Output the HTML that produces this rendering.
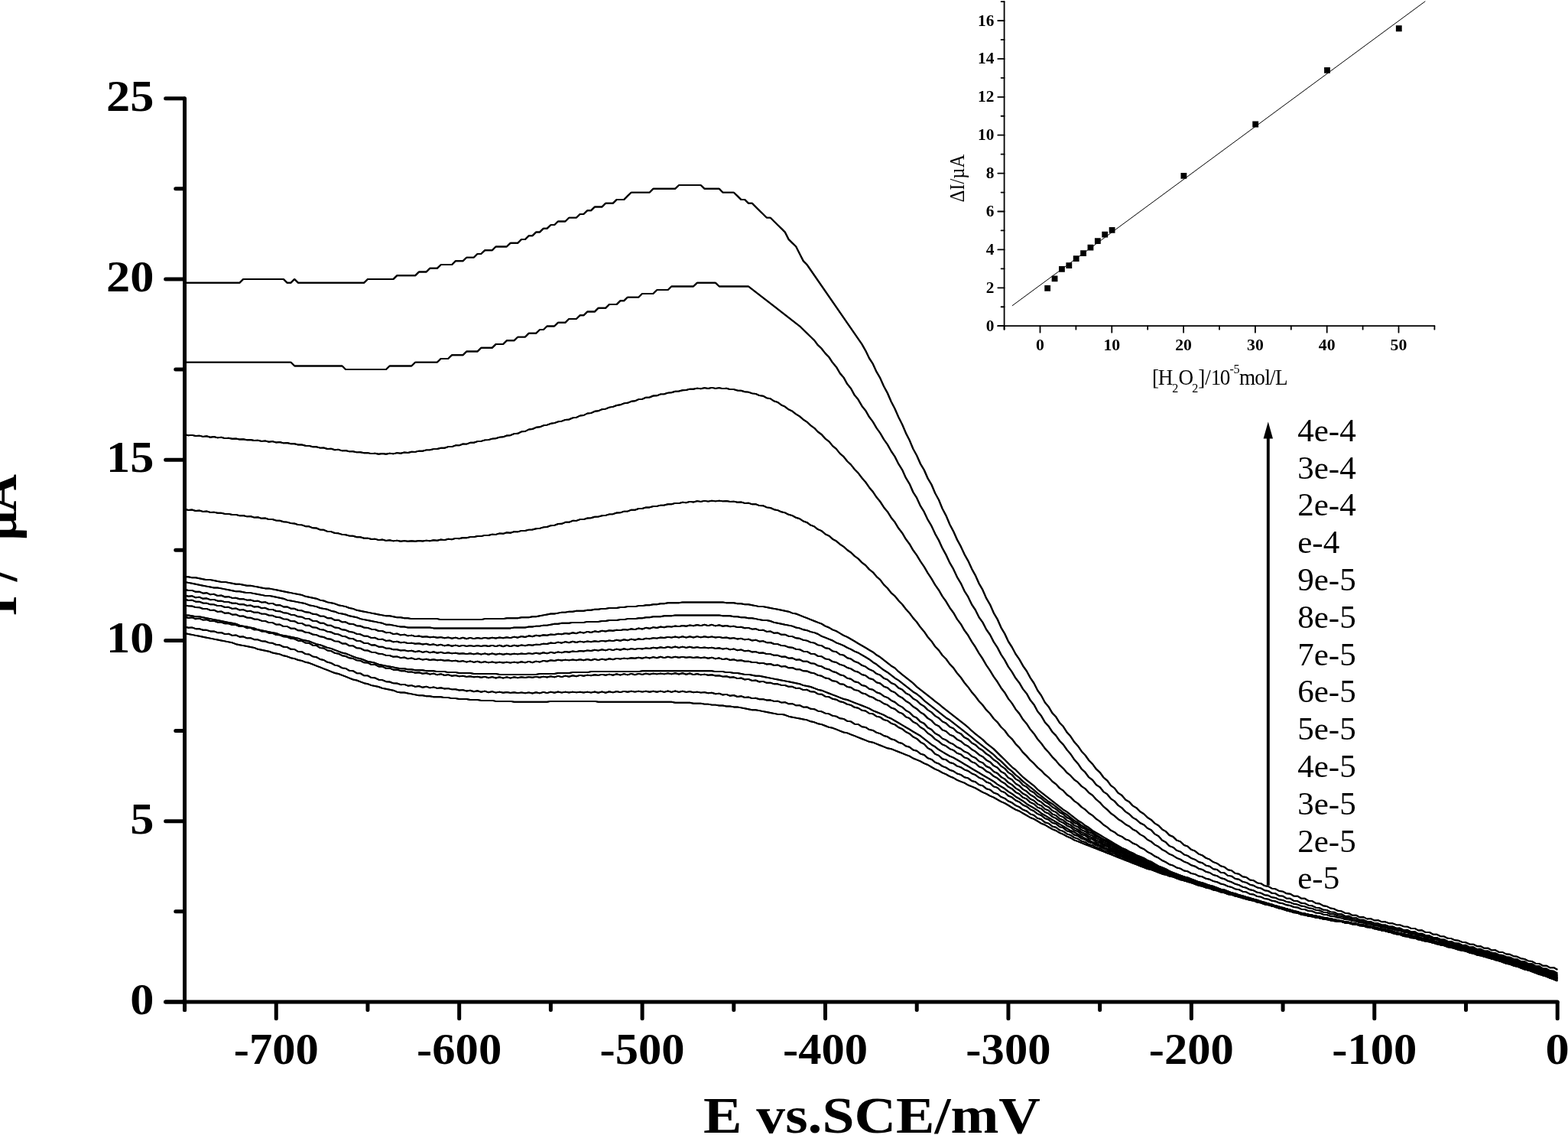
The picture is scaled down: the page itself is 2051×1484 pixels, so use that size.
<!DOCTYPE html>
<html lang="en"><head><meta charset="utf-8"><title>I / µA vs. E vs.SCE/mV</title>
<style>
html,body{margin:0;padding:0;background:#fff;}
body{width:2051px;height:1484px;overflow:hidden;}
svg{display:block;}
text{font-family:"Liberation Serif","DejaVu Serif",serif;fill:#000;}
.b{font-weight:bold;}
.ax{stroke:#000;stroke-width:5;stroke-linecap:round;stroke-linejoin:round;fill:none;}
.iax{stroke:#000;stroke-width:1.8;stroke-linecap:round;stroke-linejoin:round;fill:none;}
.cv{stroke:#000;stroke-width:1.95;stroke-linejoin:round;stroke-linecap:butt;fill:none;}
</style></head><body>
<svg width="2051" height="1484" viewBox="0 0 2051 1484">
<rect x="0" y="0" width="2051" height="1484" fill="#fff"/>
<g class="cv" transform="translate(-0.22 0)">
<path d="M241.6 828L246.3 829L251.1 829.9L255.9 830.9L260.7 831.8L265.5 832.8L270.3 833.7L275.1 834.6L279.9 835.6L284.6 836.5L289.4 837.5L294.2 838.4L299 839.4L303.8 840.3L308.6 842.2L313.4 843.2L318.2 844.1L323 845L327.7 846L332.5 846.9L337.3 848.8L342.1 849.8L346.9 850.7L351.7 851.7L356.5 853.5L361.3 854.5L366 855.4L370.8 857.3L375.6 858.3L380.4 860.2L385.2 861.1L390 863L394.8 863.9L399.6 865.8L404.4 866.8L409.1 868.7L413.9 870.6L418.7 872.4L423.5 874.3L428.3 876.2L433.1 878.1L437.9 880L442.7 881L447.5 882.8L452.2 884.7L457 886.6L461.8 888.5L466.6 889.5L471.4 891.3L476.2 893.2L481 894.2L485.8 896.1L490.5 897L495.3 898L500.1 899.9L504.9 900.8L509.7 901.7L514.5 902.7L519.3 904.6L524.1 905.5L528.9 905.5L533.6 906.5L538.4 907.4L543.2 908.4L548 909.3L552.8 909.3L557.6 910.2L562.4 910.2L567.2 911.2L571.9 911.2L576.7 911.2L581.5 912.1L586.3 912.1L591.1 913.1L595.9 913.1L600.7 914L605.5 914L610.3 914L615 915L619.8 915L624.6 915L629.4 915.9L634.2 915.9L639 915.9L643.8 915.9L648.6 916.9L653.4 916.9L658.1 916.9L662.9 916.9L667.7 916.9L672.5 917.8L677.3 917.8L682.1 917.8L686.9 917.8L691.7 917.8L696.4 917.8L701.2 917.8L706 917.8L710.8 917.8L715.6 917.8L720.4 916.9L725.2 916.9L730 916.9L734.8 916.9L739.5 916.9L744.3 916.9L749.1 916.9L753.9 916.9L758.7 916.9L763.5 916.9L768.3 916.9L773.1 916.9L777.9 916.9L782.6 917.8L787.4 917.8L792.2 917.8L797 917.8L801.8 917.8L806.6 917.8L811.4 917.8L816.2 917.8L820.9 917.8L825.7 917.8L830.5 917.8L835.3 917.8L840.1 917.8L844.9 917.8L849.7 917.8L854.5 917.8L859.3 917.8L864 917.8L868.8 917.8L873.6 917.8L878.4 917.8L883.2 918.8L888 918.8L892.8 918.8L897.6 918.8L902.3 918.8L907.1 919.7L911.9 919.7L916.7 919.7L921.5 920.6L926.3 920.6L931.1 921.6L935.9 921.6L940.7 922.5L945.4 922.5L950.2 923.5L955 923.5L959.8 924.4L964.6 924.4L969.4 925.4L974.2 926.3L979 927.3L983.8 928.2L988.5 928.2L993.3 929.1L998.1 930.1L1002.9 931L1007.7 932L1012.5 932.9L1017.3 933.9L1022.1 933.9L1026.8 934.8L1031.6 936.7L1036.4 937.7L1041.2 938.6L1046 939.5L1050.8 940.5L1055.6 941.4L1060.4 943.3L1065.2 944.3L1069.9 946.2L1074.7 947.1L1079.5 949L1084.3 950.9L1089.1 951.8L1093.9 953.7L1098.7 955.6L1103.5 957.5L1108.3 958.4L1113 960.3L1117.8 962.2L1122.6 964.1L1127.4 966L1132.2 967.9L1137 969.8L1141.8 970.7L1146.6 972.6L1151.3 974.5L1156.1 976.4L1160.9 978.3L1165.7 979.2L1170.5 981.1L1175.3 983L1180.1 984.9L1184.9 986.8L1189.7 988.7L1194.4 991.5L1199.2 993.4L1204 995.3L1208.8 998.1L1213.6 1000L1218.4 1002.9L1223.2 1005.7L1228 1007.6L1232.7 1010.4L1237.5 1012.3L1242.3 1015.1L1247.1 1017L1251.9 1019.9L1256.7 1021.8L1261.5 1023.7L1266.3 1026.5L1271.1 1028.4L1275.8 1030.3L1280.6 1033.1L1285.4 1035.9L1290.2 1037.8L1295 1040.7L1299.8 1042.6L1304.6 1045.4L1309.4 1048.2L1314.2 1050.1L1318.9 1052.9L1323.7 1055.8L1328.5 1058.6L1333.3 1060.5L1338.1 1063.3L1342.9 1066.2L1347.7 1069L1352.5 1070.9L1357.2 1073.7L1362 1076.6L1366.8 1078.5L1371.6 1081.3L1376.4 1084.1L1381.2 1086L1386 1088.9L1390.8 1090.8L1395.6 1093.6L1400.3 1095.5L1405.1 1098.3L1409.9 1100.2L1414.7 1102.1L1419.5 1104L1424.3 1105.9L1429.1 1107.8L1433.9 1109.7L1438.7 1111.5L1443.4 1113.4L1448.2 1115.3L1453 1117.2L1457.8 1119.1L1462.6 1121L1467.4 1122.9L1472.2 1124.8L1477 1126.7L1481.7 1128.6L1486.5 1130.4L1491.3 1132.3L1496.1 1134.2L1500.9 1136.1L1505.7 1137.1L1510.5 1138.9L1515.3 1140.8L1520.1 1142.7L1524.8 1143.7L1529.6 1145.6L1534.4 1146.5L1539.2 1148.4L1544 1150.3L1548.8 1151.2L1553.6 1153.1L1558.4 1154.1L1563.1 1156L1567.9 1157.8L1572.7 1158.8L1577.5 1160.7L1582.3 1161.6L1587.1 1163.5L1591.9 1164.5L1596.7 1166.4L1601.5 1167.3L1606.2 1169.2L1611 1170.1L1615.8 1171.1L1620.6 1173L1625.4 1173.9L1630.2 1175.8L1635 1176.7L1639.8 1177.7L1644.6 1179.6L1649.3 1180.5L1654.1 1182.4L1658.9 1183.4L1663.7 1184.3L1668.5 1186.2L1673.3 1187.1L1678.1 1189L1682.9 1190L1687.6 1191.9L1692.4 1192.8L1697.2 1193.8L1702 1195.7L1706.8 1196.6L1711.6 1197.5L1716.4 1198.5L1721.2 1199.4L1726 1200.4L1730.7 1201.3L1735.5 1202.3L1740.3 1203.2L1745.1 1204.2L1749.9 1205.1L1754.7 1205.1L1759.5 1206L1764.3 1207L1769 1207.9L1773.8 1208.9L1778.6 1209.8L1783.4 1210.8L1788.2 1211.7L1793 1212.7L1797.8 1213.6L1802.6 1215.5L1807.4 1216.4L1812.1 1217.4L1816.9 1218.3L1821.7 1220.2L1826.5 1221.2L1831.3 1222.1L1836.1 1224L1840.9 1224.9L1845.7 1225.9L1850.5 1226.8L1855.2 1227.8L1860 1229.7L1864.8 1230.6L1869.6 1231.6L1874.4 1232.5L1879.2 1234.4L1884 1235.3L1888.8 1236.3L1893.5 1238.2L1898.3 1239.1L1903.1 1240.1L1907.9 1242L1912.7 1242.9L1917.5 1243.8L1922.3 1245.7L1927.1 1246.7L1931.9 1248.6L1936.6 1249.5L1941.4 1250.5L1946.2 1252.4L1951 1253.3L1955.8 1255.2L1960.6 1256.1L1965.4 1258L1970.2 1259.9L1975 1260.9L1979.7 1262.7L1984.5 1263.7L1989.3 1265.6L1994.1 1267.5L1998.9 1268.4L2003.7 1270.3L2008.5 1272.2L2013.3 1274.1L2018 1275L2022.8 1276.9L2027.6 1278.8L2032.4 1280.7L2037.2 1282.6"/>
<path d="M241.6 819.2L246.3 820.7L251.1 820.4L255.9 822.2L260.7 822.1L265.5 823.7L270.3 823.8L275.1 825.4L279.9 825.4L284.6 827.2L289.4 827L294.2 829.1L299 828.7L303.8 830.9L308.6 830.4L313.4 832.7L318.2 832.3L323 834.4L327.7 834.2L332.5 836.2L337.3 836.3L342.1 838.2L346.9 838.5L351.7 840.4L356.5 840.8L361.3 843L366 843.3L370.8 845.8L375.6 846.1L380.4 848.8L385.2 849L390 852L394.8 852.2L399.6 855.1L404.4 855.5L409.1 858.4L413.9 859.2L418.7 862L423.5 863L428.3 865.8L433.1 866.9L437.9 869.6L442.7 870.6L447.5 873.4L452.2 874L457 876.9L461.8 877.2L466.6 880.2L471.4 880.4L476.2 883.3L481 883.4L485.8 886.1L490.5 886.3L495.3 888.7L500.1 889.1L504.9 891.2L509.7 891.5L514.5 893.4L519.3 893.5L524.1 895.2L528.9 894.9L533.6 896.7L538.4 896.1L543.2 897.9L548 897L552.8 898.8L557.6 897.7L562.4 899.4L567.2 898.4L571.9 899.9L576.7 899.2L581.5 900.5L586.3 900.1L591.1 901.4L595.9 901.2L600.7 902.5L605.5 902.1L610.3 903.5L615 902.7L619.8 904.2L624.6 903.2L629.4 904.8L634.2 903.6L639 905.3L643.8 904.1L648.6 905.6L653.4 904.6L658.1 905.8L662.9 905L667.7 905.9L672.5 905.2L677.3 906.1L682.1 905.4L686.9 906.3L691.7 905.4L696.4 906.5L701.2 905.2L706 906.4L710.8 904.9L715.6 906.1L720.4 904.6L725.2 905.8L730 904.5L734.8 905.6L739.5 904.6L744.3 905.5L749.1 904.6L753.9 905.4L758.7 904.7L763.5 905.5L768.3 904.6L773.1 905.6L777.9 904.5L782.6 905.7L787.4 904.4L792.2 905.7L797 904.2L801.8 905.4L806.6 904L811.4 905.1L816.2 903.9L820.9 904.8L825.7 903.8L830.5 904.6L835.3 903.8L840.1 904.6L844.9 903.8L849.7 904.7L854.5 903.7L859.3 904.8L864 903.6L868.8 904.9L873.6 903.5L878.4 904.9L883.2 903.5L888 904.9L892.8 903.7L897.6 904.9L902.3 904.1L907.1 905.2L911.9 904.6L916.7 905.6L921.5 905.1L926.3 906.2L931.1 905.7L935.9 907.2L940.7 906.7L945.4 908.5L950.2 907.9L955 909.8L959.8 909L964.6 911L969.4 910.2L974.2 912L979 911.5L983.8 913.1L988.5 912.8L993.3 914.3L998.1 914.1L1002.9 915.5L1007.7 915.3L1012.5 916.9L1017.3 916.7L1022.1 918.6L1026.8 918.2L1031.6 920.4L1036.4 920L1041.2 922.4L1046 922.1L1050.8 924.6L1055.6 924.5L1060.4 926.8L1065.2 927.2L1069.9 929.6L1074.7 930.3L1079.5 932.6L1084.3 933.4L1089.1 935.9L1093.9 936.6L1098.7 939.3L1103.5 939.9L1108.3 942.9L1113 943.4L1117.8 946.6L1122.6 947L1127.4 950.3L1132.2 950.9L1137 954L1141.8 954.9L1146.6 957.9L1151.3 959.1L1156.1 962L1160.9 963.3L1165.7 966.3L1170.5 967.6L1175.3 970.8L1180.1 972L1184.9 975.5L1189.7 976.7L1194.4 980.5L1199.2 981.7L1204 985.6L1208.8 987L1213.6 991.2L1218.4 992.8L1223.2 996.8L1228 998.5L1232.7 1001.9L1237.5 1003.6L1242.3 1006.8L1247.1 1008.3L1251.9 1011.5L1256.7 1012.9L1261.5 1016.2L1266.3 1017.4L1271.1 1021L1275.8 1022.2L1280.6 1026.1L1285.4 1027.3L1290.2 1031.3L1295 1032.6L1299.8 1036.5L1304.6 1038.1L1309.4 1041.9L1314.2 1043.8L1318.9 1047.4L1323.7 1049.5L1328.5 1053.1L1333.3 1055.1L1338.1 1058.7L1342.9 1060.5L1347.7 1064.3L1352.5 1065.9L1357.2 1069.9L1362 1071.2L1366.8 1075.3L1371.6 1076.6L1376.4 1080.5L1381.2 1081.8L1386 1085.4L1390.8 1086.9L1395.6 1090.3L1400.3 1091.9L1405.1 1095.1L1409.9 1096.7L1414.7 1099.8L1419.5 1101.1L1424.3 1104.2L1429.1 1105.2L1433.9 1108.3L1438.7 1109L1443.4 1112.2L1448.2 1112.7L1453 1115.9L1457.8 1116.4L1462.6 1119.6L1467.4 1120.4L1472.2 1123.4L1477 1124.4L1481.7 1127.3L1486.5 1128.4L1491.3 1131.2L1496.1 1132.3L1500.9 1135L1505.7 1135.8L1510.5 1138.6L1515.3 1139.1L1520.1 1142.1L1524.8 1142.3L1529.6 1145.3L1534.4 1145.6L1539.2 1148.5L1544 1148.8L1548.8 1151.5L1553.6 1152L1558.4 1154.4L1563.1 1155.1L1567.9 1157.4L1572.7 1158L1577.5 1160.3L1582.3 1160.9L1587.1 1163.3L1591.9 1163.6L1596.7 1166.3L1601.5 1166.4L1606.2 1169.1L1611 1169.1L1615.8 1171.8L1620.6 1171.8L1625.4 1174.4L1630.2 1174.6L1635 1177L1639.8 1177.4L1644.6 1179.5L1649.3 1180L1654.1 1182.2L1658.9 1182.7L1663.7 1184.9L1668.5 1185.3L1673.3 1187.8L1678.1 1188L1682.9 1190.6L1687.6 1190.6L1692.4 1193.3L1697.2 1193.2L1702 1195.7L1706.8 1195.7L1711.6 1197.9L1716.4 1197.9L1721.2 1199.8L1726 1199.9L1730.7 1201.6L1735.5 1201.7L1740.3 1203.3L1745.1 1203.2L1749.9 1205L1754.7 1204.7L1759.5 1206.8L1764.3 1206.3L1769 1208.5L1773.8 1208L1778.6 1210.4L1783.4 1210.1L1788.2 1212.3L1793 1212.3L1797.8 1214.4L1802.6 1214.6L1807.4 1216.6L1812.1 1217L1816.9 1218.9L1821.7 1219.3L1826.5 1221.4L1831.3 1221.5L1836.1 1223.8L1840.9 1223.8L1845.7 1226.3L1850.5 1226L1855.2 1228.6L1860 1228.4L1864.8 1230.9L1869.6 1230.8L1874.4 1233.1L1879.2 1233.3L1884 1235.4L1888.8 1235.8L1893.5 1237.8L1898.3 1238.2L1903.1 1240.3L1907.9 1240.7L1912.7 1243L1917.5 1243.1L1922.3 1245.7L1927.1 1245.7L1931.9 1248.4L1936.6 1248.4L1941.4 1251.1L1946.2 1251.2L1951 1253.8L1955.8 1254.1L1960.6 1256.5L1965.4 1257.1L1970.2 1259.4L1975 1260.1L1979.7 1262.4L1984.5 1263.1L1989.3 1265.5L1994.1 1266.1L1998.9 1268.8L2003.7 1269.2L2008.5 1272.1L2013.3 1272.4L2018 1275.5L2022.8 1275.8L2027.6 1278.8L2032.4 1279.3L2037.2 1282.1"/>
<path d="M241.6 806.4L246.3 808L251.1 807.2L255.9 809.3L260.7 808.6L265.5 810.6L270.3 810.2L275.1 812L279.9 811.9L284.6 813.5L289.4 813.6L294.2 815.2L299 815.3L303.8 817.1L308.6 817L313.4 819.1L318.2 818.9L323 821.2L327.7 820.9L332.5 823.4L337.3 823.1L342.1 825.5L346.9 825.5L351.7 827.7L356.5 827.9L361.3 830L366 830.3L370.8 832.4L375.6 832.8L380.4 834.9L385.2 835.3L390 837.7L394.8 838L399.6 840.6L404.4 840.8L409.1 843.7L413.9 844L418.7 847.1L423.5 847.5L428.3 850.5L433.1 851.1L437.9 853.9L442.7 854.7L447.5 857.2L452.2 858L457 860.3L461.8 861L466.6 863.4L471.4 863.8L476.2 866.4L481 866.5L485.8 869.1L490.5 868.9L495.3 871.5L500.1 871.3L504.9 873.8L509.7 873.6L514.5 875.7L519.3 875.5L524.1 877.2L528.9 877.1L533.6 878.6L538.4 878.4L543.2 879.7L548 879.3L552.8 880.7L557.6 880L562.4 881.6L567.2 880.6L571.9 882.3L576.7 881.2L581.5 883L586.3 882.1L591.1 883.7L595.9 883L600.7 884.4L605.5 883.8L610.3 884.9L615 884.3L619.8 885.3L624.6 884.7L629.4 885.8L634.2 884.9L639 886.2L643.8 885.1L648.6 886.5L653.4 885.2L658.1 886.6L662.9 885.3L667.7 886.6L672.5 885.3L677.3 886.3L682.1 885.2L686.9 886L691.7 885.1L696.4 885.8L701.2 884.9L706 885.7L710.8 884.6L715.6 885.5L720.4 884.3L725.2 885.4L730 883.9L734.8 885.1L739.5 883.6L744.3 884.7L749.1 883.2L753.9 884.2L758.7 882.9L763.5 883.7L768.3 882.6L773.1 883.2L777.9 882.3L782.6 882.9L787.4 881.9L792.2 882.8L797 881.6L801.8 882.7L806.6 881.3L811.4 882.6L816.2 881.1L820.9 882.4L825.7 880.9L830.5 882.2L835.3 880.9L840.1 881.9L844.9 880.8L849.7 881.6L854.5 880.7L859.3 881.4L864 880.6L868.8 881.4L873.6 880.4L878.4 881.4L883.2 880.2L888 881.5L892.8 880.2L897.6 881.7L902.3 880.5L907.1 882.1L911.9 881L916.7 882.4L921.5 881.6L926.3 882.8L931.1 882.3L935.9 883.5L940.7 883.2L945.4 884.6L950.2 884.3L955 885.8L959.8 885.3L964.6 887.1L969.4 886.5L974.2 888.5L979 887.9L983.8 890L988.5 889.5L993.3 891.5L998.1 890.9L1002.9 892.8L1007.7 892.6L1012.5 894.3L1017.3 894.3L1022.1 895.9L1026.8 896L1031.6 897.8L1036.4 897.8L1041.2 899.9L1046 899.8L1050.8 902.1L1055.6 901.8L1060.4 904.4L1065.2 904.5L1069.9 907.4L1074.7 907.7L1079.5 910.6L1084.3 911.2L1089.1 913.8L1093.9 914.7L1098.7 917.3L1103.5 918.3L1108.3 920.9L1113 921.9L1117.8 924.8L1122.6 925.7L1127.4 928.8L1132.2 929.5L1137 932.8L1141.8 933.4L1146.6 936.8L1151.3 937.6L1156.1 941.1L1160.9 942.2L1165.7 945.8L1170.5 947.4L1175.3 951L1180.1 953.1L1184.9 956.9L1189.7 959.3L1194.4 963.4L1199.2 965.8L1204 970.3L1208.8 972.9L1213.6 978.1L1218.4 980.7L1223.2 985.9L1228 987.9L1232.7 992.2L1237.5 993.4L1242.3 997L1247.1 998.2L1251.9 1001.6L1256.7 1003.1L1261.5 1006.3L1266.3 1008L1271.1 1011.3L1275.8 1013.2L1280.6 1016.8L1285.4 1018.6L1290.2 1022.5L1295 1024.1L1299.8 1028.4L1304.6 1029.9L1309.4 1034.4L1314.2 1036.1L1318.9 1040.5L1323.7 1042.4L1328.5 1046.5L1333.3 1048.6L1338.1 1052.5L1342.9 1054.6L1347.7 1058.3L1352.5 1060.4L1357.2 1064.2L1362 1066.1L1366.8 1070L1371.6 1071.7L1376.4 1075.7L1381.2 1077.1L1386 1081.1L1390.8 1082.4L1395.6 1086.4L1400.3 1087.8L1405.1 1091.5L1409.9 1093L1414.7 1096.4L1419.5 1097.9L1424.3 1101L1429.1 1102.4L1433.9 1105.3L1438.7 1106.6L1443.4 1109.5L1448.2 1110.5L1453 1113.6L1457.8 1114.4L1462.6 1117.7L1467.4 1118.4L1472.2 1121.8L1477 1122.5L1481.7 1125.8L1486.5 1126.6L1491.3 1129.7L1496.1 1130.7L1500.9 1133.5L1505.7 1134.5L1510.5 1137.2L1515.3 1138.2L1520.1 1140.8L1524.8 1141.6L1529.6 1144.3L1534.4 1144.8L1539.2 1147.7L1544 1148L1548.8 1150.9L1553.6 1151.1L1558.4 1154L1563.1 1154.2L1567.9 1156.9L1572.7 1157.4L1577.5 1159.8L1582.3 1160.4L1587.1 1162.7L1591.9 1163.3L1596.7 1165.6L1601.5 1166.1L1606.2 1168.5L1611 1168.8L1615.8 1171.4L1620.6 1171.5L1625.4 1174.2L1630.2 1174.1L1635 1176.8L1639.8 1176.8L1644.6 1179.4L1649.3 1179.6L1654.1 1182L1658.9 1182.4L1663.7 1184.6L1668.5 1185.2L1673.3 1187.4L1678.1 1187.9L1682.9 1190.2L1687.6 1190.6L1692.4 1192.9L1697.2 1193L1702 1195.5L1706.8 1195.3L1711.6 1197.8L1716.4 1197.5L1721.2 1199.8L1726 1199.5L1730.7 1201.6L1735.5 1201.3L1740.3 1203.2L1745.1 1203.1L1749.9 1204.7L1754.7 1204.8L1759.5 1206.4L1764.3 1206.4L1769 1208.2L1773.8 1208L1778.6 1210.2L1783.4 1209.9L1788.2 1212.3L1793 1211.9L1797.8 1214.4L1802.6 1214.2L1807.4 1216.6L1812.1 1216.6L1816.9 1218.8L1821.7 1219L1826.5 1221L1831.3 1221.4L1836.1 1223.3L1840.9 1223.7L1845.7 1225.7L1850.5 1225.9L1855.2 1228.1L1860 1228.1L1864.8 1230.5L1869.6 1230.3L1874.4 1232.9L1879.2 1232.7L1884 1235.2L1888.8 1235.1L1893.5 1237.5L1898.3 1237.7L1903.1 1239.9L1907.9 1240.3L1912.7 1242.4L1917.5 1242.9L1922.3 1245L1927.1 1245.4L1931.9 1247.7L1936.6 1248L1941.4 1250.5L1946.2 1250.6L1951 1253.3L1955.8 1253.3L1960.6 1256.1L1965.4 1256.2L1970.2 1258.9L1975 1259.2L1979.7 1261.8L1984.5 1262.3L1989.3 1264.8L1994.1 1265.5L1998.9 1267.9L2003.7 1268.7L2008.5 1271.1L2013.3 1271.8L2018 1274.5L2022.8 1275L2027.6 1278L2032.4 1278.4L2037.2 1281.5"/>
<path d="M241.6 804.4L246.3 804.4L251.1 805.3L255.9 806.3L260.7 806.3L265.5 807.2L270.3 808.2L275.1 809.1L279.9 810.1L284.6 811L289.4 812L294.2 812.9L299 813.9L303.8 814.8L308.6 815.7L313.4 817.6L318.2 818.6L323 819.5L327.7 820.5L332.5 821.4L337.3 823.3L342.1 824.2L346.9 825.2L351.7 826.1L356.5 827.1L361.3 828L366 829.9L370.8 830.9L375.6 831.8L380.4 832.8L385.2 833.7L390 834.6L394.8 836.5L399.6 837.5L404.4 838.4L409.1 840.3L413.9 842.2L418.7 843.2L423.5 845L428.3 846.9L433.1 847.9L437.9 849.8L442.7 851.7L447.5 853.5L452.2 854.5L457 856.4L461.8 858.3L466.6 860.2L471.4 861.1L476.2 863L481 864.9L485.8 865.8L490.5 866.8L495.3 868.7L500.1 869.6L504.9 870.6L509.7 871.5L514.5 872.4L519.3 873.4L524.1 874.3L528.9 874.3L533.6 875.3L538.4 875.3L543.2 876.2L548 876.2L552.8 876.2L557.6 877.2L562.4 877.2L567.2 877.2L571.9 878.1L576.7 878.1L581.5 878.1L586.3 879.1L591.1 879.1L595.9 879.1L600.7 880L605.5 880L610.3 880L615 880L619.8 881L624.6 881L629.4 881L634.2 881L639 881L643.8 881L648.6 881L653.4 881.9L658.1 881.9L662.9 881.9L667.7 881.9L672.5 881.9L677.3 881.9L682.1 881.9L686.9 881.9L691.7 881.9L696.4 881.9L701.2 881.9L706 881L710.8 881L715.6 881L720.4 881L725.2 881L730 880L734.8 880L739.5 880L744.3 880L749.1 879.1L753.9 879.1L758.7 879.1L763.5 879.1L768.3 879.1L773.1 878.1L777.9 878.1L782.6 878.1L787.4 878.1L792.2 878.1L797 878.1L801.8 878.1L806.6 878.1L811.4 878.1L816.2 878.1L820.9 878.1L825.7 878.1L830.5 878.1L835.3 878.1L840.1 877.2L916.7 877.2L921.5 877.2L926.3 877.2L931.1 877.2L935.9 878.1L940.7 878.1L945.4 878.1L950.2 879.1L955 879.1L959.8 880L964.6 880L969.4 881L974.2 881.9L979 881.9L983.8 882.8L988.5 883.8L993.3 883.8L998.1 884.7L1002.9 885.7L1007.7 886.6L1012.5 887.6L1017.3 888.5L1022.1 889.5L1026.8 890.4L1031.6 891.3L1036.4 892.3L1041.2 893.2L1046 894.2L1050.8 896.1L1055.6 897L1060.4 898L1065.2 899.9L1069.9 901.7L1074.7 902.7L1079.5 904.6L1084.3 906.5L1089.1 908.4L1093.9 910.2L1098.7 912.1L1103.5 914L1108.3 915L1113 916.9L1117.8 918.8L1122.6 920.6L1127.4 922.5L1132.2 924.4L1137 926.3L1141.8 929.1L1146.6 931L1151.3 932.9L1156.1 934.8L1160.9 937.7L1165.7 939.5L1170.5 942.4L1175.3 945.2L1180.1 948L1184.9 950.9L1189.7 953.7L1194.4 956.6L1199.2 959.4L1204 962.2L1208.8 966L1213.6 969.8L1218.4 973.6L1223.2 976.4L1228 980.2L1232.7 983L1237.5 985.9L1242.3 988.7L1247.1 990.6L1251.9 993.4L1256.7 996.2L1261.5 999.1L1266.3 1001.9L1271.1 1004.8L1275.8 1007.6L1280.6 1010.4L1285.4 1013.3L1290.2 1016.1L1295 1018.9L1299.8 1021.8L1304.6 1025.5L1309.4 1028.4L1314.2 1031.2L1318.9 1035L1323.7 1037.8L1328.5 1041.6L1333.3 1044.4L1338.1 1047.3L1342.9 1051.1L1347.7 1053.9L1352.5 1056.7L1357.2 1059.6L1362 1063.3L1366.8 1066.2L1371.6 1069L1376.4 1071.8L1381.2 1074.7L1386 1077.5L1390.8 1080.4L1395.6 1083.2L1400.3 1086L1405.1 1087.9L1409.9 1090.8L1414.7 1093.6L1419.5 1096.4L1424.3 1098.3L1429.1 1101.1L1433.9 1103L1438.7 1104.9L1443.4 1107.8L1448.2 1109.7L1453 1111.5L1457.8 1113.4L1462.6 1115.3L1467.4 1118.2L1472.2 1120L1477 1121.9L1481.7 1123.8L1486.5 1125.7L1491.3 1128.6L1496.1 1130.4L1500.9 1132.3L1505.7 1134.2L1510.5 1136.1L1515.3 1138L1520.1 1139.9L1524.8 1141.8L1529.6 1142.7L1534.4 1144.6L1539.2 1146.5L1544 1148.4L1548.8 1149.3L1553.6 1151.2L1558.4 1153.1L1563.1 1154.1L1567.9 1156L1572.7 1157.8L1577.5 1158.8L1582.3 1160.7L1587.1 1161.6L1591.9 1163.5L1596.7 1164.5L1601.5 1166.4L1606.2 1167.3L1611 1169.2L1615.8 1170.1L1620.6 1172L1625.4 1173L1630.2 1174.9L1635 1175.8L1639.8 1177.7L1644.6 1178.6L1649.3 1179.6L1654.1 1181.5L1658.9 1182.4L1663.7 1184.3L1668.5 1185.3L1673.3 1187.1L1678.1 1188.1L1682.9 1190L1687.6 1190.9L1692.4 1191.9L1697.2 1193.8L1702 1194.7L1706.8 1195.7L1711.6 1196.6L1716.4 1197.5L1721.2 1199.4L1726 1200.4L1730.7 1200.4L1735.5 1201.3L1740.3 1202.3L1745.1 1203.2L1749.9 1204.2L1754.7 1205.1L1759.5 1206L1764.3 1207L1769 1207.9L1773.8 1208.9L1778.6 1209.8L1783.4 1210.8L1788.2 1211.7L1793 1212.7L1797.8 1213.6L1802.6 1214.6L1807.4 1215.5L1812.1 1217.4L1816.9 1218.3L1821.7 1219.3L1826.5 1220.2L1831.3 1221.2L1836.1 1223.1L1840.9 1224L1845.7 1224.9L1850.5 1225.9L1855.2 1226.8L1860 1228.7L1864.8 1229.7L1869.6 1230.6L1874.4 1231.6L1879.2 1233.5L1884 1234.4L1888.8 1235.3L1893.5 1236.3L1898.3 1238.2L1903.1 1239.1L1907.9 1240.1L1912.7 1242L1917.5 1242.9L1922.3 1243.8L1927.1 1245.7L1931.9 1246.7L1936.6 1248.6L1941.4 1249.5L1946.2 1250.5L1951 1252.4L1955.8 1253.3L1960.6 1255.2L1965.4 1256.1L1970.2 1258L1975 1259L1979.7 1260.9L1984.5 1262.7L1989.3 1263.7L1994.1 1265.6L1998.9 1266.5L2003.7 1268.4L2008.5 1270.3L2013.3 1272.2L2018 1273.1L2022.8 1275L2027.6 1276.9L2032.4 1278.8L2037.2 1279.8"/>
<path d="M241.6 791.2L246.3 792.4L251.1 792.5L255.9 794.1L260.7 794.2L265.5 796L270.3 795.9L275.1 797.9L279.9 797.6L284.6 799.9L289.4 799.4L294.2 801.8L299 801.4L303.8 803.7L308.6 803.4L313.4 805.6L318.2 805.5L323 807.5L327.7 807.7L332.5 809.5L337.3 809.8L342.1 811.7L346.9 811.9L351.7 814.1L356.5 814.1L361.3 816.6L366 816.5L370.8 819.1L375.6 819L380.4 821.7L385.2 821.7L390 824.3L394.8 824.5L399.6 826.8L404.4 827.3L409.1 829.5L413.9 830.1L418.7 832.3L423.5 833L428.3 835.3L433.1 835.8L437.9 838.4L442.7 838.6L447.5 841.4L452.2 841.4L457 844.3L461.8 844.4L466.6 847.3L471.4 847.6L476.2 850.2L481 850.5L485.8 852.6L490.5 852.9L495.3 854.8L500.1 855.1L504.9 856.9L509.7 857L514.5 858.8L519.3 858.4L524.1 860.2L528.9 859.5L533.6 861.3L538.4 860.4L543.2 862.1L548 861.1L552.8 862.6L557.6 861.7L562.4 863L567.2 862.2L571.9 863.3L576.7 862.7L581.5 863.7L586.3 863.2L591.1 864.4L595.9 863.7L600.7 865L605.5 864.1L610.3 865.6L615 864.4L619.8 865.9L624.6 864.7L629.4 866.2L634.2 865.1L639 866.4L643.8 865.4L648.6 866.5L653.4 865.7L658.1 866.5L662.9 865.7L667.7 866.6L672.5 865.6L677.3 866.5L682.1 865.3L686.9 866.4L691.7 864.9L696.4 866.2L701.2 864.6L706 865.6L710.8 863.9L715.6 864.8L720.4 863.3L725.2 864L730 862.8L734.8 863.5L739.5 862.6L744.3 863.4L749.1 862.5L753.9 863.3L758.7 862.2L763.5 863.3L768.3 862L773.1 863.2L777.9 861.8L782.6 863.1L787.4 861.6L792.2 862.7L797 861.3L801.8 862.2L806.6 860.9L811.4 861.6L816.2 860.6L820.9 861.2L825.7 860.2L830.5 860.8L835.3 859.8L840.1 860.7L844.9 859.4L849.7 860.5L854.5 859.1L859.3 860.3L864 858.8L868.8 860.1L873.6 858.7L878.4 859.9L883.2 858.8L888 859.8L892.8 858.9L897.6 859.8L902.3 859.1L907.1 860L911.9 859.3L916.7 860.3L921.5 859.5L926.3 860.7L931.1 859.7L935.9 861.4L940.7 860.3L945.4 862.1L950.2 861.2L955 863L959.8 862.2L964.6 863.8L969.4 863.3L974.2 864.8L979 864.6L983.8 866L988.5 865.9L993.3 867.3L998.1 866.9L1002.9 868.5L1007.7 868L1012.5 870L1017.3 869.4L1022.1 871.6L1026.8 871L1031.6 873.3L1036.4 873L1041.2 875.2L1046 875.2L1050.8 877.3L1055.6 877.5L1060.4 879.5L1065.2 880.4L1069.9 882.9L1074.7 883.8L1079.5 886.5L1084.3 887.3L1089.1 890.3L1093.9 890.9L1098.7 894.2L1103.5 894.7L1108.3 898.1L1113 898.7L1117.8 902.1L1122.6 902.9L1127.4 906.2L1132.2 907.4L1137 910.5L1141.8 911.9L1146.6 915.1L1151.3 916.7L1156.1 920L1160.9 921.7L1165.7 925.4L1170.5 927L1175.3 931.1L1180.1 932.8L1184.9 937.3L1189.7 939.2L1194.4 943.9L1199.2 946.1L1204 950.9L1208.8 953.6L1213.6 958.6L1218.4 961.8L1223.2 966.5L1228 969.4L1232.7 973.4L1237.5 975.4L1242.3 979.1L1247.1 980.8L1251.9 984.7L1256.7 986.3L1261.5 990.4L1266.3 991.9L1271.1 996.2L1275.8 997.9L1280.6 1002.3L1285.4 1004.2L1290.2 1008.5L1295 1010.7L1299.8 1014.9L1304.6 1017.4L1309.4 1021.6L1314.2 1024.3L1318.9 1028.7L1323.7 1031.3L1328.5 1035.8L1333.3 1038.1L1338.1 1042.7L1342.9 1044.6L1347.7 1049.2L1352.5 1051.1L1357.2 1055.6L1362 1057.4L1366.8 1061.8L1371.6 1063.7L1376.4 1067.8L1381.2 1069.9L1386 1073.7L1390.8 1075.8L1395.6 1079.6L1400.3 1081.6L1405.1 1085.4L1409.9 1087.2L1414.7 1091L1419.5 1092.4L1424.3 1096.3L1429.1 1097.4L1433.9 1101.1L1438.7 1102.1L1443.4 1105.7L1448.2 1106.7L1453 1110L1457.8 1111.2L1462.6 1114.3L1467.4 1115.7L1472.2 1118.6L1477 1120L1481.7 1122.9L1486.5 1124.1L1491.3 1127.2L1496.1 1128.1L1500.9 1131.4L1505.7 1132.1L1510.5 1135.5L1515.3 1136L1520.1 1139.3L1524.8 1139.9L1529.6 1142.9L1534.4 1143.6L1539.2 1146.3L1544 1147L1548.8 1149.5L1553.6 1150.3L1558.4 1152.7L1563.1 1153.4L1567.9 1155.9L1572.7 1156.4L1577.5 1159L1582.3 1159.3L1587.1 1162.1L1591.9 1162.2L1596.7 1165.1L1601.5 1165.2L1606.2 1167.9L1611 1168.1L1615.8 1170.6L1620.6 1171L1625.4 1173.3L1630.2 1173.9L1635 1176L1639.8 1176.6L1644.6 1178.8L1649.3 1179.2L1654.1 1181.6L1658.9 1181.8L1663.7 1184.4L1668.5 1184.5L1673.3 1187.3L1678.1 1187.2L1682.9 1190L1687.6 1190L1692.4 1192.5L1697.2 1192.7L1702 1194.9L1706.8 1195.2L1711.6 1197.1L1716.4 1197.4L1721.2 1199.2L1726 1199.3L1730.7 1201.1L1735.5 1201L1740.3 1203L1745.1 1202.6L1749.9 1204.7L1754.7 1204.2L1759.5 1206.4L1764.3 1205.9L1769 1208.1L1773.8 1207.8L1778.6 1209.8L1783.4 1209.8L1788.2 1211.8L1793 1212L1797.8 1213.8L1802.6 1214.1L1807.4 1216.1L1812.1 1216.2L1816.9 1218.4L1821.7 1218.4L1826.5 1220.8L1831.3 1220.6L1836.1 1223.1L1840.9 1222.8L1845.7 1225.3L1850.5 1225.2L1855.2 1227.5L1860 1227.6L1864.8 1229.7L1869.6 1230L1874.4 1232L1879.2 1232.4L1884 1234.3L1888.8 1234.7L1893.5 1236.8L1898.3 1237L1903.1 1239.4L1907.9 1239.4L1912.7 1242L1917.5 1241.9L1922.3 1244.5L1927.1 1244.5L1931.9 1247L1936.6 1247.1L1941.4 1249.6L1946.2 1249.9L1951 1252.1L1955.8 1252.7L1960.6 1254.9L1965.4 1255.5L1970.2 1257.7L1975 1258.2L1979.7 1260.7L1984.5 1261.1L1989.3 1263.8L1994.1 1264L1998.9 1267L2003.7 1267.2L2008.5 1270.1L2013.3 1270.5L2018 1273.3L2022.8 1273.9L2027.6 1276.5L2032.4 1277.3L2037.2 1279.9"/>
<path d="M241.6 783.3L246.3 785L251.1 784.7L255.9 786.7L260.7 786.7L265.5 788.5L270.3 788.6L275.1 790.3L279.9 790.4L284.6 792.1L289.4 792.1L294.2 794L299 793.8L303.8 795.9L308.6 795.4L313.4 797.6L318.2 797.1L323 799.2L327.7 798.8L332.5 800.8L337.3 800.6L342.1 802.6L346.9 802.6L351.7 804.5L356.5 804.8L361.3 806.8L366 807.2L370.8 809.4L375.6 809.6L380.4 812.1L385.2 812.2L390 814.9L394.8 814.9L399.6 817.7L404.4 817.7L409.1 820.3L413.9 820.6L418.7 823.1L423.5 823.5L428.3 825.9L433.1 826.5L437.9 828.8L442.7 829.4L447.5 831.7L452.2 832.3L457 834.8L461.8 835.1L466.6 837.9L471.4 838.1L476.2 840.9L481 840.9L485.8 843.5L490.5 843.3L495.3 845.7L500.1 845.7L504.9 847.7L509.7 847.7L514.5 849.3L519.3 849.2L524.1 850.5L528.9 850.1L533.6 851.4L538.4 850.7L543.2 852.2L548 851.2L552.8 852.9L557.6 851.7L562.4 853.4L567.2 852.3L571.9 853.8L576.7 852.8L581.5 854.1L586.3 853.3L591.1 854.4L595.9 853.8L600.7 854.8L605.5 854.2L610.3 855.1L615 854.3L619.8 855.4L624.6 854.3L629.4 855.6L634.2 854.4L639 855.8L643.8 854.4L648.6 855.8L653.4 854.6L658.1 855.8L662.9 854.7L667.7 855.6L672.5 854.7L677.3 855.4L682.1 854.5L686.9 855.1L691.7 854.1L696.4 854.9L701.2 853.7L706 854.7L710.8 853.2L715.6 854.4L720.4 852.8L725.2 853.9L730 852.4L734.8 853.4L739.5 852L744.3 852.8L749.1 851.5L753.9 852.1L758.7 851L763.5 851.5L768.3 850.4L773.1 851L777.9 849.8L782.6 850.6L787.4 849.3L792.2 850.4L797 848.9L801.8 850.1L806.6 848.6L811.4 849.8L816.2 848.3L820.9 849.4L825.7 848.1L830.5 848.9L835.3 847.9L840.1 848.5L844.9 847.4L849.7 848L854.5 846.8L859.3 847.5L864 846.2L868.8 847.1L873.6 845.7L878.4 846.9L883.2 845.5L888 846.9L892.8 845.6L897.6 846.9L902.3 845.8L907.1 847L911.9 846.1L916.7 847.1L921.5 846.5L926.3 847.4L931.1 846.8L935.9 847.9L940.7 847.2L945.4 848.6L950.2 847.7L955 849.4L959.8 848.4L964.6 850.3L969.4 849.4L974.2 851.3L979 850.7L983.8 852.5L988.5 852.1L993.3 853.8L998.1 853.5L1002.9 855.1L1007.7 855.1L1012.5 856.8L1017.3 856.8L1022.1 858.7L1026.8 858.5L1031.6 860.6L1036.4 860.3L1041.2 862.7L1046 862.3L1050.8 864.8L1055.6 864.6L1060.4 867.2L1065.2 867.6L1069.9 870.4L1074.7 871.3L1079.5 874.1L1084.3 875.2L1089.1 878L1093.9 879.3L1098.7 882.2L1103.5 883.4L1108.3 886.7L1113 887.7L1117.8 891.3L1122.6 892.3L1127.4 896L1132.2 897L1137 900.7L1141.8 901.7L1146.6 905.3L1151.3 906.7L1156.1 910.3L1160.9 912.1L1165.7 915.8L1170.5 918L1175.3 922L1180.1 924.5L1184.9 928.9L1189.7 931.5L1194.4 936.3L1199.2 938.7L1204 943.7L1208.8 946L1213.6 951.3L1218.4 953.9L1223.2 958.9L1228 961.3L1232.7 965.6L1237.5 967.6L1242.3 971.2L1247.1 973.2L1251.9 976.9L1256.7 979L1261.5 982.7L1266.3 984.7L1271.1 988.8L1275.8 990.8L1280.6 995.4L1285.4 997.3L1290.2 1002L1295 1004L1299.8 1008.8L1304.6 1011L1309.4 1015.8L1314.2 1018.5L1318.9 1023.2L1323.7 1026L1328.5 1030.5L1333.3 1033.3L1338.1 1037.7L1342.9 1040.2L1347.7 1044.6L1352.5 1046.9L1357.2 1051.3L1362 1053.3L1366.8 1057.9L1371.6 1059.7L1376.4 1064.3L1381.2 1066.1L1386 1070.5L1390.8 1072.4L1395.6 1076.5L1400.3 1078.6L1405.1 1082.4L1409.9 1084.6L1414.7 1088.2L1419.5 1090.1L1424.3 1093.7L1429.1 1095.3L1433.9 1098.9L1438.7 1100.1L1443.4 1103.8L1448.2 1104.8L1453 1108.5L1457.8 1109.4L1462.6 1113L1467.4 1114L1472.2 1117.4L1477 1118.6L1481.7 1121.7L1486.5 1122.9L1491.3 1125.9L1496.1 1127.2L1500.9 1130L1505.7 1131.3L1510.5 1134.3L1515.3 1135.3L1520.1 1138.5L1524.8 1139.2L1529.6 1142.4L1534.4 1142.8L1539.2 1145.9L1544 1146.2L1548.8 1149.2L1553.6 1149.6L1558.4 1152.3L1563.1 1152.9L1567.9 1155.4L1572.7 1156.1L1577.5 1158.4L1582.3 1159.1L1587.1 1161.5L1591.9 1162L1596.7 1164.6L1601.5 1164.9L1606.2 1167.6L1611 1167.7L1615.8 1170.5L1620.6 1170.5L1625.4 1173.3L1630.2 1173.4L1635 1175.9L1639.8 1176.3L1644.6 1178.6L1649.3 1179.1L1654.1 1181.2L1658.9 1181.8L1663.7 1184L1668.5 1184.5L1673.3 1186.9L1678.1 1187.2L1682.9 1189.7L1687.6 1189.8L1692.4 1192.4L1697.2 1192.3L1702 1194.9L1706.8 1194.8L1711.6 1197.1L1716.4 1197L1721.2 1199.1L1726 1199.1L1730.7 1200.9L1735.5 1201L1740.3 1202.6L1745.1 1202.7L1749.9 1204.4L1754.7 1204.2L1759.5 1206.2L1764.3 1205.8L1769 1208L1773.8 1207.6L1778.6 1209.9L1783.4 1209.5L1788.2 1211.9L1793 1211.6L1797.8 1213.9L1802.6 1213.9L1807.4 1215.9L1812.1 1216.1L1816.9 1218L1821.7 1218.4L1826.5 1220.3L1831.3 1220.5L1836.1 1222.6L1840.9 1222.7L1845.7 1225L1850.5 1224.9L1855.2 1227.3L1860 1227.1L1864.8 1229.6L1869.6 1229.5L1874.4 1231.9L1879.2 1231.9L1884 1234.1L1888.8 1234.4L1893.5 1236.5L1898.3 1236.9L1903.1 1238.9L1907.9 1239.3L1912.7 1241.4L1917.5 1241.7L1922.3 1244.1L1927.1 1244.1L1931.9 1246.7L1936.6 1246.6L1941.4 1249.3L1946.2 1249.3L1951 1251.9L1955.8 1252L1960.6 1254.5L1965.4 1254.9L1970.2 1257.2L1975 1257.8L1979.7 1260.1L1984.5 1260.8L1989.3 1263.1L1994.1 1263.7L1998.9 1266.2L2003.7 1266.7L2008.5 1269.5L2013.3 1269.8L2018 1272.8L2022.8 1273.1L2027.6 1276.1L2032.4 1276.5L2037.2 1279.4"/>
<path d="M241.6 778.3L246.3 779.8L251.1 779.2L255.9 781.3L260.7 780.7L265.5 782.8L270.3 782.3L275.1 784.2L279.9 783.9L284.6 785.7L289.4 785.6L294.2 787.1L299 787.1L303.8 788.7L308.6 788.6L313.4 790.3L318.2 790L323 791.9L327.7 791.4L332.5 793.5L337.3 793L342.1 795.2L346.9 794.8L351.7 797L356.5 796.9L361.3 799L366 799.2L370.8 801.2L375.6 801.6L380.4 803.7L385.2 804.1L390 806.3L394.8 806.6L399.6 809L404.4 809.1L409.1 811.8L413.9 811.9L418.7 814.7L423.5 814.8L428.3 817.6L433.1 817.8L437.9 820.5L442.7 820.9L447.5 823.3L452.2 823.8L457 826L461.8 826.6L466.6 828.9L471.4 829.3L476.2 831.6L481 831.8L485.8 834.1L490.5 833.8L495.3 836.1L500.1 835.7L504.9 837.9L509.7 837.4L514.5 839.4L519.3 838.8L524.1 840.3L528.9 839.8L533.6 841.1L538.4 840.6L543.2 841.7L548 841.2L552.8 842.5L557.6 841.8L562.4 843.2L567.2 842.3L571.9 843.9L576.7 842.8L581.5 844.4L586.3 843.2L591.1 844.7L595.9 843.6L600.7 844.9L605.5 843.9L610.3 844.9L615 844.1L619.8 844.9L624.6 844.1L629.4 844.9L634.2 844L639 845L643.8 843.9L648.6 845.1L653.4 843.8L658.1 845.2L662.9 843.8L667.7 845.1L672.5 843.7L677.3 844.8L682.1 843.4L686.9 844.2L691.7 843.1L696.4 843.7L701.2 842.6L706 842.9L710.8 841.6L715.6 842L720.4 840.5L725.2 841.1L730 839.6L734.8 840.7L739.5 839.1L744.3 840.3L749.1 838.8L753.9 840L758.7 838.6L763.5 839.6L768.3 838.5L773.1 839.3L777.9 838.2L782.6 838.9L787.4 837.9L792.2 838.5L797 837.4L801.8 838.1L806.6 836.8L811.4 837.7L816.2 836.2L820.9 837.3L825.7 835.6L830.5 836.8L835.3 835.2L840.1 836.1L844.9 834.7L849.7 835.3L854.5 834.1L859.3 834.6L864 833.5L868.8 834L873.6 832.9L878.4 833.6L883.2 832.5L888 833.6L892.8 832.3L897.6 833.6L902.3 832.2L907.1 833.5L911.9 832.1L916.7 833.4L921.5 832.2L926.3 833.3L931.1 832.4L935.9 833.5L940.7 832.9L945.4 834L950.2 833.5L955 834.7L959.8 834.1L964.6 835.5L969.4 834.8L974.2 836.4L979 835.6L983.8 837.5L988.5 836.7L993.3 838.7L998.1 838.1L1002.9 840.2L1007.7 840L1012.5 842L1017.3 842.1L1022.1 844.1L1026.8 844.4L1031.6 846.3L1036.4 846.7L1041.2 848.9L1046 849.2L1050.8 851.7L1055.6 851.9L1060.4 854.7L1065.2 854.9L1069.9 857.9L1074.7 858.3L1079.5 861.4L1084.3 862.1L1089.1 865.1L1093.9 866L1098.7 868.9L1103.5 870.1L1108.3 873L1113 874.4L1117.8 877.4L1122.6 878.8L1127.4 882L1132.2 883.3L1137 887L1141.8 888.3L1146.6 892.2L1151.3 893.5L1156.1 897.6L1160.9 899.2L1165.7 903.4L1170.5 905.4L1175.3 909.8L1180.1 912.3L1184.9 916.6L1189.7 919.4L1194.4 923.9L1199.2 926.8L1204 931.4L1208.8 934.2L1213.6 939.2L1218.4 942L1223.2 947.1L1228 949.4L1232.7 954.3L1237.5 956.1L1242.3 960.6L1247.1 962.5L1251.9 966.8L1256.7 969.1L1261.5 973.3L1266.3 975.7L1271.1 979.8L1275.8 982.5L1280.6 986.8L1285.4 989.3L1290.2 993.8L1295 996.3L1299.8 1001.2L1304.6 1003.6L1309.4 1008.8L1314.2 1011.4L1318.9 1016.8L1323.7 1019.4L1328.5 1024.6L1333.3 1027.3L1338.1 1032L1342.9 1034.7L1347.7 1039.1L1352.5 1041.8L1357.2 1046.1L1362 1048.7L1366.8 1053L1371.6 1055.3L1376.4 1059.8L1381.2 1061.8L1386 1066.4L1390.8 1068.3L1395.6 1072.9L1400.3 1074.7L1405.1 1079.2L1409.9 1081.1L1414.7 1085.2L1419.5 1087.1L1424.3 1090.8L1429.1 1092.7L1433.9 1096.1L1438.7 1097.9L1443.4 1101.3L1448.2 1102.9L1453 1106.3L1457.8 1107.6L1462.6 1111.2L1467.4 1112.3L1472.2 1115.9L1477 1116.8L1481.7 1120.4L1486.5 1121.2L1491.3 1124.6L1496.1 1125.6L1500.9 1128.8L1505.7 1130L1510.5 1133L1515.3 1134.4L1520.1 1137.3L1524.8 1138.5L1529.6 1141.3L1534.4 1142.2L1539.2 1145.1L1544 1145.6L1548.8 1148.6L1553.6 1148.9L1558.4 1151.9L1563.1 1152.1L1567.9 1155L1572.7 1155.4L1577.5 1158L1582.3 1158.5L1587.1 1161L1591.9 1161.7L1596.7 1164L1601.5 1164.7L1606.2 1167L1611 1167.5L1615.8 1170L1620.6 1170.3L1625.4 1172.9L1630.2 1173L1635 1175.8L1639.8 1175.8L1644.6 1178.5L1649.3 1178.6L1654.1 1181.2L1658.9 1181.4L1663.7 1183.8L1668.5 1184.3L1673.3 1186.5L1678.1 1187.1L1682.9 1189.3L1687.6 1189.8L1692.4 1192L1697.2 1192.2L1702 1194.6L1706.8 1194.5L1711.6 1197L1716.4 1196.7L1721.2 1199.1L1726 1198.7L1730.7 1200.9L1735.5 1200.6L1740.3 1202.6L1745.1 1202.4L1749.9 1204.2L1754.7 1204.2L1759.5 1205.9L1764.3 1205.9L1769 1207.6L1773.8 1207.7L1778.6 1209.6L1783.4 1209.5L1788.2 1211.7L1793 1211.4L1797.8 1213.8L1802.6 1213.5L1807.4 1215.9L1812.1 1215.7L1816.9 1218L1821.7 1218L1826.5 1220.1L1831.3 1220.3L1836.1 1222.2L1840.9 1222.5L1845.7 1224.5L1850.5 1224.7L1855.2 1226.8L1860 1226.9L1864.8 1229.2L1869.6 1229.1L1874.4 1231.6L1879.2 1231.4L1884 1234L1888.8 1233.8L1893.5 1236.3L1898.3 1236.3L1903.1 1238.6L1907.9 1238.9L1912.7 1241L1917.5 1241.4L1922.3 1243.5L1927.1 1243.9L1931.9 1246L1936.6 1246.4L1941.4 1248.7L1946.2 1248.8L1951 1251.4L1955.8 1251.4L1960.6 1254.1L1965.4 1254.1L1970.2 1256.9L1975 1257L1979.7 1259.6L1984.5 1260L1989.3 1262.5L1994.1 1263.1L1998.9 1265.5L2003.7 1266.2L2008.5 1268.6L2013.3 1269.4L2018 1271.9L2022.8 1272.5L2027.6 1275.3L2032.4 1275.7L2037.2 1278.8"/>
<path d="M241.6 770.8L246.3 772L251.1 771.9L255.9 773.8L260.7 773.6L265.5 775.7L270.3 775.2L275.1 777.4L279.9 776.8L284.6 779L289.4 778.5L294.2 780.5L299 780.2L303.8 781.9L308.6 781.7L313.4 783.2L318.2 783.1L323 784.6L327.7 784.4L332.5 786L337.3 785.7L342.1 787.6L346.9 787.2L351.7 789.4L356.5 788.9L361.3 791.3L366 791L370.8 793.4L375.6 793.4L380.4 795.7L385.2 795.8L390 798L394.8 798.3L399.6 800.3L404.4 800.7L409.1 802.8L413.9 803.2L418.7 805.5L423.5 805.6L428.3 808.2L433.1 808.2L437.9 810.8L442.7 810.7L447.5 813.4L452.2 813.3L457 815.8L461.8 815.9L466.6 818.2L471.4 818.5L476.2 820.5L481 820.9L485.8 822.7L490.5 823L495.3 825L500.1 825L504.9 827.2L509.7 826.9L514.5 829.1L519.3 828.4L524.1 830.4L528.9 829.6L533.6 831.4L538.4 830.6L543.2 832.1L548 831.5L552.8 832.7L557.6 832.2L562.4 833.3L567.2 832.7L571.9 833.8L576.7 833.1L581.5 834.3L586.3 833.4L591.1 834.8L595.9 833.6L600.7 835.1L605.5 833.8L610.3 835.2L615 833.9L619.8 835.1L624.6 834L629.4 834.9L634.2 833.9L639 834.7L643.8 833.8L648.6 834.5L653.4 833.5L658.1 834.3L662.9 833.2L667.7 834.1L672.5 832.6L677.3 833.7L682.1 832L686.9 833L691.7 831.3L696.4 832.3L701.2 830.8L706 831.5L710.8 830.2L715.6 830.7L720.4 829.5L725.2 829.9L730 828.8L734.8 829.3L739.5 828L744.3 828.7L749.1 827.3L753.9 828.2L758.7 826.5L763.5 827.6L768.3 825.9L773.1 827L777.9 825.3L782.6 826.2L787.4 824.8L792.2 825.5L797 824.3L801.8 824.8L806.6 823.7L811.4 824.1L816.2 823L820.9 823.6L825.7 822.2L830.5 823.1L835.3 821.5L840.1 822.5L844.9 820.8L849.7 821.8L854.5 820.1L859.3 821L864 819.5L868.8 820.3L873.6 819L878.4 819.6L883.2 818.5L888 819.1L892.8 818L897.6 818.7L902.3 817.5L907.1 818.3L911.9 817L916.7 818.1L921.5 816.7L926.3 818.1L931.1 816.8L935.9 818.4L940.7 817.3L945.4 818.8L950.2 818L955 819.3L959.8 818.8L964.6 820.1L969.4 819.8L974.2 821.2L979 820.9L983.8 822.6L988.5 822.2L993.3 824.1L998.1 823.7L1002.9 825.9L1007.7 825.4L1012.5 827.8L1017.3 827.4L1022.1 829.8L1026.8 829.7L1031.6 831.9L1036.4 832.1L1041.2 834.3L1046 834.8L1050.8 836.9L1055.6 837.6L1060.4 839.9L1065.2 840.6L1069.9 843.4L1074.7 844.1L1079.5 847.3L1084.3 848L1089.1 851.4L1093.9 852.2L1098.7 855.7L1103.5 856.6L1108.3 860.2L1113 861.5L1117.8 864.9L1122.6 866.5L1127.4 869.9L1132.2 871.7L1137 875.2L1141.8 877.1L1146.6 880.9L1151.3 882.7L1156.1 886.8L1160.9 888.6L1165.7 893L1170.5 894.9L1175.3 899.5L1180.1 901.6L1184.9 906.3L1189.7 908.6L1194.4 913.3L1199.2 916L1204 920.6L1208.8 923.5L1213.6 928.2L1218.4 931.3L1223.2 936L1228 938.8L1232.7 943.4L1237.5 945.7L1242.3 950.3L1247.1 952.4L1251.9 957.2L1256.7 959.3L1261.5 964.2L1266.3 966.5L1271.1 971.3L1275.8 973.8L1280.6 978.4L1285.4 981.2L1290.2 985.7L1295 988.7L1299.8 993.4L1304.6 996.5L1309.4 1001.5L1314.2 1004.7L1318.9 1010L1323.7 1013L1328.5 1018.5L1333.3 1021.2L1338.1 1026.5L1342.9 1028.9L1347.7 1033.9L1352.5 1036.4L1357.2 1041.2L1362 1043.8L1366.8 1048.2L1371.6 1050.9L1376.4 1055.1L1381.2 1057.8L1386 1062.1L1390.8 1064.6L1395.6 1069L1400.3 1071.2L1405.1 1075.8L1409.9 1077.7L1414.7 1082.2L1419.5 1083.9L1424.3 1088.2L1429.1 1089.8L1433.9 1093.8L1438.7 1095.4L1443.4 1099.1L1448.2 1100.8L1453 1104.2L1457.8 1105.9L1462.6 1109.2L1467.4 1110.8L1472.2 1114.1L1477 1115.3L1481.7 1118.7L1486.5 1119.7L1491.3 1123.2L1496.1 1124.1L1500.9 1127.7L1505.7 1128.6L1510.5 1132.1L1515.3 1133.2L1520.1 1136.5L1524.8 1137.6L1529.6 1140.5L1534.4 1141.5L1539.2 1144.2L1544 1145.1L1548.8 1147.7L1553.6 1148.5L1558.4 1151.2L1563.1 1151.6L1567.9 1154.5L1572.7 1154.7L1577.5 1157.7L1582.3 1157.8L1587.1 1160.7L1591.9 1161L1596.7 1163.7L1601.5 1164.1L1606.2 1166.6L1611 1167.2L1615.8 1169.5L1620.6 1170.1L1625.4 1172.4L1630.2 1172.9L1635 1175.3L1639.8 1175.7L1644.6 1178.2L1649.3 1178.3L1654.1 1181L1658.9 1181L1663.7 1183.8L1668.5 1183.9L1673.3 1186.5L1678.1 1186.7L1682.9 1189.1L1687.6 1189.5L1692.4 1191.7L1697.2 1192.1L1702 1194.2L1706.8 1194.5L1711.6 1196.5L1716.4 1196.7L1721.2 1198.7L1726 1198.5L1730.7 1200.7L1735.5 1200.3L1740.3 1202.6L1745.1 1202L1749.9 1204.3L1754.7 1203.8L1759.5 1205.9L1764.3 1205.7L1769 1207.5L1773.8 1207.6L1778.6 1209.3L1783.4 1209.5L1788.2 1211.3L1793 1211.5L1797.8 1213.5L1802.6 1213.4L1807.4 1215.7L1812.1 1215.4L1816.9 1217.9L1821.7 1217.5L1826.5 1220L1831.3 1219.8L1836.1 1222.1L1840.9 1222.1L1845.7 1224.2L1850.5 1224.4L1855.2 1226.4L1860 1226.7L1864.8 1228.7L1869.6 1229L1874.4 1231L1879.2 1231.3L1884 1233.5L1888.8 1233.5L1893.5 1236L1898.3 1235.8L1903.1 1238.4L1907.9 1238.3L1912.7 1240.8L1917.5 1240.8L1922.3 1243.2L1927.1 1243.4L1931.9 1245.6L1936.6 1246L1941.4 1248L1946.2 1248.5L1951 1250.6L1955.8 1251.1L1960.6 1253.4L1965.4 1253.7L1970.2 1256.2L1975 1256.3L1979.7 1259.1L1984.5 1259.2L1989.3 1262L1994.1 1262.2L1998.9 1265L2003.7 1265.4L2008.5 1268L2013.3 1268.6L2018 1271.1L2022.8 1271.9L2027.6 1274.4L2032.4 1275.2L2037.2 1277.8"/>
<path d="M241.6 760.9L246.3 761.9L251.1 762.8L255.9 763.8L260.7 764.7L265.5 765.7L270.3 766.6L275.1 767.5L279.9 768.5L284.6 768.5L289.4 769.4L294.2 770.4L299 771.3L303.8 772.3L308.6 773.2L313.4 773.2L318.2 774.2L323 775.1L327.7 775.1L332.5 776.1L337.3 777L342.1 777.9L346.9 778.9L351.7 778.9L356.5 779.8L361.3 780.8L366 781.7L370.8 782.7L375.6 784.6L380.4 785.5L385.2 786.4L390 787.4L394.8 788.3L399.6 789.3L404.4 791.2L409.1 792.1L413.9 793.1L418.7 795L423.5 795.9L428.3 796.8L433.1 798.7L437.9 799.7L442.7 801.6L447.5 802.5L452.2 803.5L457 805.3L461.8 806.3L466.6 807.2L471.4 809.1L476.2 810.1L481 811L485.8 812L490.5 812.9L495.3 813.9L500.1 814.8L504.9 816.7L509.7 816.7L514.5 817.6L519.3 818.6L524.1 819.5L528.9 819.5L533.6 820.5L538.4 820.5L543.2 820.5L548 820.5L552.8 820.5L557.6 820.5L562.4 820.5L567.2 821.4L571.9 821.4L576.7 821.4L581.5 821.4L586.3 821.4L591.1 821.4L595.9 821.4L600.7 821.4L605.5 821.4L610.3 821.4L615 821.4L619.8 821.4L624.6 821.4L629.4 821.4L634.2 821.4L639 821.4L643.8 821.4L648.6 821.4L653.4 821.4L658.1 821.4L662.9 821.4L667.7 821.4L672.5 820.5L677.3 820.5L682.1 820.5L686.9 820.5L691.7 819.5L696.4 819.5L701.2 818.6L706 818.6L710.8 817.6L715.6 817.6L720.4 816.7L725.2 815.7L730 815.7L734.8 814.8L739.5 814.8L744.3 814.8L749.1 813.9L753.9 813.9L758.7 813.9L763.5 813.9L768.3 812.9L773.1 812.9L777.9 812.9L782.6 812.9L787.4 812L792.2 812L797 811L801.8 811L806.6 811L811.4 810.1L816.2 810.1L820.9 809.1L825.7 809.1L830.5 809.1L835.3 808.2L840.1 808.2L844.9 807.2L849.7 807.2L854.5 806.3L859.3 806.3L864 806.3L868.8 805.3L873.6 805.3L878.4 805.3L883.2 804.4L888 804.4L892.8 804.4L897.6 804.4L902.3 804.4L907.1 804.4L911.9 804.4L916.7 804.4L921.5 804.4L926.3 804.4L931.1 804.4L935.9 804.4L940.7 804.4L945.4 805.3L950.2 805.3L955 805.3L959.8 806.3L964.6 806.3L969.4 807.2L974.2 807.2L979 808.2L983.8 808.2L988.5 809.1L993.3 810.1L998.1 811L1002.9 811L1007.7 812L1012.5 813.9L1017.3 814.8L1022.1 815.7L1026.8 816.7L1031.6 817.6L1036.4 818.6L1041.2 820.5L1046 821.4L1050.8 823.3L1055.6 824.2L1060.4 826.1L1065.2 827.1L1069.9 829L1074.7 831.8L1079.5 833.7L1084.3 835.6L1089.1 837.5L1093.9 840.3L1098.7 842.2L1103.5 844.1L1108.3 846.9L1113 848.8L1117.8 851.7L1122.6 853.5L1127.4 856.4L1132.2 859.2L1137 862.1L1141.8 865.8L1146.6 868.7L1151.3 872.4L1156.1 876.2L1160.9 879.1L1165.7 882.8L1170.5 886.6L1175.3 889.5L1180.1 893.2L1184.9 897L1189.7 900.8L1194.4 904.6L1199.2 907.4L1204 911.2L1208.8 915.9L1213.6 919.7L1218.4 923.5L1223.2 927.3L1228 931L1232.7 934.8L1237.5 938.6L1242.3 941.4L1247.1 945.2L1251.9 949L1256.7 952.8L1261.5 956.6L1266.3 960.3L1271.1 964.1L1275.8 967.9L1280.6 971.7L1285.4 975.5L1290.2 979.2L1295 983L1299.8 986.8L1304.6 991.5L1309.4 995.3L1314.2 1000L1318.9 1004.8L1323.7 1008.5L1328.5 1013.3L1333.3 1017L1338.1 1021.8L1342.9 1025.5L1347.7 1029.3L1352.5 1033.1L1357.2 1036.9L1362 1040.7L1366.8 1044.4L1371.6 1048.2L1376.4 1051.1L1381.2 1054.8L1386 1058.6L1390.8 1062.4L1395.6 1065.2L1400.3 1069L1405.1 1072.8L1409.9 1075.6L1414.7 1079.4L1419.5 1082.2L1424.3 1085.1L1429.1 1087.9L1433.9 1091.7L1438.7 1094.5L1443.4 1097.4L1448.2 1099.3L1453 1102.1L1457.8 1104.9L1462.6 1107.8L1467.4 1109.7L1472.2 1112.5L1477 1114.4L1481.7 1117.2L1486.5 1119.1L1491.3 1121.9L1496.1 1123.8L1500.9 1125.7L1505.7 1128.6L1510.5 1130.4L1515.3 1133.3L1520.1 1135.2L1524.8 1137.1L1529.6 1139.9L1534.4 1141.8L1539.2 1143.7L1544 1144.6L1548.8 1146.5L1553.6 1148.4L1558.4 1150.3L1563.1 1152.2L1567.9 1153.1L1572.7 1155L1577.5 1156.9L1582.3 1157.8L1587.1 1159.7L1591.9 1161.6L1596.7 1162.6L1601.5 1164.5L1606.2 1165.4L1611 1167.3L1615.8 1169.2L1620.6 1170.1L1625.4 1172L1630.2 1173L1635 1174.9L1639.8 1175.8L1644.6 1177.7L1649.3 1178.6L1654.1 1180.5L1658.9 1181.5L1663.7 1183.4L1668.5 1184.3L1673.3 1186.2L1678.1 1187.1L1682.9 1188.1L1687.6 1190L1692.4 1190.9L1697.2 1192.8L1702 1193.8L1706.8 1194.7L1711.6 1195.7L1716.4 1196.6L1721.2 1197.5L1726 1199.4L1730.7 1200.4L1735.5 1200.4L1740.3 1201.3L1745.1 1202.3L1749.9 1203.2L1754.7 1204.2L1759.5 1205.1L1764.3 1206L1769 1207L1773.8 1207.9L1778.6 1208.9L1783.4 1209.8L1788.2 1210.8L1793 1211.7L1797.8 1212.7L1802.6 1213.6L1807.4 1214.6L1812.1 1215.5L1816.9 1217.4L1821.7 1218.3L1826.5 1219.3L1831.3 1220.2L1836.1 1221.2L1840.9 1222.1L1845.7 1223.1L1850.5 1224.9L1855.2 1225.9L1860 1226.8L1864.8 1227.8L1869.6 1228.7L1874.4 1230.6L1879.2 1231.6L1884 1232.5L1888.8 1233.5L1893.5 1235.3L1898.3 1236.3L1903.1 1237.2L1907.9 1239.1L1912.7 1240.1L1917.5 1241L1922.3 1242L1927.1 1243.8L1931.9 1244.8L1936.6 1245.7L1941.4 1247.6L1946.2 1248.6L1951 1249.5L1955.8 1251.4L1960.6 1252.4L1965.4 1254.2L1970.2 1255.2L1975 1256.1L1979.7 1258L1984.5 1259L1989.3 1260.9L1994.1 1262.7L1998.9 1263.7L2003.7 1265.6L2008.5 1266.5L2013.3 1268.4L2018 1270.3L2022.8 1272.2L2027.6 1273.1L2032.4 1275L2037.2 1276.9"/>
<path d="M241.6 754.3L246.3 754.3L251.1 755.3L255.9 755.3L260.7 756.2L265.5 757.2L270.3 758.1L275.1 758.1L279.9 759L284.6 760L289.4 760.9L294.2 760.9L299 761.9L303.8 762.8L308.6 763.8L313.4 763.8L318.2 764.7L323 765.7L327.7 765.7L332.5 766.6L337.3 767.5L342.1 768.5L346.9 769.4L351.7 769.4L356.5 770.4L361.3 771.3L366 772.3L370.8 773.2L375.6 774.2L380.4 775.1L385.2 776.1L390 777L394.8 777.9L399.6 779.8L404.4 780.8L409.1 781.7L413.9 782.7L418.7 784.6L423.5 785.5L428.3 787.4L433.1 788.3L437.9 789.3L442.7 791.2L447.5 792.1L452.2 793.1L457 795L461.8 795.9L466.6 797.8L471.4 798.7L476.2 799.7L481 800.6L485.8 801.6L490.5 802.5L495.3 803.5L500.1 804.4L504.9 805.3L509.7 805.3L514.5 806.3L519.3 807.2L524.1 807.2L528.9 808.2L533.6 808.2L538.4 809.1L543.2 809.1L548 809.1L552.8 809.1L557.6 809.1L562.4 809.1L567.2 809.1L571.9 809.1L576.7 810.1L581.5 810.1L586.3 810.1L591.1 810.1L595.9 810.1L600.7 810.1L605.5 810.1L610.3 810.1L615 810.1L619.8 810.1L624.6 810.1L629.4 810.1L634.2 809.1L639 809.1L643.8 809.1L648.6 809.1L653.4 809.1L658.1 809.1L662.9 808.2L667.7 808.2L672.5 808.2L677.3 808.2L682.1 807.2L686.9 807.2L691.7 807.2L696.4 806.3L701.2 806.3L706 805.3L710.8 804.4L715.6 803.5L720.4 802.5L725.2 802.5L730 801.6L734.8 800.6L739.5 800.6L744.3 799.7L749.1 799.7L753.9 798.7L758.7 798.7L763.5 798.7L768.3 797.8L773.1 797.8L777.9 796.8L782.6 796.8L787.4 795.9L792.2 795.9L797 795L801.8 795L806.6 795L811.4 794L816.2 794L820.9 793.1L825.7 793.1L830.5 793.1L835.3 792.1L840.1 792.1L844.9 791.2L849.7 791.2L854.5 790.2L859.3 790.2L864 789.3L868.8 789.3L873.6 788.3L878.4 788.3L883.2 788.3L888 788.3L892.8 787.4L897.6 787.4L902.3 787.4L907.1 787.4L911.9 787.4L916.7 787.4L921.5 787.4L926.3 787.4L931.1 787.4L935.9 787.4L940.7 787.4L945.4 787.4L950.2 788.3L955 788.3L959.8 788.3L964.6 789.3L969.4 789.3L974.2 790.2L979 790.2L983.8 791.2L988.5 792.1L993.3 793.1L998.1 793.1L1002.9 794L1007.7 795L1012.5 795.9L1017.3 796.8L1022.1 797.8L1026.8 798.7L1031.6 799.7L1036.4 801.6L1041.2 802.5L1046 804.4L1050.8 806.3L1055.6 808.2L1060.4 810.1L1065.2 812L1069.9 813.9L1074.7 815.7L1079.5 818.6L1084.3 820.5L1089.1 823.3L1093.9 825.2L1098.7 828L1103.5 830.9L1108.3 832.8L1113 835.6L1117.8 838.4L1122.6 841.3L1127.4 844.1L1132.2 846.9L1137 849.8L1141.8 852.6L1146.6 856.4L1151.3 859.2L1156.1 863L1160.9 866.8L1165.7 870.6L1170.5 873.4L1175.3 878.1L1180.1 881.9L1184.9 885.7L1189.7 889.5L1194.4 893.2L1199.2 898L1204 901.7L1208.8 905.5L1213.6 909.3L1218.4 913.1L1223.2 916.9L1228 920.6L1232.7 924.4L1237.5 928.2L1242.3 932L1247.1 935.8L1251.9 939.5L1256.7 943.3L1261.5 947.1L1266.3 950.9L1271.1 955.6L1275.8 959.4L1280.6 963.2L1285.4 967L1290.2 971.7L1295 975.5L1299.8 979.2L1304.6 984L1309.4 988.7L1314.2 993.4L1318.9 998.1L1323.7 1002.9L1328.5 1006.6L1333.3 1011.4L1338.1 1016.1L1342.9 1019.9L1347.7 1023.7L1352.5 1027.4L1357.2 1032.2L1362 1035.9L1366.8 1039.7L1371.6 1043.5L1376.4 1047.3L1381.2 1051.1L1386 1054.8L1390.8 1058.6L1395.6 1061.5L1400.3 1065.2L1405.1 1069L1409.9 1072.8L1414.7 1075.6L1419.5 1079.4L1424.3 1082.2L1429.1 1086L1433.9 1088.9L1438.7 1091.7L1443.4 1094.5L1448.2 1097.4L1453 1100.2L1457.8 1103L1462.6 1105.9L1467.4 1108.7L1472.2 1110.6L1477 1113.4L1481.7 1115.3L1486.5 1118.2L1491.3 1120L1496.1 1121.9L1500.9 1124.8L1505.7 1126.7L1510.5 1129.5L1515.3 1132.3L1520.1 1134.2L1524.8 1136.1L1529.6 1138.9L1534.4 1140.8L1539.2 1142.7L1544 1144.6L1548.8 1146.5L1553.6 1147.5L1558.4 1149.3L1563.1 1151.2L1567.9 1153.1L1572.7 1154.1L1577.5 1156L1582.3 1157.8L1587.1 1158.8L1591.9 1160.7L1596.7 1162.6L1601.5 1163.5L1606.2 1165.4L1611 1167.3L1615.8 1168.2L1620.6 1170.1L1625.4 1171.1L1630.2 1173L1635 1173.9L1639.8 1175.8L1644.6 1176.7L1649.3 1178.6L1654.1 1179.6L1658.9 1181.5L1663.7 1182.4L1668.5 1184.3L1673.3 1185.3L1678.1 1187.1L1682.9 1188.1L1687.6 1190L1692.4 1190.9L1697.2 1191.9L1702 1193.8L1706.8 1194.7L1711.6 1195.7L1716.4 1196.6L1721.2 1197.5L1726 1198.5L1730.7 1199.4L1735.5 1200.4L1740.3 1201.3L1745.1 1202.3L1749.9 1203.2L1754.7 1204.2L1759.5 1205.1L1764.3 1206L1769 1207L1773.8 1207.9L1778.6 1208.9L1783.4 1209.8L1788.2 1210.8L1793 1211.7L1797.8 1212.7L1802.6 1213.6L1807.4 1214.6L1812.1 1215.5L1816.9 1216.4L1821.7 1217.4L1826.5 1219.3L1831.3 1220.2L1836.1 1221.2L1840.9 1222.1L1845.7 1223.1L1850.5 1224L1855.2 1224.9L1860 1226.8L1864.8 1227.8L1869.6 1228.7L1874.4 1229.7L1879.2 1231.6L1884 1232.5L1888.8 1233.5L1893.5 1234.4L1898.3 1236.3L1903.1 1237.2L1907.9 1238.2L1912.7 1239.1L1917.5 1241L1922.3 1242L1927.1 1242.9L1931.9 1244.8L1936.6 1245.7L1941.4 1246.7L1946.2 1247.6L1951 1249.5L1955.8 1250.5L1960.6 1252.4L1965.4 1253.3L1970.2 1254.2L1975 1256.1L1979.7 1257.1L1984.5 1259L1989.3 1259.9L1994.1 1261.8L1998.9 1262.7L2003.7 1264.6L2008.5 1266.5L2013.3 1267.5L2018 1269.4L2022.8 1271.3L2027.6 1273.1L2032.4 1274.1L2037.2 1276"/>
<path d="M241.6 665.6L246.3 667L251.1 666.5L255.9 668L260.7 667.5L265.5 668.9L270.3 668.5L275.1 669.9L279.9 669.6L284.6 670.8L289.4 670.8L294.2 671.9L299 671.9L303.8 673L308.6 672.9L313.4 674.2L318.2 674L323 675.4L327.7 675L332.5 676.6L337.3 676.2L342.1 677.8L346.9 677.5L351.7 679.1L356.5 679L361.3 680.6L366 680.8L370.8 682.3L375.6 682.6L380.4 684.1L385.2 684.5L390 686.1L394.8 686.4L399.6 688.2L404.4 688.3L409.1 690.3L413.9 690.5L418.7 692.6L423.5 692.8L428.3 694.9L433.1 695.1L437.9 697L442.7 697.3L447.5 698.9L452.2 699.2L457 700.6L461.8 700.8L466.6 702.2L471.4 702.3L476.2 703.7L481 703.6L485.8 705L490.5 704.6L495.3 706.1L500.1 705.5L504.9 706.9L509.7 706.3L514.5 707.4L519.3 706.7L524.1 707.7L528.9 707.1L533.6 707.8L538.4 707.2L543.2 707.7L548 707L552.8 707.5L557.6 706.7L562.4 707.3L567.2 706.2L571.9 706.8L576.7 705.5L581.5 706.1L586.3 704.7L591.1 705.2L595.9 703.9L600.7 704.3L605.5 703L610.3 703.2L615 702.1L619.8 702.1L624.6 701L629.4 701.1L634.2 699.9L639 700L643.8 698.6L648.6 698.9L653.4 697.4L658.1 697.8L662.9 696.2L667.7 696.7L672.5 695.1L677.3 695.4L682.1 693.9L686.9 694L691.7 692.6L696.4 692.5L701.2 691.2L706 690.9L710.8 689.4L715.6 689L720.4 687.2L725.2 686.9L730 685L734.8 684.8L739.5 682.8L744.3 682.8L749.1 680.8L753.9 680.9L758.7 679.1L763.5 679.1L768.3 677.5L773.1 677.3L777.9 675.8L782.6 675.6L787.4 674.2L792.2 673.9L797 672.4L801.8 672.2L806.6 670.5L811.4 670.4L816.2 668.6L820.9 668.6L825.7 666.7L830.5 666.8L835.3 665L840.1 665L844.9 663.4L849.7 663.4L854.5 662L859.3 661.9L864 660.6L868.8 660.5L873.6 659.2L878.4 659.2L883.2 657.9L888 658.1L892.8 656.8L897.6 657.3L902.3 655.9L907.1 656.5L911.9 655.1L916.7 655.9L921.5 654.9L926.3 655.6L931.1 654.8L935.9 655.4L940.7 654.8L945.4 655.4L950.2 655L955 655.9L959.8 655.6L964.6 656.8L969.4 656.5L974.2 657.9L979 657.6L983.8 659.3L988.5 659.2L993.3 661.1L998.1 661.2L1002.9 663.4L1007.7 664L1012.5 666.2L1017.3 667.1L1022.1 669.3L1026.8 670.4L1031.6 672.8L1036.4 674.1L1041.2 676.8L1046 678.3L1050.8 681.5L1055.6 683.1L1060.4 686.7L1065.2 688.4L1069.9 692.2L1074.7 694.2L1079.5 698.3L1084.3 700.6L1089.1 704.8L1093.9 707.4L1098.7 711.6L1103.5 714.7L1108.3 719.1L1113 722.4L1117.8 727L1122.6 730.5L1127.4 735.5L1132.2 739.1L1137 744.5L1141.8 748.2L1146.6 753.9L1151.3 758L1156.1 764.5L1160.9 769.1L1165.7 775.2L1170.5 779.3L1175.3 785.2L1180.1 790.1L1184.9 796.3L1189.7 801.6L1194.4 808L1199.2 813.4L1204 820.2L1208.8 825.8L1213.6 832.9L1218.4 838.3L1223.2 845.4L1228 850.2L1232.7 856.9L1237.5 861.6L1242.3 868.2L1247.1 873.2L1251.9 880.1L1256.7 885.6L1261.5 892.6L1266.3 898.3L1271.1 905L1275.8 910.4L1280.6 916.8L1285.4 921.9L1290.2 928.3L1295 933.1L1299.8 939.6L1304.6 944.2L1309.4 950.6L1314.2 955.1L1318.9 961.6L1323.7 966.2L1328.5 972.7L1333.3 977.5L1338.1 983.8L1342.9 988.5L1347.7 994.1L1352.5 998.3L1357.2 1003.5L1362 1007.4L1366.8 1012.6L1371.6 1016.4L1376.4 1021.6L1381.2 1025.2L1386 1030.5L1390.8 1033.8L1395.6 1039.1L1400.3 1042.3L1405.1 1047.3L1409.9 1050.5L1414.7 1055.3L1419.5 1058.5L1424.3 1063.1L1429.1 1066.3L1433.9 1070.7L1438.7 1074L1443.4 1078.4L1448.2 1081.5L1453 1085.7L1457.8 1088.1L1462.6 1091.9L1467.4 1093.8L1472.2 1097.4L1477 1098.9L1481.7 1102.5L1486.5 1104.3L1491.3 1108L1496.1 1110.1L1500.9 1113.8L1505.7 1116.1L1510.5 1119.5L1515.3 1121.7L1520.1 1125L1524.8 1127.1L1529.6 1130.2L1534.4 1131.6L1539.2 1134.5L1544 1135.6L1548.8 1138.5L1553.6 1139.3L1558.4 1142.1L1563.1 1142.9L1567.9 1145.5L1572.7 1146.3L1577.5 1148.8L1582.3 1149.8L1587.1 1152.1L1591.9 1153.2L1596.7 1155.5L1601.5 1156.6L1606.2 1158.9L1611 1160L1615.8 1162.4L1620.6 1163.2L1625.4 1165.7L1630.2 1166.4L1635 1169L1639.8 1169.5L1644.6 1172.1L1649.3 1172.6L1654.1 1175L1658.9 1175.6L1663.7 1177.8L1668.5 1178.5L1673.3 1180.5L1678.1 1181.3L1682.9 1183.3L1687.6 1184L1692.4 1186L1697.2 1186.5L1702 1188.6L1706.8 1189L1711.6 1191.1L1716.4 1191.3L1721.2 1193.5L1726 1193.7L1730.7 1195.7L1735.5 1196L1740.3 1197.8L1745.1 1198.2L1749.9 1199.9L1754.7 1200.4L1759.5 1202L1764.3 1202.4L1769 1204.1L1773.8 1204.5L1778.6 1206.3L1783.4 1206.5L1788.2 1208.5L1793 1208.6L1797.8 1210.6L1802.6 1210.6L1807.4 1212.6L1812.1 1212.7L1816.9 1214.6L1821.7 1214.8L1826.5 1216.6L1831.3 1217.1L1836.1 1218.7L1840.9 1219.3L1845.7 1221L1850.5 1221.6L1855.2 1223.4L1860 1223.9L1864.8 1225.9L1869.6 1226.2L1874.4 1228.4L1879.2 1228.6L1884 1230.8L1888.8 1231.1L1893.5 1233.3L1898.3 1233.7L1903.1 1235.7L1907.9 1236.3L1912.7 1238.1L1917.5 1238.8L1922.3 1240.6L1927.1 1241.3L1931.9 1243.2L1936.6 1243.8L1941.4 1245.8L1946.2 1246.2L1951 1248.4L1955.8 1248.8L1960.6 1251.1L1965.4 1251.5L1970.2 1253.8L1975 1254.3L1979.7 1256.6L1984.5 1257.2L1989.3 1259.4L1994.1 1260.2L1998.9 1262.3L2003.7 1263.3L2008.5 1265.4L2013.3 1266.4L2018 1268.6L2022.8 1269.5L2027.6 1271.9L2032.4 1272.7L2037.2 1275.3"/>
<path d="M241.6 568.2L246.3 569.2L251.1 568.9L255.9 570L260.7 569.6L265.5 570.9L270.3 570.3L275.1 571.7L279.9 571L284.6 572.4L289.4 571.8L294.2 573.1L299 572.7L303.8 573.8L308.6 573.5L313.4 574.5L318.2 574.3L323 575.2L327.7 575L332.5 576L337.3 575.7L342.1 576.9L346.9 576.4L351.7 577.7L356.5 577.1L361.3 578.5L366 578L370.8 579.4L375.6 579L380.4 580.3L385.2 580.2L390 581.5L394.8 581.5L399.6 582.8L404.4 582.9L409.1 584.2L413.9 584.3L418.7 585.6L423.5 585.5L428.3 587L433.1 586.6L437.9 588.2L442.7 587.8L447.5 589.4L452.2 589L457 590.4L461.8 590.2L466.6 591.4L471.4 591.2L476.2 592.2L481 592.1L485.8 593.1L490.5 592.8L495.3 593.7L500.1 593L504.9 593.7L509.7 592.7L514.5 593.4L519.3 592.1L524.1 592.8L528.9 591.5L533.6 592L538.4 590.7L543.2 590.9L548 589.6L552.8 589.7L557.6 588.4L562.4 588.3L567.2 587.1L571.9 587L576.7 585.7L581.5 585.7L586.3 584.1L591.1 584.1L595.9 582.3L600.7 582.4L605.5 580.5L610.3 580.6L615 578.8L619.8 578.7L624.6 577.1L629.4 576.9L634.2 575.4L639 575.1L643.8 573.6L648.6 573.2L653.4 571.6L658.1 571.3L662.9 569.5L667.7 569.2L672.5 567.1L677.3 566.8L682.1 564.4L686.9 564L691.7 561.5L696.4 561L701.2 558.8L706 558.3L710.8 556.3L715.6 555.6L720.4 553.8L725.2 553.1L730 551.3L734.8 550.7L739.5 548.9L744.3 548.5L749.1 546.4L753.9 545.9L758.7 543.5L763.5 543L768.3 540.5L773.1 540.1L777.9 537.8L782.6 537.3L787.4 535.2L792.2 534.6L797 532.6L801.8 531.9L806.6 530L811.4 529.3L816.2 527.4L820.9 526.8L825.7 524.8L830.5 524.3L835.3 522.1L840.1 521.9L844.9 519.7L849.7 519.5L854.5 517.5L859.3 517.3L864 515.4L868.8 515.2L873.6 513.6L878.4 513.3L883.2 511.8L888 511.5L892.8 510.2L897.6 510L902.3 508.6L907.1 508.8L911.9 507.6L916.7 508.2L921.5 507.1L926.3 508L931.1 506.9L935.9 507.9L940.7 507.1L945.4 508.1L950.2 507.8L955 509.1L959.8 509.1L964.6 510.5L969.4 510.8L974.2 512.2L979 512.6L983.8 514.4L988.5 514.9L993.3 517.1L998.1 517.7L1002.9 520.4L1007.7 521.3L1012.5 524.5L1017.3 525.9L1022.1 529.6L1026.8 531.7L1031.6 535.4L1036.4 537.7L1041.2 541.5L1046 544.4L1050.8 548.6L1055.6 551.8L1060.4 556.3L1065.2 559.7L1069.9 564.6L1074.7 568.1L1079.5 573.5L1084.3 577.2L1089.1 583L1093.9 587L1098.7 593L1103.5 597.1L1108.3 603.1L1113 607.5L1117.8 613.6L1122.6 618.5L1127.4 624.9L1132.2 630.4L1137 637.3L1141.8 643L1146.6 650.2L1151.3 655.9L1156.1 663.3L1160.9 669.1L1165.7 676.8L1170.5 682.7L1175.3 690.7L1180.1 696.8L1184.9 704.9L1189.7 711.3L1194.4 719.4L1199.2 726L1204 734L1208.8 741L1213.6 749.2L1218.4 756.5L1223.2 764.8L1228 771.6L1232.7 779.8L1237.5 786.4L1242.3 794.6L1247.1 801.1L1251.9 809.5L1256.7 815.8L1261.5 824.2L1266.3 830.7L1271.1 839L1275.8 845.9L1280.6 854.3L1285.4 861.4L1290.2 869.7L1295 876.7L1299.8 884.7L1304.6 891.4L1309.4 899.3L1314.2 905.6L1318.9 913.5L1323.7 919.5L1328.5 927.3L1333.3 933L1338.1 940.7L1342.9 946.3L1347.7 953.7L1352.5 959.3L1357.2 966.4L1362 971.9L1366.8 978.5L1371.6 983.7L1376.4 989.7L1381.2 994.5L1386 1000.3L1390.8 1004.7L1395.6 1010.3L1400.3 1014.1L1405.1 1019.4L1409.9 1022.8L1414.7 1028L1419.5 1031.2L1424.3 1036.5L1429.1 1039.9L1433.9 1045.3L1438.7 1049.2L1443.4 1054.6L1448.2 1058.5L1453 1063.4L1457.8 1066.8L1462.6 1071.1L1467.4 1073.9L1472.2 1077.8L1477 1080.3L1481.7 1084.3L1486.5 1086.7L1491.3 1091L1496.1 1093.5L1500.9 1097.9L1505.7 1100.3L1510.5 1104.5L1515.3 1106.9L1520.1 1110.8L1524.8 1113.2L1529.6 1116.7L1534.4 1118.7L1539.2 1121.8L1544 1123.7L1548.8 1126.7L1553.6 1128.3L1558.4 1131.3L1563.1 1132.7L1567.9 1135.7L1572.7 1136.9L1577.5 1139.9L1582.3 1141L1587.1 1144L1591.9 1145.1L1596.7 1148L1601.5 1149.2L1606.2 1151.9L1611 1153.3L1615.8 1155.8L1620.6 1157.1L1625.4 1159.6L1630.2 1160.8L1635 1163.3L1639.8 1164.3L1644.6 1166.8L1649.3 1167.6L1654.1 1170.2L1658.9 1170.8L1663.7 1173.3L1668.5 1173.9L1673.3 1176.3L1678.1 1176.9L1682.9 1179.1L1687.6 1179.8L1692.4 1181.8L1697.2 1182.6L1702 1184.5L1706.8 1185.3L1711.6 1187.2L1716.4 1187.9L1721.2 1189.9L1726 1190.4L1730.7 1192.6L1735.5 1192.9L1740.3 1195.1L1745.1 1195.3L1749.9 1197.5L1754.7 1197.8L1759.5 1199.8L1764.3 1200.2L1769 1202.1L1773.8 1202.6L1778.6 1204.4L1783.4 1204.9L1788.2 1206.6L1793 1207.1L1797.8 1208.8L1802.6 1209.1L1807.4 1211L1812.1 1211.1L1816.9 1213.1L1821.7 1213.2L1826.5 1215.2L1831.3 1215.4L1836.1 1217.4L1840.9 1217.7L1845.7 1219.6L1850.5 1220.1L1855.2 1221.9L1860 1222.5L1864.8 1224.3L1869.6 1225L1874.4 1226.8L1879.2 1227.4L1884 1229.4L1888.8 1229.8L1893.5 1232L1898.3 1232.3L1903.1 1234.5L1907.9 1234.8L1912.7 1237L1917.5 1237.4L1922.3 1239.5L1927.1 1239.9L1931.9 1241.9L1936.6 1242.5L1941.4 1244.4L1946.2 1245.1L1951 1247L1955.8 1247.7L1960.6 1249.7L1965.4 1250.3L1970.2 1252.5L1975 1253L1979.7 1255.3L1984.5 1255.8L1989.3 1258.3L1994.1 1258.8L1998.9 1261.2L2003.7 1261.9L2008.5 1264.2L2013.3 1265.1L2018 1267.3L2022.8 1268.3L2027.6 1270.5L2032.4 1271.5L2037.2 1273.8"/>
<path d="M241.6 473.6L246.3 473.6L251.1 473.6L255.9 473.6L260.7 473.6L265.5 473.6L270.3 473.6L275.1 473.6L279.9 473.6L284.6 473.6L289.4 473.6L294.2 473.6L299 473.6L303.8 473.6L308.6 473.6L313.4 473.6L318.2 473.6L323 473.6L327.7 473.6L332.5 473.6L337.3 473.6L342.1 473.6L346.9 473.6L351.7 473.6L356.5 473.6L361.3 473.6L366 473.6L370.8 473.6L375.6 473.6L380.4 473.6L385.2 478.4L390 478.4L394.8 478.4L399.6 478.4L404.4 478.4L409.1 478.4L413.9 478.4L418.7 478.4L423.5 478.4L428.3 478.4L433.1 478.4L437.9 478.4L442.7 478.4L447.5 478.4L452.2 483.1L457 483.1L461.8 483.1L466.6 483.1L471.4 483.1L476.2 483.1L481 483.1L485.8 483.1L490.5 483.1L495.3 483.1L500.1 483.1L504.9 483.1L509.7 478.4L514.5 478.4L519.3 478.4L524.1 478.4L528.9 478.4L533.6 478.4L538.4 478.4L543.2 473.6L548 473.6L552.8 473.6L557.6 473.6L562.4 473.6L567.2 473.6L571.9 473.6L576.7 468.9L581.5 468.9L586.3 468.9L591.1 464.2L595.9 464.2L600.7 464.2L605.5 464.2L610.3 459.5L615 459.5L619.8 459.5L624.6 459.5L629.4 454.7L634.2 454.7L639 454.7L643.8 454.7L648.6 450L653.4 450L658.1 450L662.9 445.3L667.7 445.3L672.5 445.3L677.3 440.6L682.1 440.6L686.9 440.6L691.7 435.8L696.4 435.8L701.2 435.8L706 431.1L710.8 431.1L715.6 426.4L720.4 426.4L725.2 426.4L730 421.7L734.8 421.7L739.5 421.7L744.3 416.9L749.1 416.9L753.9 416.9L758.7 412.2L763.5 412.2L768.3 407.5L773.1 407.5L777.9 407.5L782.6 402.8L787.4 402.8L792.2 402.8L797 398L801.8 398L806.6 398L811.4 393.3L816.2 393.3L820.9 388.6L825.7 388.6L830.5 388.6L835.3 388.6L840.1 383.9L844.9 383.9L849.7 383.9L854.5 383.9L859.3 379.1L864 379.1L868.8 379.1L873.6 379.1L878.4 374.4L883.2 374.4L888 374.4L892.8 374.4L897.6 374.4L902.3 374.4L907.1 374.4L911.9 369.7L916.7 369.7L921.5 369.7L926.3 369.7L931.1 369.7L935.9 369.7L940.7 374.4L945.4 374.4L950.2 374.4L955 374.4L959.8 374.4L964.6 374.4L969.4 374.4L974.2 374.4L979 374.4L1046 426.4L1050.8 431.1L1055.6 435.8L1060.4 440.4L1065.2 445L1069.9 451.3L1074.7 455.8L1079.5 462L1084.3 466.9L1089.1 474.2L1093.9 479.8L1098.7 488L1103.5 493.6L1108.3 502.2L1113 507.9L1117.8 516.7L1122.6 522.4L1127.4 530.8L1132.2 536.8L1137 545.2L1141.8 551.5L1146.6 559.7L1151.3 566.2L1156.1 574.5L1160.9 581.2L1165.7 589.9L1170.5 597L1175.3 606.6L1180.1 614.2L1184.9 624.8L1189.7 632.7L1194.4 643.5L1199.2 651.1L1204 661.6L1208.8 669.3L1213.6 679.6L1218.4 687.6L1223.2 697.9L1228 706.5L1232.7 716.8L1237.5 725.5L1242.3 735.8L1247.1 744.1L1251.9 754.4L1256.7 762.4L1261.5 772.7L1266.3 780.3L1271.1 790.4L1275.8 797.4L1280.6 807.1L1285.4 813.7L1290.2 823.1L1295 829.9L1299.8 839.2L1304.6 846.5L1309.4 855.7L1314.2 863L1318.9 871.8L1323.7 878.5L1328.5 886.7L1333.3 892.8L1338.1 901L1342.9 906.8L1347.7 915.4L1352.5 921.3L1357.2 930.1L1362 935.9L1366.8 944.3L1371.6 949.5L1376.4 956.9L1381.2 961.7L1386 968.6L1390.8 973.5L1395.6 980.4L1400.3 985.8L1405.1 993L1409.9 998.3L1414.7 1005.4L1419.5 1009.8L1424.3 1016.3L1429.1 1019.9L1433.9 1026.1L1438.7 1029.2L1443.4 1035.2L1448.2 1038.3L1453 1044.2L1457.8 1047.5L1462.6 1053L1467.4 1056.3L1472.2 1061.3L1477 1064.4L1481.7 1069L1486.5 1071.7L1491.3 1076L1496.1 1078.3L1500.9 1082.9L1505.7 1085.2L1510.5 1090.5L1515.3 1093.1L1520.1 1098.7L1524.8 1101.1L1529.6 1106.1L1534.4 1107.8L1539.2 1111.9L1544 1113.6L1548.8 1117.3L1553.6 1118.9L1558.4 1122.2L1563.1 1123.8L1567.9 1127L1572.7 1128.3L1577.5 1131.6L1582.3 1132.7L1587.1 1136.2L1591.9 1137L1596.7 1140.7L1601.5 1141.3L1606.2 1144.9L1611 1145.6L1615.8 1149L1620.6 1149.8L1625.4 1152.9L1630.2 1153.9L1635 1156.7L1639.8 1157.8L1644.6 1160.5L1649.3 1161.4L1654.1 1164.2L1658.9 1164.9L1663.7 1167.8L1668.5 1168.3L1673.3 1171.3L1678.1 1171.6L1682.9 1174.7L1687.6 1174.8L1692.4 1177.8L1697.2 1178.1L1702 1180.8L1706.8 1181.2L1711.6 1183.7L1716.4 1184.3L1721.2 1186.6L1726 1187.2L1730.7 1189.5L1735.5 1189.9L1740.3 1192.4L1745.1 1192.6L1749.9 1195.2L1754.7 1195.1L1759.5 1197.9L1764.3 1197.7L1769 1200.4L1773.8 1200.2L1778.6 1202.8L1783.4 1202.7L1788.2 1204.9L1793 1205.1L1797.8 1207.1L1802.6 1207.3L1807.4 1209.2L1812.1 1209.4L1816.9 1211.4L1821.7 1211.4L1826.5 1213.7L1831.3 1213.5L1836.1 1216.1L1840.9 1215.8L1845.7 1218.4L1850.5 1218.2L1855.2 1220.8L1860 1220.7L1864.8 1223.2L1869.6 1223.3L1874.4 1225.6L1879.2 1225.9L1884 1228.1L1888.8 1228.5L1893.5 1230.6L1898.3 1231L1903.1 1233.3L1907.9 1233.4L1912.7 1235.9L1917.5 1235.8L1922.3 1238.5L1927.1 1238.3L1931.9 1241L1936.6 1240.8L1941.4 1243.4L1946.2 1243.5L1951 1245.8L1955.8 1246.2L1960.6 1248.4L1965.4 1248.9L1970.2 1251.1L1975 1251.6L1979.7 1253.9L1984.5 1254.3L1989.3 1257L1994.1 1257.1L1998.9 1260L2003.7 1260.1L2008.5 1263.1L2013.3 1263.2L2018 1266.2L2022.8 1266.5L2027.6 1269.3L2032.4 1269.8L2037.2 1272.5"/>
<path d="M241.6 369.7L246.3 369.7L251.1 369.7L255.9 369.7L260.7 369.7L265.5 369.7L270.3 369.7L275.1 369.7L279.9 369.7L284.6 369.7L289.4 369.7L294.2 369.7L299 369.7L303.8 369.7L308.6 369.7L313.4 369.7L318.2 365L323 365L327.7 365L332.5 365L337.3 365L342.1 365L346.9 365L351.7 365L356.5 365L361.3 365L366 365L370.8 365L375.6 369.7L380.4 369.7L385.2 365L390 369.7L394.8 369.7L399.6 369.7L404.4 369.7L409.1 369.7L413.9 369.7L418.7 369.7L423.5 369.7L428.3 369.7L433.1 369.7L437.9 369.7L442.7 369.7L447.5 369.7L452.2 369.7L457 369.7L461.8 369.7L466.6 369.7L471.4 369.7L476.2 369.7L481 365L485.8 365L490.5 365L495.3 365L500.1 365L504.9 365L509.7 365L514.5 365L519.3 360.2L524.1 360.2L528.9 360.2L533.6 360.2L538.4 360.2L543.2 360.2L548 355.5L552.8 355.5L557.6 355.5L562.4 350.8L567.2 350.8L571.9 350.8L576.7 346.1L581.5 346.1L586.3 346.1L591.1 346.1L595.9 341.3L600.7 341.3L605.5 341.3L610.3 336.6L615 336.6L619.8 336.6L624.6 331.9L629.4 331.9L634.2 327.2L639 327.2L643.8 327.2L648.6 322.4L653.4 322.4L658.1 322.4L662.9 322.4L667.7 317.7L672.5 317.7L677.3 317.7L682.1 313L686.9 313L691.7 308.3L696.4 308.3L701.2 303.5L706 303.5L710.8 298.8L715.6 298.8L720.4 294.1L725.2 294.1L730 289.4L734.8 289.4L739.5 289.4L744.3 284.6L749.1 284.6L753.9 284.6L758.7 279.9L763.5 279.9L768.3 275.2L773.1 275.2L777.9 270.5L782.6 270.5L787.4 270.5L792.2 265.7L797 265.7L801.8 265.7L806.6 261L811.4 261L816.2 261L820.9 256.3L825.7 251.6L830.5 251.6L835.3 251.6L840.1 251.6L844.9 251.6L849.7 251.6L854.5 246.8L859.3 246.8L864 246.8L868.8 246.8L873.6 246.8L878.4 246.8L883.2 246.8L888 242.1L892.8 242.1L897.6 242.1L902.3 242.1L907.1 242.1L911.9 242.1L916.7 242.1L921.5 246.8L926.3 246.8L931.1 246.8L935.9 246.8L940.7 246.8L945.4 251.6L950.2 251.6L955 251.6L959.8 251.6L964.6 256.3L969.4 261L974.2 261L979 265.7L983.8 265.7L988.5 270.5L993.3 275.2L998.1 279.9L1002.9 284.6L1007.7 284.6L1012.5 289.4L1017.3 294.1L1022.1 298.8L1026.8 303.5L1031.6 313L1036.4 317.7L1041.2 322.4L1046 331.9L1050.8 341.3L1055.6 346.1L1127.4 450L1132.2 458.4L1137 468.4L1141.8 475.8L1146.6 486.3L1151.3 494.3L1156.1 505.1L1160.9 514L1165.7 525.1L1170.5 534.4L1175.3 545.4L1180.1 554.9L1184.9 566.2L1189.7 575.6L1194.4 586.9L1199.2 595.6L1204 606.5L1208.8 614.5L1213.6 625.5L1218.4 633.5L1223.2 644.9L1228 653.6L1232.7 665.1L1237.5 674.2L1242.3 685.6L1247.1 694.7L1251.9 705.5L1256.7 714.3L1261.5 724.7L1266.3 733.2L1271.1 743.7L1275.8 752.2L1280.6 763L1285.4 771.3L1290.2 782.3L1295 790.4L1299.8 801.4L1304.6 809.5L1309.4 820.4L1314.2 828.5L1318.9 838.6L1323.7 846.1L1328.5 855.1L1333.3 862L1338.1 870.6L1342.9 877.4L1347.7 886.3L1352.5 893.4L1357.2 902.6L1362 909.4L1366.8 918.4L1371.6 924.1L1376.4 932.3L1381.2 937.3L1386 945L1390.8 949.9L1395.6 957.5L1400.3 962.7L1405.1 970L1409.9 975.3L1414.7 982.3L1419.5 987.4L1424.3 994.1L1429.1 999L1433.9 1005.6L1438.7 1009.9L1443.4 1016.4L1448.2 1020.4L1453 1027L1457.8 1030.5L1462.6 1036.8L1467.4 1039.9L1472.2 1045.6L1477 1048.4L1481.7 1053.5L1486.5 1056.3L1491.3 1061.1L1496.1 1064.1L1500.9 1068.8L1505.7 1071.8L1510.5 1076.5L1515.3 1079.3L1520.1 1084.3L1524.8 1087L1529.6 1092L1534.4 1094L1539.2 1098.7L1544 1100.4L1548.8 1105L1553.6 1106.7L1558.4 1110.9L1563.1 1112.7L1567.9 1116.6L1572.7 1118.4L1577.5 1121.9L1582.3 1123.7L1587.1 1127.2L1591.9 1128.8L1596.7 1132.3L1601.5 1133.6L1606.2 1137.2L1611 1138.2L1615.8 1141.9L1620.6 1142.7L1625.4 1146.3L1630.2 1147L1635 1150.5L1639.8 1151.2L1644.6 1154.4L1649.3 1155.2L1654.1 1158.1L1658.9 1159L1663.7 1161.6L1668.5 1162.4L1673.3 1165L1678.1 1165.6L1682.9 1168.3L1687.6 1168.7L1692.4 1171.6L1697.2 1171.7L1702 1174.7L1706.8 1174.8L1711.6 1177.8L1716.4 1178.1L1721.2 1181L1726 1181.5L1730.7 1184.2L1735.5 1185L1740.3 1187.5L1745.1 1188.3L1749.9 1190.8L1754.7 1191.4L1759.5 1193.9L1764.3 1194.2L1769 1196.8L1773.8 1196.7L1778.6 1199.3L1783.4 1199L1788.2 1201.5L1793 1201.1L1797.8 1203.5L1802.6 1203.2L1807.4 1205.4L1812.1 1205.3L1816.9 1207.2L1821.7 1207.3L1826.5 1209.2L1831.3 1209.4L1836.1 1211.4L1840.9 1211.6L1845.7 1213.9L1850.5 1213.9L1855.2 1216.5L1860 1216.3L1864.8 1219.1L1869.6 1218.9L1874.4 1221.7L1879.2 1221.6L1884 1224.2L1888.8 1224.4L1893.5 1226.8L1898.3 1227.1L1903.1 1229.3L1907.9 1229.8L1912.7 1231.9L1917.5 1232.3L1922.3 1234.5L1927.1 1234.7L1931.9 1237.2L1936.6 1237.1L1941.4 1239.8L1946.2 1239.6L1951 1242.4L1955.8 1242.2L1960.6 1244.9L1965.4 1245L1970.2 1247.5L1975 1247.8L1979.7 1250.2L1984.5 1250.8L1989.3 1253.2L1994.1 1253.9L1998.9 1256.4L2003.7 1256.9L2008.5 1259.6L2013.3 1259.9L2018 1262.7L2022.8 1262.6L2027.6 1265.4L2032.4 1265.2L2037.2 1267.8"/>
</g>
<g class="cv" transform="translate(0.22 0)">
<path d="M241.6 828L246.3 829L251.1 829.9L255.9 830.9L260.7 831.8L265.5 832.8L270.3 833.7L275.1 834.6L279.9 835.6L284.6 836.5L289.4 837.5L294.2 838.4L299 839.4L303.8 840.3L308.6 842.2L313.4 843.2L318.2 844.1L323 845L327.7 846L332.5 846.9L337.3 848.8L342.1 849.8L346.9 850.7L351.7 851.7L356.5 853.5L361.3 854.5L366 855.4L370.8 857.3L375.6 858.3L380.4 860.2L385.2 861.1L390 863L394.8 863.9L399.6 865.8L404.4 866.8L409.1 868.7L413.9 870.6L418.7 872.4L423.5 874.3L428.3 876.2L433.1 878.1L437.9 880L442.7 881L447.5 882.8L452.2 884.7L457 886.6L461.8 888.5L466.6 889.5L471.4 891.3L476.2 893.2L481 894.2L485.8 896.1L490.5 897L495.3 898L500.1 899.9L504.9 900.8L509.7 901.7L514.5 902.7L519.3 904.6L524.1 905.5L528.9 905.5L533.6 906.5L538.4 907.4L543.2 908.4L548 909.3L552.8 909.3L557.6 910.2L562.4 910.2L567.2 911.2L571.9 911.2L576.7 911.2L581.5 912.1L586.3 912.1L591.1 913.1L595.9 913.1L600.7 914L605.5 914L610.3 914L615 915L619.8 915L624.6 915L629.4 915.9L634.2 915.9L639 915.9L643.8 915.9L648.6 916.9L653.4 916.9L658.1 916.9L662.9 916.9L667.7 916.9L672.5 917.8L677.3 917.8L682.1 917.8L686.9 917.8L691.7 917.8L696.4 917.8L701.2 917.8L706 917.8L710.8 917.8L715.6 917.8L720.4 916.9L725.2 916.9L730 916.9L734.8 916.9L739.5 916.9L744.3 916.9L749.1 916.9L753.9 916.9L758.7 916.9L763.5 916.9L768.3 916.9L773.1 916.9L777.9 916.9L782.6 917.8L787.4 917.8L792.2 917.8L797 917.8L801.8 917.8L806.6 917.8L811.4 917.8L816.2 917.8L820.9 917.8L825.7 917.8L830.5 917.8L835.3 917.8L840.1 917.8L844.9 917.8L849.7 917.8L854.5 917.8L859.3 917.8L864 917.8L868.8 917.8L873.6 917.8L878.4 917.8L883.2 918.8L888 918.8L892.8 918.8L897.6 918.8L902.3 918.8L907.1 919.7L911.9 919.7L916.7 919.7L921.5 920.6L926.3 920.6L931.1 921.6L935.9 921.6L940.7 922.5L945.4 922.5L950.2 923.5L955 923.5L959.8 924.4L964.6 924.4L969.4 925.4L974.2 926.3L979 927.3L983.8 928.2L988.5 928.2L993.3 929.1L998.1 930.1L1002.9 931L1007.7 932L1012.5 932.9L1017.3 933.9L1022.1 933.9L1026.8 934.8L1031.6 936.7L1036.4 937.7L1041.2 938.6L1046 939.5L1050.8 940.5L1055.6 941.4L1060.4 943.3L1065.2 944.3L1069.9 946.2L1074.7 947.1L1079.5 949L1084.3 950.9L1089.1 951.8L1093.9 953.7L1098.7 955.6L1103.5 957.5L1108.3 958.4L1113 960.3L1117.8 962.2L1122.6 964.1L1127.4 966L1132.2 967.9L1137 969.8L1141.8 970.7L1146.6 972.6L1151.3 974.5L1156.1 976.4L1160.9 978.3L1165.7 979.2L1170.5 981.1L1175.3 983L1180.1 984.9L1184.9 986.8L1189.7 988.7L1194.4 991.5L1199.2 993.4L1204 995.3L1208.8 998.1L1213.6 1000L1218.4 1002.9L1223.2 1005.7L1228 1007.6L1232.7 1010.4L1237.5 1012.3L1242.3 1015.1L1247.1 1017L1251.9 1019.9L1256.7 1021.8L1261.5 1023.7L1266.3 1026.5L1271.1 1028.4L1275.8 1030.3L1280.6 1033.1L1285.4 1035.9L1290.2 1037.8L1295 1040.7L1299.8 1042.6L1304.6 1045.4L1309.4 1048.2L1314.2 1050.1L1318.9 1052.9L1323.7 1055.8L1328.5 1058.6L1333.3 1060.5L1338.1 1063.3L1342.9 1066.2L1347.7 1069L1352.5 1070.9L1357.2 1073.7L1362 1076.6L1366.8 1078.5L1371.6 1081.3L1376.4 1084.1L1381.2 1086L1386 1088.9L1390.8 1090.8L1395.6 1093.6L1400.3 1095.5L1405.1 1098.3L1409.9 1100.2L1414.7 1102.1L1419.5 1104L1424.3 1105.9L1429.1 1107.8L1433.9 1109.7L1438.7 1111.5L1443.4 1113.4L1448.2 1115.3L1453 1117.2L1457.8 1119.1L1462.6 1121L1467.4 1122.9L1472.2 1124.8L1477 1126.7L1481.7 1128.6L1486.5 1130.4L1491.3 1132.3L1496.1 1134.2L1500.9 1136.1L1505.7 1137.1L1510.5 1138.9L1515.3 1140.8L1520.1 1142.7L1524.8 1143.7L1529.6 1145.6L1534.4 1146.5L1539.2 1148.4L1544 1150.3L1548.8 1151.2L1553.6 1153.1L1558.4 1154.1L1563.1 1156L1567.9 1157.8L1572.7 1158.8L1577.5 1160.7L1582.3 1161.6L1587.1 1163.5L1591.9 1164.5L1596.7 1166.4L1601.5 1167.3L1606.2 1169.2L1611 1170.1L1615.8 1171.1L1620.6 1173L1625.4 1173.9L1630.2 1175.8L1635 1176.7L1639.8 1177.7L1644.6 1179.6L1649.3 1180.5L1654.1 1182.4L1658.9 1183.4L1663.7 1184.3L1668.5 1186.2L1673.3 1187.1L1678.1 1189L1682.9 1190L1687.6 1191.9L1692.4 1192.8L1697.2 1193.8L1702 1195.7L1706.8 1196.6L1711.6 1197.5L1716.4 1198.5L1721.2 1199.4L1726 1200.4L1730.7 1201.3L1735.5 1202.3L1740.3 1203.2L1745.1 1204.2L1749.9 1205.1L1754.7 1205.1L1759.5 1206L1764.3 1207L1769 1207.9L1773.8 1208.9L1778.6 1209.8L1783.4 1210.8L1788.2 1211.7L1793 1212.7L1797.8 1213.6L1802.6 1215.5L1807.4 1216.4L1812.1 1217.4L1816.9 1218.3L1821.7 1220.2L1826.5 1221.2L1831.3 1222.1L1836.1 1224L1840.9 1224.9L1845.7 1225.9L1850.5 1226.8L1855.2 1227.8L1860 1229.7L1864.8 1230.6L1869.6 1231.6L1874.4 1232.5L1879.2 1234.4L1884 1235.3L1888.8 1236.3L1893.5 1238.2L1898.3 1239.1L1903.1 1240.1L1907.9 1242L1912.7 1242.9L1917.5 1243.8L1922.3 1245.7L1927.1 1246.7L1931.9 1248.6L1936.6 1249.5L1941.4 1250.5L1946.2 1252.4L1951 1253.3L1955.8 1255.2L1960.6 1256.1L1965.4 1258L1970.2 1259.9L1975 1260.9L1979.7 1262.7L1984.5 1263.7L1989.3 1265.6L1994.1 1267.5L1998.9 1268.4L2003.7 1270.3L2008.5 1272.2L2013.3 1274.1L2018 1275L2022.8 1276.9L2027.6 1278.8L2032.4 1280.7L2037.2 1282.6"/>
<path d="M241.6 819.2L246.3 820.7L251.1 820.4L255.9 822.2L260.7 822.1L265.5 823.7L270.3 823.8L275.1 825.4L279.9 825.4L284.6 827.2L289.4 827L294.2 829.1L299 828.7L303.8 830.9L308.6 830.4L313.4 832.7L318.2 832.3L323 834.4L327.7 834.2L332.5 836.2L337.3 836.3L342.1 838.2L346.9 838.5L351.7 840.4L356.5 840.8L361.3 843L366 843.3L370.8 845.8L375.6 846.1L380.4 848.8L385.2 849L390 852L394.8 852.2L399.6 855.1L404.4 855.5L409.1 858.4L413.9 859.2L418.7 862L423.5 863L428.3 865.8L433.1 866.9L437.9 869.6L442.7 870.6L447.5 873.4L452.2 874L457 876.9L461.8 877.2L466.6 880.2L471.4 880.4L476.2 883.3L481 883.4L485.8 886.1L490.5 886.3L495.3 888.7L500.1 889.1L504.9 891.2L509.7 891.5L514.5 893.4L519.3 893.5L524.1 895.2L528.9 894.9L533.6 896.7L538.4 896.1L543.2 897.9L548 897L552.8 898.8L557.6 897.7L562.4 899.4L567.2 898.4L571.9 899.9L576.7 899.2L581.5 900.5L586.3 900.1L591.1 901.4L595.9 901.2L600.7 902.5L605.5 902.1L610.3 903.5L615 902.7L619.8 904.2L624.6 903.2L629.4 904.8L634.2 903.6L639 905.3L643.8 904.1L648.6 905.6L653.4 904.6L658.1 905.8L662.9 905L667.7 905.9L672.5 905.2L677.3 906.1L682.1 905.4L686.9 906.3L691.7 905.4L696.4 906.5L701.2 905.2L706 906.4L710.8 904.9L715.6 906.1L720.4 904.6L725.2 905.8L730 904.5L734.8 905.6L739.5 904.6L744.3 905.5L749.1 904.6L753.9 905.4L758.7 904.7L763.5 905.5L768.3 904.6L773.1 905.6L777.9 904.5L782.6 905.7L787.4 904.4L792.2 905.7L797 904.2L801.8 905.4L806.6 904L811.4 905.1L816.2 903.9L820.9 904.8L825.7 903.8L830.5 904.6L835.3 903.8L840.1 904.6L844.9 903.8L849.7 904.7L854.5 903.7L859.3 904.8L864 903.6L868.8 904.9L873.6 903.5L878.4 904.9L883.2 903.5L888 904.9L892.8 903.7L897.6 904.9L902.3 904.1L907.1 905.2L911.9 904.6L916.7 905.6L921.5 905.1L926.3 906.2L931.1 905.7L935.9 907.2L940.7 906.7L945.4 908.5L950.2 907.9L955 909.8L959.8 909L964.6 911L969.4 910.2L974.2 912L979 911.5L983.8 913.1L988.5 912.8L993.3 914.3L998.1 914.1L1002.9 915.5L1007.7 915.3L1012.5 916.9L1017.3 916.7L1022.1 918.6L1026.8 918.2L1031.6 920.4L1036.4 920L1041.2 922.4L1046 922.1L1050.8 924.6L1055.6 924.5L1060.4 926.8L1065.2 927.2L1069.9 929.6L1074.7 930.3L1079.5 932.6L1084.3 933.4L1089.1 935.9L1093.9 936.6L1098.7 939.3L1103.5 939.9L1108.3 942.9L1113 943.4L1117.8 946.6L1122.6 947L1127.4 950.3L1132.2 950.9L1137 954L1141.8 954.9L1146.6 957.9L1151.3 959.1L1156.1 962L1160.9 963.3L1165.7 966.3L1170.5 967.6L1175.3 970.8L1180.1 972L1184.9 975.5L1189.7 976.7L1194.4 980.5L1199.2 981.7L1204 985.6L1208.8 987L1213.6 991.2L1218.4 992.8L1223.2 996.8L1228 998.5L1232.7 1001.9L1237.5 1003.6L1242.3 1006.8L1247.1 1008.3L1251.9 1011.5L1256.7 1012.9L1261.5 1016.2L1266.3 1017.4L1271.1 1021L1275.8 1022.2L1280.6 1026.1L1285.4 1027.3L1290.2 1031.3L1295 1032.6L1299.8 1036.5L1304.6 1038.1L1309.4 1041.9L1314.2 1043.8L1318.9 1047.4L1323.7 1049.5L1328.5 1053.1L1333.3 1055.1L1338.1 1058.7L1342.9 1060.5L1347.7 1064.3L1352.5 1065.9L1357.2 1069.9L1362 1071.2L1366.8 1075.3L1371.6 1076.6L1376.4 1080.5L1381.2 1081.8L1386 1085.4L1390.8 1086.9L1395.6 1090.3L1400.3 1091.9L1405.1 1095.1L1409.9 1096.7L1414.7 1099.8L1419.5 1101.1L1424.3 1104.2L1429.1 1105.2L1433.9 1108.3L1438.7 1109L1443.4 1112.2L1448.2 1112.7L1453 1115.9L1457.8 1116.4L1462.6 1119.6L1467.4 1120.4L1472.2 1123.4L1477 1124.4L1481.7 1127.3L1486.5 1128.4L1491.3 1131.2L1496.1 1132.3L1500.9 1135L1505.7 1135.8L1510.5 1138.6L1515.3 1139.1L1520.1 1142.1L1524.8 1142.3L1529.6 1145.3L1534.4 1145.6L1539.2 1148.5L1544 1148.8L1548.8 1151.5L1553.6 1152L1558.4 1154.4L1563.1 1155.1L1567.9 1157.4L1572.7 1158L1577.5 1160.3L1582.3 1160.9L1587.1 1163.3L1591.9 1163.6L1596.7 1166.3L1601.5 1166.4L1606.2 1169.1L1611 1169.1L1615.8 1171.8L1620.6 1171.8L1625.4 1174.4L1630.2 1174.6L1635 1177L1639.8 1177.4L1644.6 1179.5L1649.3 1180L1654.1 1182.2L1658.9 1182.7L1663.7 1184.9L1668.5 1185.3L1673.3 1187.8L1678.1 1188L1682.9 1190.6L1687.6 1190.6L1692.4 1193.3L1697.2 1193.2L1702 1195.7L1706.8 1195.7L1711.6 1197.9L1716.4 1197.9L1721.2 1199.8L1726 1199.9L1730.7 1201.6L1735.5 1201.7L1740.3 1203.3L1745.1 1203.2L1749.9 1205L1754.7 1204.7L1759.5 1206.8L1764.3 1206.3L1769 1208.5L1773.8 1208L1778.6 1210.4L1783.4 1210.1L1788.2 1212.3L1793 1212.3L1797.8 1214.4L1802.6 1214.6L1807.4 1216.6L1812.1 1217L1816.9 1218.9L1821.7 1219.3L1826.5 1221.4L1831.3 1221.5L1836.1 1223.8L1840.9 1223.8L1845.7 1226.3L1850.5 1226L1855.2 1228.6L1860 1228.4L1864.8 1230.9L1869.6 1230.8L1874.4 1233.1L1879.2 1233.3L1884 1235.4L1888.8 1235.8L1893.5 1237.8L1898.3 1238.2L1903.1 1240.3L1907.9 1240.7L1912.7 1243L1917.5 1243.1L1922.3 1245.7L1927.1 1245.7L1931.9 1248.4L1936.6 1248.4L1941.4 1251.1L1946.2 1251.2L1951 1253.8L1955.8 1254.1L1960.6 1256.5L1965.4 1257.1L1970.2 1259.4L1975 1260.1L1979.7 1262.4L1984.5 1263.1L1989.3 1265.5L1994.1 1266.1L1998.9 1268.8L2003.7 1269.2L2008.5 1272.1L2013.3 1272.4L2018 1275.5L2022.8 1275.8L2027.6 1278.8L2032.4 1279.3L2037.2 1282.1"/>
<path d="M241.6 806.4L246.3 808L251.1 807.2L255.9 809.3L260.7 808.6L265.5 810.6L270.3 810.2L275.1 812L279.9 811.9L284.6 813.5L289.4 813.6L294.2 815.2L299 815.3L303.8 817.1L308.6 817L313.4 819.1L318.2 818.9L323 821.2L327.7 820.9L332.5 823.4L337.3 823.1L342.1 825.5L346.9 825.5L351.7 827.7L356.5 827.9L361.3 830L366 830.3L370.8 832.4L375.6 832.8L380.4 834.9L385.2 835.3L390 837.7L394.8 838L399.6 840.6L404.4 840.8L409.1 843.7L413.9 844L418.7 847.1L423.5 847.5L428.3 850.5L433.1 851.1L437.9 853.9L442.7 854.7L447.5 857.2L452.2 858L457 860.3L461.8 861L466.6 863.4L471.4 863.8L476.2 866.4L481 866.5L485.8 869.1L490.5 868.9L495.3 871.5L500.1 871.3L504.9 873.8L509.7 873.6L514.5 875.7L519.3 875.5L524.1 877.2L528.9 877.1L533.6 878.6L538.4 878.4L543.2 879.7L548 879.3L552.8 880.7L557.6 880L562.4 881.6L567.2 880.6L571.9 882.3L576.7 881.2L581.5 883L586.3 882.1L591.1 883.7L595.9 883L600.7 884.4L605.5 883.8L610.3 884.9L615 884.3L619.8 885.3L624.6 884.7L629.4 885.8L634.2 884.9L639 886.2L643.8 885.1L648.6 886.5L653.4 885.2L658.1 886.6L662.9 885.3L667.7 886.6L672.5 885.3L677.3 886.3L682.1 885.2L686.9 886L691.7 885.1L696.4 885.8L701.2 884.9L706 885.7L710.8 884.6L715.6 885.5L720.4 884.3L725.2 885.4L730 883.9L734.8 885.1L739.5 883.6L744.3 884.7L749.1 883.2L753.9 884.2L758.7 882.9L763.5 883.7L768.3 882.6L773.1 883.2L777.9 882.3L782.6 882.9L787.4 881.9L792.2 882.8L797 881.6L801.8 882.7L806.6 881.3L811.4 882.6L816.2 881.1L820.9 882.4L825.7 880.9L830.5 882.2L835.3 880.9L840.1 881.9L844.9 880.8L849.7 881.6L854.5 880.7L859.3 881.4L864 880.6L868.8 881.4L873.6 880.4L878.4 881.4L883.2 880.2L888 881.5L892.8 880.2L897.6 881.7L902.3 880.5L907.1 882.1L911.9 881L916.7 882.4L921.5 881.6L926.3 882.8L931.1 882.3L935.9 883.5L940.7 883.2L945.4 884.6L950.2 884.3L955 885.8L959.8 885.3L964.6 887.1L969.4 886.5L974.2 888.5L979 887.9L983.8 890L988.5 889.5L993.3 891.5L998.1 890.9L1002.9 892.8L1007.7 892.6L1012.5 894.3L1017.3 894.3L1022.1 895.9L1026.8 896L1031.6 897.8L1036.4 897.8L1041.2 899.9L1046 899.8L1050.8 902.1L1055.6 901.8L1060.4 904.4L1065.2 904.5L1069.9 907.4L1074.7 907.7L1079.5 910.6L1084.3 911.2L1089.1 913.8L1093.9 914.7L1098.7 917.3L1103.5 918.3L1108.3 920.9L1113 921.9L1117.8 924.8L1122.6 925.7L1127.4 928.8L1132.2 929.5L1137 932.8L1141.8 933.4L1146.6 936.8L1151.3 937.6L1156.1 941.1L1160.9 942.2L1165.7 945.8L1170.5 947.4L1175.3 951L1180.1 953.1L1184.9 956.9L1189.7 959.3L1194.4 963.4L1199.2 965.8L1204 970.3L1208.8 972.9L1213.6 978.1L1218.4 980.7L1223.2 985.9L1228 987.9L1232.7 992.2L1237.5 993.4L1242.3 997L1247.1 998.2L1251.9 1001.6L1256.7 1003.1L1261.5 1006.3L1266.3 1008L1271.1 1011.3L1275.8 1013.2L1280.6 1016.8L1285.4 1018.6L1290.2 1022.5L1295 1024.1L1299.8 1028.4L1304.6 1029.9L1309.4 1034.4L1314.2 1036.1L1318.9 1040.5L1323.7 1042.4L1328.5 1046.5L1333.3 1048.6L1338.1 1052.5L1342.9 1054.6L1347.7 1058.3L1352.5 1060.4L1357.2 1064.2L1362 1066.1L1366.8 1070L1371.6 1071.7L1376.4 1075.7L1381.2 1077.1L1386 1081.1L1390.8 1082.4L1395.6 1086.4L1400.3 1087.8L1405.1 1091.5L1409.9 1093L1414.7 1096.4L1419.5 1097.9L1424.3 1101L1429.1 1102.4L1433.9 1105.3L1438.7 1106.6L1443.4 1109.5L1448.2 1110.5L1453 1113.6L1457.8 1114.4L1462.6 1117.7L1467.4 1118.4L1472.2 1121.8L1477 1122.5L1481.7 1125.8L1486.5 1126.6L1491.3 1129.7L1496.1 1130.7L1500.9 1133.5L1505.7 1134.5L1510.5 1137.2L1515.3 1138.2L1520.1 1140.8L1524.8 1141.6L1529.6 1144.3L1534.4 1144.8L1539.2 1147.7L1544 1148L1548.8 1150.9L1553.6 1151.1L1558.4 1154L1563.1 1154.2L1567.9 1156.9L1572.7 1157.4L1577.5 1159.8L1582.3 1160.4L1587.1 1162.7L1591.9 1163.3L1596.7 1165.6L1601.5 1166.1L1606.2 1168.5L1611 1168.8L1615.8 1171.4L1620.6 1171.5L1625.4 1174.2L1630.2 1174.1L1635 1176.8L1639.8 1176.8L1644.6 1179.4L1649.3 1179.6L1654.1 1182L1658.9 1182.4L1663.7 1184.6L1668.5 1185.2L1673.3 1187.4L1678.1 1187.9L1682.9 1190.2L1687.6 1190.6L1692.4 1192.9L1697.2 1193L1702 1195.5L1706.8 1195.3L1711.6 1197.8L1716.4 1197.5L1721.2 1199.8L1726 1199.5L1730.7 1201.6L1735.5 1201.3L1740.3 1203.2L1745.1 1203.1L1749.9 1204.7L1754.7 1204.8L1759.5 1206.4L1764.3 1206.4L1769 1208.2L1773.8 1208L1778.6 1210.2L1783.4 1209.9L1788.2 1212.3L1793 1211.9L1797.8 1214.4L1802.6 1214.2L1807.4 1216.6L1812.1 1216.6L1816.9 1218.8L1821.7 1219L1826.5 1221L1831.3 1221.4L1836.1 1223.3L1840.9 1223.7L1845.7 1225.7L1850.5 1225.9L1855.2 1228.1L1860 1228.1L1864.8 1230.5L1869.6 1230.3L1874.4 1232.9L1879.2 1232.7L1884 1235.2L1888.8 1235.1L1893.5 1237.5L1898.3 1237.7L1903.1 1239.9L1907.9 1240.3L1912.7 1242.4L1917.5 1242.9L1922.3 1245L1927.1 1245.4L1931.9 1247.7L1936.6 1248L1941.4 1250.5L1946.2 1250.6L1951 1253.3L1955.8 1253.3L1960.6 1256.1L1965.4 1256.2L1970.2 1258.9L1975 1259.2L1979.7 1261.8L1984.5 1262.3L1989.3 1264.8L1994.1 1265.5L1998.9 1267.9L2003.7 1268.7L2008.5 1271.1L2013.3 1271.8L2018 1274.5L2022.8 1275L2027.6 1278L2032.4 1278.4L2037.2 1281.5"/>
<path d="M241.6 804.4L246.3 804.4L251.1 805.3L255.9 806.3L260.7 806.3L265.5 807.2L270.3 808.2L275.1 809.1L279.9 810.1L284.6 811L289.4 812L294.2 812.9L299 813.9L303.8 814.8L308.6 815.7L313.4 817.6L318.2 818.6L323 819.5L327.7 820.5L332.5 821.4L337.3 823.3L342.1 824.2L346.9 825.2L351.7 826.1L356.5 827.1L361.3 828L366 829.9L370.8 830.9L375.6 831.8L380.4 832.8L385.2 833.7L390 834.6L394.8 836.5L399.6 837.5L404.4 838.4L409.1 840.3L413.9 842.2L418.7 843.2L423.5 845L428.3 846.9L433.1 847.9L437.9 849.8L442.7 851.7L447.5 853.5L452.2 854.5L457 856.4L461.8 858.3L466.6 860.2L471.4 861.1L476.2 863L481 864.9L485.8 865.8L490.5 866.8L495.3 868.7L500.1 869.6L504.9 870.6L509.7 871.5L514.5 872.4L519.3 873.4L524.1 874.3L528.9 874.3L533.6 875.3L538.4 875.3L543.2 876.2L548 876.2L552.8 876.2L557.6 877.2L562.4 877.2L567.2 877.2L571.9 878.1L576.7 878.1L581.5 878.1L586.3 879.1L591.1 879.1L595.9 879.1L600.7 880L605.5 880L610.3 880L615 880L619.8 881L624.6 881L629.4 881L634.2 881L639 881L643.8 881L648.6 881L653.4 881.9L658.1 881.9L662.9 881.9L667.7 881.9L672.5 881.9L677.3 881.9L682.1 881.9L686.9 881.9L691.7 881.9L696.4 881.9L701.2 881.9L706 881L710.8 881L715.6 881L720.4 881L725.2 881L730 880L734.8 880L739.5 880L744.3 880L749.1 879.1L753.9 879.1L758.7 879.1L763.5 879.1L768.3 879.1L773.1 878.1L777.9 878.1L782.6 878.1L787.4 878.1L792.2 878.1L797 878.1L801.8 878.1L806.6 878.1L811.4 878.1L816.2 878.1L820.9 878.1L825.7 878.1L830.5 878.1L835.3 878.1L840.1 877.2L916.7 877.2L921.5 877.2L926.3 877.2L931.1 877.2L935.9 878.1L940.7 878.1L945.4 878.1L950.2 879.1L955 879.1L959.8 880L964.6 880L969.4 881L974.2 881.9L979 881.9L983.8 882.8L988.5 883.8L993.3 883.8L998.1 884.7L1002.9 885.7L1007.7 886.6L1012.5 887.6L1017.3 888.5L1022.1 889.5L1026.8 890.4L1031.6 891.3L1036.4 892.3L1041.2 893.2L1046 894.2L1050.8 896.1L1055.6 897L1060.4 898L1065.2 899.9L1069.9 901.7L1074.7 902.7L1079.5 904.6L1084.3 906.5L1089.1 908.4L1093.9 910.2L1098.7 912.1L1103.5 914L1108.3 915L1113 916.9L1117.8 918.8L1122.6 920.6L1127.4 922.5L1132.2 924.4L1137 926.3L1141.8 929.1L1146.6 931L1151.3 932.9L1156.1 934.8L1160.9 937.7L1165.7 939.5L1170.5 942.4L1175.3 945.2L1180.1 948L1184.9 950.9L1189.7 953.7L1194.4 956.6L1199.2 959.4L1204 962.2L1208.8 966L1213.6 969.8L1218.4 973.6L1223.2 976.4L1228 980.2L1232.7 983L1237.5 985.9L1242.3 988.7L1247.1 990.6L1251.9 993.4L1256.7 996.2L1261.5 999.1L1266.3 1001.9L1271.1 1004.8L1275.8 1007.6L1280.6 1010.4L1285.4 1013.3L1290.2 1016.1L1295 1018.9L1299.8 1021.8L1304.6 1025.5L1309.4 1028.4L1314.2 1031.2L1318.9 1035L1323.7 1037.8L1328.5 1041.6L1333.3 1044.4L1338.1 1047.3L1342.9 1051.1L1347.7 1053.9L1352.5 1056.7L1357.2 1059.6L1362 1063.3L1366.8 1066.2L1371.6 1069L1376.4 1071.8L1381.2 1074.7L1386 1077.5L1390.8 1080.4L1395.6 1083.2L1400.3 1086L1405.1 1087.9L1409.9 1090.8L1414.7 1093.6L1419.5 1096.4L1424.3 1098.3L1429.1 1101.1L1433.9 1103L1438.7 1104.9L1443.4 1107.8L1448.2 1109.7L1453 1111.5L1457.8 1113.4L1462.6 1115.3L1467.4 1118.2L1472.2 1120L1477 1121.9L1481.7 1123.8L1486.5 1125.7L1491.3 1128.6L1496.1 1130.4L1500.9 1132.3L1505.7 1134.2L1510.5 1136.1L1515.3 1138L1520.1 1139.9L1524.8 1141.8L1529.6 1142.7L1534.4 1144.6L1539.2 1146.5L1544 1148.4L1548.8 1149.3L1553.6 1151.2L1558.4 1153.1L1563.1 1154.1L1567.9 1156L1572.7 1157.8L1577.5 1158.8L1582.3 1160.7L1587.1 1161.6L1591.9 1163.5L1596.7 1164.5L1601.5 1166.4L1606.2 1167.3L1611 1169.2L1615.8 1170.1L1620.6 1172L1625.4 1173L1630.2 1174.9L1635 1175.8L1639.8 1177.7L1644.6 1178.6L1649.3 1179.6L1654.1 1181.5L1658.9 1182.4L1663.7 1184.3L1668.5 1185.3L1673.3 1187.1L1678.1 1188.1L1682.9 1190L1687.6 1190.9L1692.4 1191.9L1697.2 1193.8L1702 1194.7L1706.8 1195.7L1711.6 1196.6L1716.4 1197.5L1721.2 1199.4L1726 1200.4L1730.7 1200.4L1735.5 1201.3L1740.3 1202.3L1745.1 1203.2L1749.9 1204.2L1754.7 1205.1L1759.5 1206L1764.3 1207L1769 1207.9L1773.8 1208.9L1778.6 1209.8L1783.4 1210.8L1788.2 1211.7L1793 1212.7L1797.8 1213.6L1802.6 1214.6L1807.4 1215.5L1812.1 1217.4L1816.9 1218.3L1821.7 1219.3L1826.5 1220.2L1831.3 1221.2L1836.1 1223.1L1840.9 1224L1845.7 1224.9L1850.5 1225.9L1855.2 1226.8L1860 1228.7L1864.8 1229.7L1869.6 1230.6L1874.4 1231.6L1879.2 1233.5L1884 1234.4L1888.8 1235.3L1893.5 1236.3L1898.3 1238.2L1903.1 1239.1L1907.9 1240.1L1912.7 1242L1917.5 1242.9L1922.3 1243.8L1927.1 1245.7L1931.9 1246.7L1936.6 1248.6L1941.4 1249.5L1946.2 1250.5L1951 1252.4L1955.8 1253.3L1960.6 1255.2L1965.4 1256.1L1970.2 1258L1975 1259L1979.7 1260.9L1984.5 1262.7L1989.3 1263.7L1994.1 1265.6L1998.9 1266.5L2003.7 1268.4L2008.5 1270.3L2013.3 1272.2L2018 1273.1L2022.8 1275L2027.6 1276.9L2032.4 1278.8L2037.2 1279.8"/>
<path d="M241.6 791.2L246.3 792.4L251.1 792.5L255.9 794.1L260.7 794.2L265.5 796L270.3 795.9L275.1 797.9L279.9 797.6L284.6 799.9L289.4 799.4L294.2 801.8L299 801.4L303.8 803.7L308.6 803.4L313.4 805.6L318.2 805.5L323 807.5L327.7 807.7L332.5 809.5L337.3 809.8L342.1 811.7L346.9 811.9L351.7 814.1L356.5 814.1L361.3 816.6L366 816.5L370.8 819.1L375.6 819L380.4 821.7L385.2 821.7L390 824.3L394.8 824.5L399.6 826.8L404.4 827.3L409.1 829.5L413.9 830.1L418.7 832.3L423.5 833L428.3 835.3L433.1 835.8L437.9 838.4L442.7 838.6L447.5 841.4L452.2 841.4L457 844.3L461.8 844.4L466.6 847.3L471.4 847.6L476.2 850.2L481 850.5L485.8 852.6L490.5 852.9L495.3 854.8L500.1 855.1L504.9 856.9L509.7 857L514.5 858.8L519.3 858.4L524.1 860.2L528.9 859.5L533.6 861.3L538.4 860.4L543.2 862.1L548 861.1L552.8 862.6L557.6 861.7L562.4 863L567.2 862.2L571.9 863.3L576.7 862.7L581.5 863.7L586.3 863.2L591.1 864.4L595.9 863.7L600.7 865L605.5 864.1L610.3 865.6L615 864.4L619.8 865.9L624.6 864.7L629.4 866.2L634.2 865.1L639 866.4L643.8 865.4L648.6 866.5L653.4 865.7L658.1 866.5L662.9 865.7L667.7 866.6L672.5 865.6L677.3 866.5L682.1 865.3L686.9 866.4L691.7 864.9L696.4 866.2L701.2 864.6L706 865.6L710.8 863.9L715.6 864.8L720.4 863.3L725.2 864L730 862.8L734.8 863.5L739.5 862.6L744.3 863.4L749.1 862.5L753.9 863.3L758.7 862.2L763.5 863.3L768.3 862L773.1 863.2L777.9 861.8L782.6 863.1L787.4 861.6L792.2 862.7L797 861.3L801.8 862.2L806.6 860.9L811.4 861.6L816.2 860.6L820.9 861.2L825.7 860.2L830.5 860.8L835.3 859.8L840.1 860.7L844.9 859.4L849.7 860.5L854.5 859.1L859.3 860.3L864 858.8L868.8 860.1L873.6 858.7L878.4 859.9L883.2 858.8L888 859.8L892.8 858.9L897.6 859.8L902.3 859.1L907.1 860L911.9 859.3L916.7 860.3L921.5 859.5L926.3 860.7L931.1 859.7L935.9 861.4L940.7 860.3L945.4 862.1L950.2 861.2L955 863L959.8 862.2L964.6 863.8L969.4 863.3L974.2 864.8L979 864.6L983.8 866L988.5 865.9L993.3 867.3L998.1 866.9L1002.9 868.5L1007.7 868L1012.5 870L1017.3 869.4L1022.1 871.6L1026.8 871L1031.6 873.3L1036.4 873L1041.2 875.2L1046 875.2L1050.8 877.3L1055.6 877.5L1060.4 879.5L1065.2 880.4L1069.9 882.9L1074.7 883.8L1079.5 886.5L1084.3 887.3L1089.1 890.3L1093.9 890.9L1098.7 894.2L1103.5 894.7L1108.3 898.1L1113 898.7L1117.8 902.1L1122.6 902.9L1127.4 906.2L1132.2 907.4L1137 910.5L1141.8 911.9L1146.6 915.1L1151.3 916.7L1156.1 920L1160.9 921.7L1165.7 925.4L1170.5 927L1175.3 931.1L1180.1 932.8L1184.9 937.3L1189.7 939.2L1194.4 943.9L1199.2 946.1L1204 950.9L1208.8 953.6L1213.6 958.6L1218.4 961.8L1223.2 966.5L1228 969.4L1232.7 973.4L1237.5 975.4L1242.3 979.1L1247.1 980.8L1251.9 984.7L1256.7 986.3L1261.5 990.4L1266.3 991.9L1271.1 996.2L1275.8 997.9L1280.6 1002.3L1285.4 1004.2L1290.2 1008.5L1295 1010.7L1299.8 1014.9L1304.6 1017.4L1309.4 1021.6L1314.2 1024.3L1318.9 1028.7L1323.7 1031.3L1328.5 1035.8L1333.3 1038.1L1338.1 1042.7L1342.9 1044.6L1347.7 1049.2L1352.5 1051.1L1357.2 1055.6L1362 1057.4L1366.8 1061.8L1371.6 1063.7L1376.4 1067.8L1381.2 1069.9L1386 1073.7L1390.8 1075.8L1395.6 1079.6L1400.3 1081.6L1405.1 1085.4L1409.9 1087.2L1414.7 1091L1419.5 1092.4L1424.3 1096.3L1429.1 1097.4L1433.9 1101.1L1438.7 1102.1L1443.4 1105.7L1448.2 1106.7L1453 1110L1457.8 1111.2L1462.6 1114.3L1467.4 1115.7L1472.2 1118.6L1477 1120L1481.7 1122.9L1486.5 1124.1L1491.3 1127.2L1496.1 1128.1L1500.9 1131.4L1505.7 1132.1L1510.5 1135.5L1515.3 1136L1520.1 1139.3L1524.8 1139.9L1529.6 1142.9L1534.4 1143.6L1539.2 1146.3L1544 1147L1548.8 1149.5L1553.6 1150.3L1558.4 1152.7L1563.1 1153.4L1567.9 1155.9L1572.7 1156.4L1577.5 1159L1582.3 1159.3L1587.1 1162.1L1591.9 1162.2L1596.7 1165.1L1601.5 1165.2L1606.2 1167.9L1611 1168.1L1615.8 1170.6L1620.6 1171L1625.4 1173.3L1630.2 1173.9L1635 1176L1639.8 1176.6L1644.6 1178.8L1649.3 1179.2L1654.1 1181.6L1658.9 1181.8L1663.7 1184.4L1668.5 1184.5L1673.3 1187.3L1678.1 1187.2L1682.9 1190L1687.6 1190L1692.4 1192.5L1697.2 1192.7L1702 1194.9L1706.8 1195.2L1711.6 1197.1L1716.4 1197.4L1721.2 1199.2L1726 1199.3L1730.7 1201.1L1735.5 1201L1740.3 1203L1745.1 1202.6L1749.9 1204.7L1754.7 1204.2L1759.5 1206.4L1764.3 1205.9L1769 1208.1L1773.8 1207.8L1778.6 1209.8L1783.4 1209.8L1788.2 1211.8L1793 1212L1797.8 1213.8L1802.6 1214.1L1807.4 1216.1L1812.1 1216.2L1816.9 1218.4L1821.7 1218.4L1826.5 1220.8L1831.3 1220.6L1836.1 1223.1L1840.9 1222.8L1845.7 1225.3L1850.5 1225.2L1855.2 1227.5L1860 1227.6L1864.8 1229.7L1869.6 1230L1874.4 1232L1879.2 1232.4L1884 1234.3L1888.8 1234.7L1893.5 1236.8L1898.3 1237L1903.1 1239.4L1907.9 1239.4L1912.7 1242L1917.5 1241.9L1922.3 1244.5L1927.1 1244.5L1931.9 1247L1936.6 1247.1L1941.4 1249.6L1946.2 1249.9L1951 1252.1L1955.8 1252.7L1960.6 1254.9L1965.4 1255.5L1970.2 1257.7L1975 1258.2L1979.7 1260.7L1984.5 1261.1L1989.3 1263.8L1994.1 1264L1998.9 1267L2003.7 1267.2L2008.5 1270.1L2013.3 1270.5L2018 1273.3L2022.8 1273.9L2027.6 1276.5L2032.4 1277.3L2037.2 1279.9"/>
<path d="M241.6 783.3L246.3 785L251.1 784.7L255.9 786.7L260.7 786.7L265.5 788.5L270.3 788.6L275.1 790.3L279.9 790.4L284.6 792.1L289.4 792.1L294.2 794L299 793.8L303.8 795.9L308.6 795.4L313.4 797.6L318.2 797.1L323 799.2L327.7 798.8L332.5 800.8L337.3 800.6L342.1 802.6L346.9 802.6L351.7 804.5L356.5 804.8L361.3 806.8L366 807.2L370.8 809.4L375.6 809.6L380.4 812.1L385.2 812.2L390 814.9L394.8 814.9L399.6 817.7L404.4 817.7L409.1 820.3L413.9 820.6L418.7 823.1L423.5 823.5L428.3 825.9L433.1 826.5L437.9 828.8L442.7 829.4L447.5 831.7L452.2 832.3L457 834.8L461.8 835.1L466.6 837.9L471.4 838.1L476.2 840.9L481 840.9L485.8 843.5L490.5 843.3L495.3 845.7L500.1 845.7L504.9 847.7L509.7 847.7L514.5 849.3L519.3 849.2L524.1 850.5L528.9 850.1L533.6 851.4L538.4 850.7L543.2 852.2L548 851.2L552.8 852.9L557.6 851.7L562.4 853.4L567.2 852.3L571.9 853.8L576.7 852.8L581.5 854.1L586.3 853.3L591.1 854.4L595.9 853.8L600.7 854.8L605.5 854.2L610.3 855.1L615 854.3L619.8 855.4L624.6 854.3L629.4 855.6L634.2 854.4L639 855.8L643.8 854.4L648.6 855.8L653.4 854.6L658.1 855.8L662.9 854.7L667.7 855.6L672.5 854.7L677.3 855.4L682.1 854.5L686.9 855.1L691.7 854.1L696.4 854.9L701.2 853.7L706 854.7L710.8 853.2L715.6 854.4L720.4 852.8L725.2 853.9L730 852.4L734.8 853.4L739.5 852L744.3 852.8L749.1 851.5L753.9 852.1L758.7 851L763.5 851.5L768.3 850.4L773.1 851L777.9 849.8L782.6 850.6L787.4 849.3L792.2 850.4L797 848.9L801.8 850.1L806.6 848.6L811.4 849.8L816.2 848.3L820.9 849.4L825.7 848.1L830.5 848.9L835.3 847.9L840.1 848.5L844.9 847.4L849.7 848L854.5 846.8L859.3 847.5L864 846.2L868.8 847.1L873.6 845.7L878.4 846.9L883.2 845.5L888 846.9L892.8 845.6L897.6 846.9L902.3 845.8L907.1 847L911.9 846.1L916.7 847.1L921.5 846.5L926.3 847.4L931.1 846.8L935.9 847.9L940.7 847.2L945.4 848.6L950.2 847.7L955 849.4L959.8 848.4L964.6 850.3L969.4 849.4L974.2 851.3L979 850.7L983.8 852.5L988.5 852.1L993.3 853.8L998.1 853.5L1002.9 855.1L1007.7 855.1L1012.5 856.8L1017.3 856.8L1022.1 858.7L1026.8 858.5L1031.6 860.6L1036.4 860.3L1041.2 862.7L1046 862.3L1050.8 864.8L1055.6 864.6L1060.4 867.2L1065.2 867.6L1069.9 870.4L1074.7 871.3L1079.5 874.1L1084.3 875.2L1089.1 878L1093.9 879.3L1098.7 882.2L1103.5 883.4L1108.3 886.7L1113 887.7L1117.8 891.3L1122.6 892.3L1127.4 896L1132.2 897L1137 900.7L1141.8 901.7L1146.6 905.3L1151.3 906.7L1156.1 910.3L1160.9 912.1L1165.7 915.8L1170.5 918L1175.3 922L1180.1 924.5L1184.9 928.9L1189.7 931.5L1194.4 936.3L1199.2 938.7L1204 943.7L1208.8 946L1213.6 951.3L1218.4 953.9L1223.2 958.9L1228 961.3L1232.7 965.6L1237.5 967.6L1242.3 971.2L1247.1 973.2L1251.9 976.9L1256.7 979L1261.5 982.7L1266.3 984.7L1271.1 988.8L1275.8 990.8L1280.6 995.4L1285.4 997.3L1290.2 1002L1295 1004L1299.8 1008.8L1304.6 1011L1309.4 1015.8L1314.2 1018.5L1318.9 1023.2L1323.7 1026L1328.5 1030.5L1333.3 1033.3L1338.1 1037.7L1342.9 1040.2L1347.7 1044.6L1352.5 1046.9L1357.2 1051.3L1362 1053.3L1366.8 1057.9L1371.6 1059.7L1376.4 1064.3L1381.2 1066.1L1386 1070.5L1390.8 1072.4L1395.6 1076.5L1400.3 1078.6L1405.1 1082.4L1409.9 1084.6L1414.7 1088.2L1419.5 1090.1L1424.3 1093.7L1429.1 1095.3L1433.9 1098.9L1438.7 1100.1L1443.4 1103.8L1448.2 1104.8L1453 1108.5L1457.8 1109.4L1462.6 1113L1467.4 1114L1472.2 1117.4L1477 1118.6L1481.7 1121.7L1486.5 1122.9L1491.3 1125.9L1496.1 1127.2L1500.9 1130L1505.7 1131.3L1510.5 1134.3L1515.3 1135.3L1520.1 1138.5L1524.8 1139.2L1529.6 1142.4L1534.4 1142.8L1539.2 1145.9L1544 1146.2L1548.8 1149.2L1553.6 1149.6L1558.4 1152.3L1563.1 1152.9L1567.9 1155.4L1572.7 1156.1L1577.5 1158.4L1582.3 1159.1L1587.1 1161.5L1591.9 1162L1596.7 1164.6L1601.5 1164.9L1606.2 1167.6L1611 1167.7L1615.8 1170.5L1620.6 1170.5L1625.4 1173.3L1630.2 1173.4L1635 1175.9L1639.8 1176.3L1644.6 1178.6L1649.3 1179.1L1654.1 1181.2L1658.9 1181.8L1663.7 1184L1668.5 1184.5L1673.3 1186.9L1678.1 1187.2L1682.9 1189.7L1687.6 1189.8L1692.4 1192.4L1697.2 1192.3L1702 1194.9L1706.8 1194.8L1711.6 1197.1L1716.4 1197L1721.2 1199.1L1726 1199.1L1730.7 1200.9L1735.5 1201L1740.3 1202.6L1745.1 1202.7L1749.9 1204.4L1754.7 1204.2L1759.5 1206.2L1764.3 1205.8L1769 1208L1773.8 1207.6L1778.6 1209.9L1783.4 1209.5L1788.2 1211.9L1793 1211.6L1797.8 1213.9L1802.6 1213.9L1807.4 1215.9L1812.1 1216.1L1816.9 1218L1821.7 1218.4L1826.5 1220.3L1831.3 1220.5L1836.1 1222.6L1840.9 1222.7L1845.7 1225L1850.5 1224.9L1855.2 1227.3L1860 1227.1L1864.8 1229.6L1869.6 1229.5L1874.4 1231.9L1879.2 1231.9L1884 1234.1L1888.8 1234.4L1893.5 1236.5L1898.3 1236.9L1903.1 1238.9L1907.9 1239.3L1912.7 1241.4L1917.5 1241.7L1922.3 1244.1L1927.1 1244.1L1931.9 1246.7L1936.6 1246.6L1941.4 1249.3L1946.2 1249.3L1951 1251.9L1955.8 1252L1960.6 1254.5L1965.4 1254.9L1970.2 1257.2L1975 1257.8L1979.7 1260.1L1984.5 1260.8L1989.3 1263.1L1994.1 1263.7L1998.9 1266.2L2003.7 1266.7L2008.5 1269.5L2013.3 1269.8L2018 1272.8L2022.8 1273.1L2027.6 1276.1L2032.4 1276.5L2037.2 1279.4"/>
<path d="M241.6 778.3L246.3 779.8L251.1 779.2L255.9 781.3L260.7 780.7L265.5 782.8L270.3 782.3L275.1 784.2L279.9 783.9L284.6 785.7L289.4 785.6L294.2 787.1L299 787.1L303.8 788.7L308.6 788.6L313.4 790.3L318.2 790L323 791.9L327.7 791.4L332.5 793.5L337.3 793L342.1 795.2L346.9 794.8L351.7 797L356.5 796.9L361.3 799L366 799.2L370.8 801.2L375.6 801.6L380.4 803.7L385.2 804.1L390 806.3L394.8 806.6L399.6 809L404.4 809.1L409.1 811.8L413.9 811.9L418.7 814.7L423.5 814.8L428.3 817.6L433.1 817.8L437.9 820.5L442.7 820.9L447.5 823.3L452.2 823.8L457 826L461.8 826.6L466.6 828.9L471.4 829.3L476.2 831.6L481 831.8L485.8 834.1L490.5 833.8L495.3 836.1L500.1 835.7L504.9 837.9L509.7 837.4L514.5 839.4L519.3 838.8L524.1 840.3L528.9 839.8L533.6 841.1L538.4 840.6L543.2 841.7L548 841.2L552.8 842.5L557.6 841.8L562.4 843.2L567.2 842.3L571.9 843.9L576.7 842.8L581.5 844.4L586.3 843.2L591.1 844.7L595.9 843.6L600.7 844.9L605.5 843.9L610.3 844.9L615 844.1L619.8 844.9L624.6 844.1L629.4 844.9L634.2 844L639 845L643.8 843.9L648.6 845.1L653.4 843.8L658.1 845.2L662.9 843.8L667.7 845.1L672.5 843.7L677.3 844.8L682.1 843.4L686.9 844.2L691.7 843.1L696.4 843.7L701.2 842.6L706 842.9L710.8 841.6L715.6 842L720.4 840.5L725.2 841.1L730 839.6L734.8 840.7L739.5 839.1L744.3 840.3L749.1 838.8L753.9 840L758.7 838.6L763.5 839.6L768.3 838.5L773.1 839.3L777.9 838.2L782.6 838.9L787.4 837.9L792.2 838.5L797 837.4L801.8 838.1L806.6 836.8L811.4 837.7L816.2 836.2L820.9 837.3L825.7 835.6L830.5 836.8L835.3 835.2L840.1 836.1L844.9 834.7L849.7 835.3L854.5 834.1L859.3 834.6L864 833.5L868.8 834L873.6 832.9L878.4 833.6L883.2 832.5L888 833.6L892.8 832.3L897.6 833.6L902.3 832.2L907.1 833.5L911.9 832.1L916.7 833.4L921.5 832.2L926.3 833.3L931.1 832.4L935.9 833.5L940.7 832.9L945.4 834L950.2 833.5L955 834.7L959.8 834.1L964.6 835.5L969.4 834.8L974.2 836.4L979 835.6L983.8 837.5L988.5 836.7L993.3 838.7L998.1 838.1L1002.9 840.2L1007.7 840L1012.5 842L1017.3 842.1L1022.1 844.1L1026.8 844.4L1031.6 846.3L1036.4 846.7L1041.2 848.9L1046 849.2L1050.8 851.7L1055.6 851.9L1060.4 854.7L1065.2 854.9L1069.9 857.9L1074.7 858.3L1079.5 861.4L1084.3 862.1L1089.1 865.1L1093.9 866L1098.7 868.9L1103.5 870.1L1108.3 873L1113 874.4L1117.8 877.4L1122.6 878.8L1127.4 882L1132.2 883.3L1137 887L1141.8 888.3L1146.6 892.2L1151.3 893.5L1156.1 897.6L1160.9 899.2L1165.7 903.4L1170.5 905.4L1175.3 909.8L1180.1 912.3L1184.9 916.6L1189.7 919.4L1194.4 923.9L1199.2 926.8L1204 931.4L1208.8 934.2L1213.6 939.2L1218.4 942L1223.2 947.1L1228 949.4L1232.7 954.3L1237.5 956.1L1242.3 960.6L1247.1 962.5L1251.9 966.8L1256.7 969.1L1261.5 973.3L1266.3 975.7L1271.1 979.8L1275.8 982.5L1280.6 986.8L1285.4 989.3L1290.2 993.8L1295 996.3L1299.8 1001.2L1304.6 1003.6L1309.4 1008.8L1314.2 1011.4L1318.9 1016.8L1323.7 1019.4L1328.5 1024.6L1333.3 1027.3L1338.1 1032L1342.9 1034.7L1347.7 1039.1L1352.5 1041.8L1357.2 1046.1L1362 1048.7L1366.8 1053L1371.6 1055.3L1376.4 1059.8L1381.2 1061.8L1386 1066.4L1390.8 1068.3L1395.6 1072.9L1400.3 1074.7L1405.1 1079.2L1409.9 1081.1L1414.7 1085.2L1419.5 1087.1L1424.3 1090.8L1429.1 1092.7L1433.9 1096.1L1438.7 1097.9L1443.4 1101.3L1448.2 1102.9L1453 1106.3L1457.8 1107.6L1462.6 1111.2L1467.4 1112.3L1472.2 1115.9L1477 1116.8L1481.7 1120.4L1486.5 1121.2L1491.3 1124.6L1496.1 1125.6L1500.9 1128.8L1505.7 1130L1510.5 1133L1515.3 1134.4L1520.1 1137.3L1524.8 1138.5L1529.6 1141.3L1534.4 1142.2L1539.2 1145.1L1544 1145.6L1548.8 1148.6L1553.6 1148.9L1558.4 1151.9L1563.1 1152.1L1567.9 1155L1572.7 1155.4L1577.5 1158L1582.3 1158.5L1587.1 1161L1591.9 1161.7L1596.7 1164L1601.5 1164.7L1606.2 1167L1611 1167.5L1615.8 1170L1620.6 1170.3L1625.4 1172.9L1630.2 1173L1635 1175.8L1639.8 1175.8L1644.6 1178.5L1649.3 1178.6L1654.1 1181.2L1658.9 1181.4L1663.7 1183.8L1668.5 1184.3L1673.3 1186.5L1678.1 1187.1L1682.9 1189.3L1687.6 1189.8L1692.4 1192L1697.2 1192.2L1702 1194.6L1706.8 1194.5L1711.6 1197L1716.4 1196.7L1721.2 1199.1L1726 1198.7L1730.7 1200.9L1735.5 1200.6L1740.3 1202.6L1745.1 1202.4L1749.9 1204.2L1754.7 1204.2L1759.5 1205.9L1764.3 1205.9L1769 1207.6L1773.8 1207.7L1778.6 1209.6L1783.4 1209.5L1788.2 1211.7L1793 1211.4L1797.8 1213.8L1802.6 1213.5L1807.4 1215.9L1812.1 1215.7L1816.9 1218L1821.7 1218L1826.5 1220.1L1831.3 1220.3L1836.1 1222.2L1840.9 1222.5L1845.7 1224.5L1850.5 1224.7L1855.2 1226.8L1860 1226.9L1864.8 1229.2L1869.6 1229.1L1874.4 1231.6L1879.2 1231.4L1884 1234L1888.8 1233.8L1893.5 1236.3L1898.3 1236.3L1903.1 1238.6L1907.9 1238.9L1912.7 1241L1917.5 1241.4L1922.3 1243.5L1927.1 1243.9L1931.9 1246L1936.6 1246.4L1941.4 1248.7L1946.2 1248.8L1951 1251.4L1955.8 1251.4L1960.6 1254.1L1965.4 1254.1L1970.2 1256.9L1975 1257L1979.7 1259.6L1984.5 1260L1989.3 1262.5L1994.1 1263.1L1998.9 1265.5L2003.7 1266.2L2008.5 1268.6L2013.3 1269.4L2018 1271.9L2022.8 1272.5L2027.6 1275.3L2032.4 1275.7L2037.2 1278.8"/>
<path d="M241.6 770.8L246.3 772L251.1 771.9L255.9 773.8L260.7 773.6L265.5 775.7L270.3 775.2L275.1 777.4L279.9 776.8L284.6 779L289.4 778.5L294.2 780.5L299 780.2L303.8 781.9L308.6 781.7L313.4 783.2L318.2 783.1L323 784.6L327.7 784.4L332.5 786L337.3 785.7L342.1 787.6L346.9 787.2L351.7 789.4L356.5 788.9L361.3 791.3L366 791L370.8 793.4L375.6 793.4L380.4 795.7L385.2 795.8L390 798L394.8 798.3L399.6 800.3L404.4 800.7L409.1 802.8L413.9 803.2L418.7 805.5L423.5 805.6L428.3 808.2L433.1 808.2L437.9 810.8L442.7 810.7L447.5 813.4L452.2 813.3L457 815.8L461.8 815.9L466.6 818.2L471.4 818.5L476.2 820.5L481 820.9L485.8 822.7L490.5 823L495.3 825L500.1 825L504.9 827.2L509.7 826.9L514.5 829.1L519.3 828.4L524.1 830.4L528.9 829.6L533.6 831.4L538.4 830.6L543.2 832.1L548 831.5L552.8 832.7L557.6 832.2L562.4 833.3L567.2 832.7L571.9 833.8L576.7 833.1L581.5 834.3L586.3 833.4L591.1 834.8L595.9 833.6L600.7 835.1L605.5 833.8L610.3 835.2L615 833.9L619.8 835.1L624.6 834L629.4 834.9L634.2 833.9L639 834.7L643.8 833.8L648.6 834.5L653.4 833.5L658.1 834.3L662.9 833.2L667.7 834.1L672.5 832.6L677.3 833.7L682.1 832L686.9 833L691.7 831.3L696.4 832.3L701.2 830.8L706 831.5L710.8 830.2L715.6 830.7L720.4 829.5L725.2 829.9L730 828.8L734.8 829.3L739.5 828L744.3 828.7L749.1 827.3L753.9 828.2L758.7 826.5L763.5 827.6L768.3 825.9L773.1 827L777.9 825.3L782.6 826.2L787.4 824.8L792.2 825.5L797 824.3L801.8 824.8L806.6 823.7L811.4 824.1L816.2 823L820.9 823.6L825.7 822.2L830.5 823.1L835.3 821.5L840.1 822.5L844.9 820.8L849.7 821.8L854.5 820.1L859.3 821L864 819.5L868.8 820.3L873.6 819L878.4 819.6L883.2 818.5L888 819.1L892.8 818L897.6 818.7L902.3 817.5L907.1 818.3L911.9 817L916.7 818.1L921.5 816.7L926.3 818.1L931.1 816.8L935.9 818.4L940.7 817.3L945.4 818.8L950.2 818L955 819.3L959.8 818.8L964.6 820.1L969.4 819.8L974.2 821.2L979 820.9L983.8 822.6L988.5 822.2L993.3 824.1L998.1 823.7L1002.9 825.9L1007.7 825.4L1012.5 827.8L1017.3 827.4L1022.1 829.8L1026.8 829.7L1031.6 831.9L1036.4 832.1L1041.2 834.3L1046 834.8L1050.8 836.9L1055.6 837.6L1060.4 839.9L1065.2 840.6L1069.9 843.4L1074.7 844.1L1079.5 847.3L1084.3 848L1089.1 851.4L1093.9 852.2L1098.7 855.7L1103.5 856.6L1108.3 860.2L1113 861.5L1117.8 864.9L1122.6 866.5L1127.4 869.9L1132.2 871.7L1137 875.2L1141.8 877.1L1146.6 880.9L1151.3 882.7L1156.1 886.8L1160.9 888.6L1165.7 893L1170.5 894.9L1175.3 899.5L1180.1 901.6L1184.9 906.3L1189.7 908.6L1194.4 913.3L1199.2 916L1204 920.6L1208.8 923.5L1213.6 928.2L1218.4 931.3L1223.2 936L1228 938.8L1232.7 943.4L1237.5 945.7L1242.3 950.3L1247.1 952.4L1251.9 957.2L1256.7 959.3L1261.5 964.2L1266.3 966.5L1271.1 971.3L1275.8 973.8L1280.6 978.4L1285.4 981.2L1290.2 985.7L1295 988.7L1299.8 993.4L1304.6 996.5L1309.4 1001.5L1314.2 1004.7L1318.9 1010L1323.7 1013L1328.5 1018.5L1333.3 1021.2L1338.1 1026.5L1342.9 1028.9L1347.7 1033.9L1352.5 1036.4L1357.2 1041.2L1362 1043.8L1366.8 1048.2L1371.6 1050.9L1376.4 1055.1L1381.2 1057.8L1386 1062.1L1390.8 1064.6L1395.6 1069L1400.3 1071.2L1405.1 1075.8L1409.9 1077.7L1414.7 1082.2L1419.5 1083.9L1424.3 1088.2L1429.1 1089.8L1433.9 1093.8L1438.7 1095.4L1443.4 1099.1L1448.2 1100.8L1453 1104.2L1457.8 1105.9L1462.6 1109.2L1467.4 1110.8L1472.2 1114.1L1477 1115.3L1481.7 1118.7L1486.5 1119.7L1491.3 1123.2L1496.1 1124.1L1500.9 1127.7L1505.7 1128.6L1510.5 1132.1L1515.3 1133.2L1520.1 1136.5L1524.8 1137.6L1529.6 1140.5L1534.4 1141.5L1539.2 1144.2L1544 1145.1L1548.8 1147.7L1553.6 1148.5L1558.4 1151.2L1563.1 1151.6L1567.9 1154.5L1572.7 1154.7L1577.5 1157.7L1582.3 1157.8L1587.1 1160.7L1591.9 1161L1596.7 1163.7L1601.5 1164.1L1606.2 1166.6L1611 1167.2L1615.8 1169.5L1620.6 1170.1L1625.4 1172.4L1630.2 1172.9L1635 1175.3L1639.8 1175.7L1644.6 1178.2L1649.3 1178.3L1654.1 1181L1658.9 1181L1663.7 1183.8L1668.5 1183.9L1673.3 1186.5L1678.1 1186.7L1682.9 1189.1L1687.6 1189.5L1692.4 1191.7L1697.2 1192.1L1702 1194.2L1706.8 1194.5L1711.6 1196.5L1716.4 1196.7L1721.2 1198.7L1726 1198.5L1730.7 1200.7L1735.5 1200.3L1740.3 1202.6L1745.1 1202L1749.9 1204.3L1754.7 1203.8L1759.5 1205.9L1764.3 1205.7L1769 1207.5L1773.8 1207.6L1778.6 1209.3L1783.4 1209.5L1788.2 1211.3L1793 1211.5L1797.8 1213.5L1802.6 1213.4L1807.4 1215.7L1812.1 1215.4L1816.9 1217.9L1821.7 1217.5L1826.5 1220L1831.3 1219.8L1836.1 1222.1L1840.9 1222.1L1845.7 1224.2L1850.5 1224.4L1855.2 1226.4L1860 1226.7L1864.8 1228.7L1869.6 1229L1874.4 1231L1879.2 1231.3L1884 1233.5L1888.8 1233.5L1893.5 1236L1898.3 1235.8L1903.1 1238.4L1907.9 1238.3L1912.7 1240.8L1917.5 1240.8L1922.3 1243.2L1927.1 1243.4L1931.9 1245.6L1936.6 1246L1941.4 1248L1946.2 1248.5L1951 1250.6L1955.8 1251.1L1960.6 1253.4L1965.4 1253.7L1970.2 1256.2L1975 1256.3L1979.7 1259.1L1984.5 1259.2L1989.3 1262L1994.1 1262.2L1998.9 1265L2003.7 1265.4L2008.5 1268L2013.3 1268.6L2018 1271.1L2022.8 1271.9L2027.6 1274.4L2032.4 1275.2L2037.2 1277.8"/>
<path d="M241.6 760.9L246.3 761.9L251.1 762.8L255.9 763.8L260.7 764.7L265.5 765.7L270.3 766.6L275.1 767.5L279.9 768.5L284.6 768.5L289.4 769.4L294.2 770.4L299 771.3L303.8 772.3L308.6 773.2L313.4 773.2L318.2 774.2L323 775.1L327.7 775.1L332.5 776.1L337.3 777L342.1 777.9L346.9 778.9L351.7 778.9L356.5 779.8L361.3 780.8L366 781.7L370.8 782.7L375.6 784.6L380.4 785.5L385.2 786.4L390 787.4L394.8 788.3L399.6 789.3L404.4 791.2L409.1 792.1L413.9 793.1L418.7 795L423.5 795.9L428.3 796.8L433.1 798.7L437.9 799.7L442.7 801.6L447.5 802.5L452.2 803.5L457 805.3L461.8 806.3L466.6 807.2L471.4 809.1L476.2 810.1L481 811L485.8 812L490.5 812.9L495.3 813.9L500.1 814.8L504.9 816.7L509.7 816.7L514.5 817.6L519.3 818.6L524.1 819.5L528.9 819.5L533.6 820.5L538.4 820.5L543.2 820.5L548 820.5L552.8 820.5L557.6 820.5L562.4 820.5L567.2 821.4L571.9 821.4L576.7 821.4L581.5 821.4L586.3 821.4L591.1 821.4L595.9 821.4L600.7 821.4L605.5 821.4L610.3 821.4L615 821.4L619.8 821.4L624.6 821.4L629.4 821.4L634.2 821.4L639 821.4L643.8 821.4L648.6 821.4L653.4 821.4L658.1 821.4L662.9 821.4L667.7 821.4L672.5 820.5L677.3 820.5L682.1 820.5L686.9 820.5L691.7 819.5L696.4 819.5L701.2 818.6L706 818.6L710.8 817.6L715.6 817.6L720.4 816.7L725.2 815.7L730 815.7L734.8 814.8L739.5 814.8L744.3 814.8L749.1 813.9L753.9 813.9L758.7 813.9L763.5 813.9L768.3 812.9L773.1 812.9L777.9 812.9L782.6 812.9L787.4 812L792.2 812L797 811L801.8 811L806.6 811L811.4 810.1L816.2 810.1L820.9 809.1L825.7 809.1L830.5 809.1L835.3 808.2L840.1 808.2L844.9 807.2L849.7 807.2L854.5 806.3L859.3 806.3L864 806.3L868.8 805.3L873.6 805.3L878.4 805.3L883.2 804.4L888 804.4L892.8 804.4L897.6 804.4L902.3 804.4L907.1 804.4L911.9 804.4L916.7 804.4L921.5 804.4L926.3 804.4L931.1 804.4L935.9 804.4L940.7 804.4L945.4 805.3L950.2 805.3L955 805.3L959.8 806.3L964.6 806.3L969.4 807.2L974.2 807.2L979 808.2L983.8 808.2L988.5 809.1L993.3 810.1L998.1 811L1002.9 811L1007.7 812L1012.5 813.9L1017.3 814.8L1022.1 815.7L1026.8 816.7L1031.6 817.6L1036.4 818.6L1041.2 820.5L1046 821.4L1050.8 823.3L1055.6 824.2L1060.4 826.1L1065.2 827.1L1069.9 829L1074.7 831.8L1079.5 833.7L1084.3 835.6L1089.1 837.5L1093.9 840.3L1098.7 842.2L1103.5 844.1L1108.3 846.9L1113 848.8L1117.8 851.7L1122.6 853.5L1127.4 856.4L1132.2 859.2L1137 862.1L1141.8 865.8L1146.6 868.7L1151.3 872.4L1156.1 876.2L1160.9 879.1L1165.7 882.8L1170.5 886.6L1175.3 889.5L1180.1 893.2L1184.9 897L1189.7 900.8L1194.4 904.6L1199.2 907.4L1204 911.2L1208.8 915.9L1213.6 919.7L1218.4 923.5L1223.2 927.3L1228 931L1232.7 934.8L1237.5 938.6L1242.3 941.4L1247.1 945.2L1251.9 949L1256.7 952.8L1261.5 956.6L1266.3 960.3L1271.1 964.1L1275.8 967.9L1280.6 971.7L1285.4 975.5L1290.2 979.2L1295 983L1299.8 986.8L1304.6 991.5L1309.4 995.3L1314.2 1000L1318.9 1004.8L1323.7 1008.5L1328.5 1013.3L1333.3 1017L1338.1 1021.8L1342.9 1025.5L1347.7 1029.3L1352.5 1033.1L1357.2 1036.9L1362 1040.7L1366.8 1044.4L1371.6 1048.2L1376.4 1051.1L1381.2 1054.8L1386 1058.6L1390.8 1062.4L1395.6 1065.2L1400.3 1069L1405.1 1072.8L1409.9 1075.6L1414.7 1079.4L1419.5 1082.2L1424.3 1085.1L1429.1 1087.9L1433.9 1091.7L1438.7 1094.5L1443.4 1097.4L1448.2 1099.3L1453 1102.1L1457.8 1104.9L1462.6 1107.8L1467.4 1109.7L1472.2 1112.5L1477 1114.4L1481.7 1117.2L1486.5 1119.1L1491.3 1121.9L1496.1 1123.8L1500.9 1125.7L1505.7 1128.6L1510.5 1130.4L1515.3 1133.3L1520.1 1135.2L1524.8 1137.1L1529.6 1139.9L1534.4 1141.8L1539.2 1143.7L1544 1144.6L1548.8 1146.5L1553.6 1148.4L1558.4 1150.3L1563.1 1152.2L1567.9 1153.1L1572.7 1155L1577.5 1156.9L1582.3 1157.8L1587.1 1159.7L1591.9 1161.6L1596.7 1162.6L1601.5 1164.5L1606.2 1165.4L1611 1167.3L1615.8 1169.2L1620.6 1170.1L1625.4 1172L1630.2 1173L1635 1174.9L1639.8 1175.8L1644.6 1177.7L1649.3 1178.6L1654.1 1180.5L1658.9 1181.5L1663.7 1183.4L1668.5 1184.3L1673.3 1186.2L1678.1 1187.1L1682.9 1188.1L1687.6 1190L1692.4 1190.9L1697.2 1192.8L1702 1193.8L1706.8 1194.7L1711.6 1195.7L1716.4 1196.6L1721.2 1197.5L1726 1199.4L1730.7 1200.4L1735.5 1200.4L1740.3 1201.3L1745.1 1202.3L1749.9 1203.2L1754.7 1204.2L1759.5 1205.1L1764.3 1206L1769 1207L1773.8 1207.9L1778.6 1208.9L1783.4 1209.8L1788.2 1210.8L1793 1211.7L1797.8 1212.7L1802.6 1213.6L1807.4 1214.6L1812.1 1215.5L1816.9 1217.4L1821.7 1218.3L1826.5 1219.3L1831.3 1220.2L1836.1 1221.2L1840.9 1222.1L1845.7 1223.1L1850.5 1224.9L1855.2 1225.9L1860 1226.8L1864.8 1227.8L1869.6 1228.7L1874.4 1230.6L1879.2 1231.6L1884 1232.5L1888.8 1233.5L1893.5 1235.3L1898.3 1236.3L1903.1 1237.2L1907.9 1239.1L1912.7 1240.1L1917.5 1241L1922.3 1242L1927.1 1243.8L1931.9 1244.8L1936.6 1245.7L1941.4 1247.6L1946.2 1248.6L1951 1249.5L1955.8 1251.4L1960.6 1252.4L1965.4 1254.2L1970.2 1255.2L1975 1256.1L1979.7 1258L1984.5 1259L1989.3 1260.9L1994.1 1262.7L1998.9 1263.7L2003.7 1265.6L2008.5 1266.5L2013.3 1268.4L2018 1270.3L2022.8 1272.2L2027.6 1273.1L2032.4 1275L2037.2 1276.9"/>
<path d="M241.6 754.3L246.3 754.3L251.1 755.3L255.9 755.3L260.7 756.2L265.5 757.2L270.3 758.1L275.1 758.1L279.9 759L284.6 760L289.4 760.9L294.2 760.9L299 761.9L303.8 762.8L308.6 763.8L313.4 763.8L318.2 764.7L323 765.7L327.7 765.7L332.5 766.6L337.3 767.5L342.1 768.5L346.9 769.4L351.7 769.4L356.5 770.4L361.3 771.3L366 772.3L370.8 773.2L375.6 774.2L380.4 775.1L385.2 776.1L390 777L394.8 777.9L399.6 779.8L404.4 780.8L409.1 781.7L413.9 782.7L418.7 784.6L423.5 785.5L428.3 787.4L433.1 788.3L437.9 789.3L442.7 791.2L447.5 792.1L452.2 793.1L457 795L461.8 795.9L466.6 797.8L471.4 798.7L476.2 799.7L481 800.6L485.8 801.6L490.5 802.5L495.3 803.5L500.1 804.4L504.9 805.3L509.7 805.3L514.5 806.3L519.3 807.2L524.1 807.2L528.9 808.2L533.6 808.2L538.4 809.1L543.2 809.1L548 809.1L552.8 809.1L557.6 809.1L562.4 809.1L567.2 809.1L571.9 809.1L576.7 810.1L581.5 810.1L586.3 810.1L591.1 810.1L595.9 810.1L600.7 810.1L605.5 810.1L610.3 810.1L615 810.1L619.8 810.1L624.6 810.1L629.4 810.1L634.2 809.1L639 809.1L643.8 809.1L648.6 809.1L653.4 809.1L658.1 809.1L662.9 808.2L667.7 808.2L672.5 808.2L677.3 808.2L682.1 807.2L686.9 807.2L691.7 807.2L696.4 806.3L701.2 806.3L706 805.3L710.8 804.4L715.6 803.5L720.4 802.5L725.2 802.5L730 801.6L734.8 800.6L739.5 800.6L744.3 799.7L749.1 799.7L753.9 798.7L758.7 798.7L763.5 798.7L768.3 797.8L773.1 797.8L777.9 796.8L782.6 796.8L787.4 795.9L792.2 795.9L797 795L801.8 795L806.6 795L811.4 794L816.2 794L820.9 793.1L825.7 793.1L830.5 793.1L835.3 792.1L840.1 792.1L844.9 791.2L849.7 791.2L854.5 790.2L859.3 790.2L864 789.3L868.8 789.3L873.6 788.3L878.4 788.3L883.2 788.3L888 788.3L892.8 787.4L897.6 787.4L902.3 787.4L907.1 787.4L911.9 787.4L916.7 787.4L921.5 787.4L926.3 787.4L931.1 787.4L935.9 787.4L940.7 787.4L945.4 787.4L950.2 788.3L955 788.3L959.8 788.3L964.6 789.3L969.4 789.3L974.2 790.2L979 790.2L983.8 791.2L988.5 792.1L993.3 793.1L998.1 793.1L1002.9 794L1007.7 795L1012.5 795.9L1017.3 796.8L1022.1 797.8L1026.8 798.7L1031.6 799.7L1036.4 801.6L1041.2 802.5L1046 804.4L1050.8 806.3L1055.6 808.2L1060.4 810.1L1065.2 812L1069.9 813.9L1074.7 815.7L1079.5 818.6L1084.3 820.5L1089.1 823.3L1093.9 825.2L1098.7 828L1103.5 830.9L1108.3 832.8L1113 835.6L1117.8 838.4L1122.6 841.3L1127.4 844.1L1132.2 846.9L1137 849.8L1141.8 852.6L1146.6 856.4L1151.3 859.2L1156.1 863L1160.9 866.8L1165.7 870.6L1170.5 873.4L1175.3 878.1L1180.1 881.9L1184.9 885.7L1189.7 889.5L1194.4 893.2L1199.2 898L1204 901.7L1208.8 905.5L1213.6 909.3L1218.4 913.1L1223.2 916.9L1228 920.6L1232.7 924.4L1237.5 928.2L1242.3 932L1247.1 935.8L1251.9 939.5L1256.7 943.3L1261.5 947.1L1266.3 950.9L1271.1 955.6L1275.8 959.4L1280.6 963.2L1285.4 967L1290.2 971.7L1295 975.5L1299.8 979.2L1304.6 984L1309.4 988.7L1314.2 993.4L1318.9 998.1L1323.7 1002.9L1328.5 1006.6L1333.3 1011.4L1338.1 1016.1L1342.9 1019.9L1347.7 1023.7L1352.5 1027.4L1357.2 1032.2L1362 1035.9L1366.8 1039.7L1371.6 1043.5L1376.4 1047.3L1381.2 1051.1L1386 1054.8L1390.8 1058.6L1395.6 1061.5L1400.3 1065.2L1405.1 1069L1409.9 1072.8L1414.7 1075.6L1419.5 1079.4L1424.3 1082.2L1429.1 1086L1433.9 1088.9L1438.7 1091.7L1443.4 1094.5L1448.2 1097.4L1453 1100.2L1457.8 1103L1462.6 1105.9L1467.4 1108.7L1472.2 1110.6L1477 1113.4L1481.7 1115.3L1486.5 1118.2L1491.3 1120L1496.1 1121.9L1500.9 1124.8L1505.7 1126.7L1510.5 1129.5L1515.3 1132.3L1520.1 1134.2L1524.8 1136.1L1529.6 1138.9L1534.4 1140.8L1539.2 1142.7L1544 1144.6L1548.8 1146.5L1553.6 1147.5L1558.4 1149.3L1563.1 1151.2L1567.9 1153.1L1572.7 1154.1L1577.5 1156L1582.3 1157.8L1587.1 1158.8L1591.9 1160.7L1596.7 1162.6L1601.5 1163.5L1606.2 1165.4L1611 1167.3L1615.8 1168.2L1620.6 1170.1L1625.4 1171.1L1630.2 1173L1635 1173.9L1639.8 1175.8L1644.6 1176.7L1649.3 1178.6L1654.1 1179.6L1658.9 1181.5L1663.7 1182.4L1668.5 1184.3L1673.3 1185.3L1678.1 1187.1L1682.9 1188.1L1687.6 1190L1692.4 1190.9L1697.2 1191.9L1702 1193.8L1706.8 1194.7L1711.6 1195.7L1716.4 1196.6L1721.2 1197.5L1726 1198.5L1730.7 1199.4L1735.5 1200.4L1740.3 1201.3L1745.1 1202.3L1749.9 1203.2L1754.7 1204.2L1759.5 1205.1L1764.3 1206L1769 1207L1773.8 1207.9L1778.6 1208.9L1783.4 1209.8L1788.2 1210.8L1793 1211.7L1797.8 1212.7L1802.6 1213.6L1807.4 1214.6L1812.1 1215.5L1816.9 1216.4L1821.7 1217.4L1826.5 1219.3L1831.3 1220.2L1836.1 1221.2L1840.9 1222.1L1845.7 1223.1L1850.5 1224L1855.2 1224.9L1860 1226.8L1864.8 1227.8L1869.6 1228.7L1874.4 1229.7L1879.2 1231.6L1884 1232.5L1888.8 1233.5L1893.5 1234.4L1898.3 1236.3L1903.1 1237.2L1907.9 1238.2L1912.7 1239.1L1917.5 1241L1922.3 1242L1927.1 1242.9L1931.9 1244.8L1936.6 1245.7L1941.4 1246.7L1946.2 1247.6L1951 1249.5L1955.8 1250.5L1960.6 1252.4L1965.4 1253.3L1970.2 1254.2L1975 1256.1L1979.7 1257.1L1984.5 1259L1989.3 1259.9L1994.1 1261.8L1998.9 1262.7L2003.7 1264.6L2008.5 1266.5L2013.3 1267.5L2018 1269.4L2022.8 1271.3L2027.6 1273.1L2032.4 1274.1L2037.2 1276"/>
<path d="M241.6 665.6L246.3 667L251.1 666.5L255.9 668L260.7 667.5L265.5 668.9L270.3 668.5L275.1 669.9L279.9 669.6L284.6 670.8L289.4 670.8L294.2 671.9L299 671.9L303.8 673L308.6 672.9L313.4 674.2L318.2 674L323 675.4L327.7 675L332.5 676.6L337.3 676.2L342.1 677.8L346.9 677.5L351.7 679.1L356.5 679L361.3 680.6L366 680.8L370.8 682.3L375.6 682.6L380.4 684.1L385.2 684.5L390 686.1L394.8 686.4L399.6 688.2L404.4 688.3L409.1 690.3L413.9 690.5L418.7 692.6L423.5 692.8L428.3 694.9L433.1 695.1L437.9 697L442.7 697.3L447.5 698.9L452.2 699.2L457 700.6L461.8 700.8L466.6 702.2L471.4 702.3L476.2 703.7L481 703.6L485.8 705L490.5 704.6L495.3 706.1L500.1 705.5L504.9 706.9L509.7 706.3L514.5 707.4L519.3 706.7L524.1 707.7L528.9 707.1L533.6 707.8L538.4 707.2L543.2 707.7L548 707L552.8 707.5L557.6 706.7L562.4 707.3L567.2 706.2L571.9 706.8L576.7 705.5L581.5 706.1L586.3 704.7L591.1 705.2L595.9 703.9L600.7 704.3L605.5 703L610.3 703.2L615 702.1L619.8 702.1L624.6 701L629.4 701.1L634.2 699.9L639 700L643.8 698.6L648.6 698.9L653.4 697.4L658.1 697.8L662.9 696.2L667.7 696.7L672.5 695.1L677.3 695.4L682.1 693.9L686.9 694L691.7 692.6L696.4 692.5L701.2 691.2L706 690.9L710.8 689.4L715.6 689L720.4 687.2L725.2 686.9L730 685L734.8 684.8L739.5 682.8L744.3 682.8L749.1 680.8L753.9 680.9L758.7 679.1L763.5 679.1L768.3 677.5L773.1 677.3L777.9 675.8L782.6 675.6L787.4 674.2L792.2 673.9L797 672.4L801.8 672.2L806.6 670.5L811.4 670.4L816.2 668.6L820.9 668.6L825.7 666.7L830.5 666.8L835.3 665L840.1 665L844.9 663.4L849.7 663.4L854.5 662L859.3 661.9L864 660.6L868.8 660.5L873.6 659.2L878.4 659.2L883.2 657.9L888 658.1L892.8 656.8L897.6 657.3L902.3 655.9L907.1 656.5L911.9 655.1L916.7 655.9L921.5 654.9L926.3 655.6L931.1 654.8L935.9 655.4L940.7 654.8L945.4 655.4L950.2 655L955 655.9L959.8 655.6L964.6 656.8L969.4 656.5L974.2 657.9L979 657.6L983.8 659.3L988.5 659.2L993.3 661.1L998.1 661.2L1002.9 663.4L1007.7 664L1012.5 666.2L1017.3 667.1L1022.1 669.3L1026.8 670.4L1031.6 672.8L1036.4 674.1L1041.2 676.8L1046 678.3L1050.8 681.5L1055.6 683.1L1060.4 686.7L1065.2 688.4L1069.9 692.2L1074.7 694.2L1079.5 698.3L1084.3 700.6L1089.1 704.8L1093.9 707.4L1098.7 711.6L1103.5 714.7L1108.3 719.1L1113 722.4L1117.8 727L1122.6 730.5L1127.4 735.5L1132.2 739.1L1137 744.5L1141.8 748.2L1146.6 753.9L1151.3 758L1156.1 764.5L1160.9 769.1L1165.7 775.2L1170.5 779.3L1175.3 785.2L1180.1 790.1L1184.9 796.3L1189.7 801.6L1194.4 808L1199.2 813.4L1204 820.2L1208.8 825.8L1213.6 832.9L1218.4 838.3L1223.2 845.4L1228 850.2L1232.7 856.9L1237.5 861.6L1242.3 868.2L1247.1 873.2L1251.9 880.1L1256.7 885.6L1261.5 892.6L1266.3 898.3L1271.1 905L1275.8 910.4L1280.6 916.8L1285.4 921.9L1290.2 928.3L1295 933.1L1299.8 939.6L1304.6 944.2L1309.4 950.6L1314.2 955.1L1318.9 961.6L1323.7 966.2L1328.5 972.7L1333.3 977.5L1338.1 983.8L1342.9 988.5L1347.7 994.1L1352.5 998.3L1357.2 1003.5L1362 1007.4L1366.8 1012.6L1371.6 1016.4L1376.4 1021.6L1381.2 1025.2L1386 1030.5L1390.8 1033.8L1395.6 1039.1L1400.3 1042.3L1405.1 1047.3L1409.9 1050.5L1414.7 1055.3L1419.5 1058.5L1424.3 1063.1L1429.1 1066.3L1433.9 1070.7L1438.7 1074L1443.4 1078.4L1448.2 1081.5L1453 1085.7L1457.8 1088.1L1462.6 1091.9L1467.4 1093.8L1472.2 1097.4L1477 1098.9L1481.7 1102.5L1486.5 1104.3L1491.3 1108L1496.1 1110.1L1500.9 1113.8L1505.7 1116.1L1510.5 1119.5L1515.3 1121.7L1520.1 1125L1524.8 1127.1L1529.6 1130.2L1534.4 1131.6L1539.2 1134.5L1544 1135.6L1548.8 1138.5L1553.6 1139.3L1558.4 1142.1L1563.1 1142.9L1567.9 1145.5L1572.7 1146.3L1577.5 1148.8L1582.3 1149.8L1587.1 1152.1L1591.9 1153.2L1596.7 1155.5L1601.5 1156.6L1606.2 1158.9L1611 1160L1615.8 1162.4L1620.6 1163.2L1625.4 1165.7L1630.2 1166.4L1635 1169L1639.8 1169.5L1644.6 1172.1L1649.3 1172.6L1654.1 1175L1658.9 1175.6L1663.7 1177.8L1668.5 1178.5L1673.3 1180.5L1678.1 1181.3L1682.9 1183.3L1687.6 1184L1692.4 1186L1697.2 1186.5L1702 1188.6L1706.8 1189L1711.6 1191.1L1716.4 1191.3L1721.2 1193.5L1726 1193.7L1730.7 1195.7L1735.5 1196L1740.3 1197.8L1745.1 1198.2L1749.9 1199.9L1754.7 1200.4L1759.5 1202L1764.3 1202.4L1769 1204.1L1773.8 1204.5L1778.6 1206.3L1783.4 1206.5L1788.2 1208.5L1793 1208.6L1797.8 1210.6L1802.6 1210.6L1807.4 1212.6L1812.1 1212.7L1816.9 1214.6L1821.7 1214.8L1826.5 1216.6L1831.3 1217.1L1836.1 1218.7L1840.9 1219.3L1845.7 1221L1850.5 1221.6L1855.2 1223.4L1860 1223.9L1864.8 1225.9L1869.6 1226.2L1874.4 1228.4L1879.2 1228.6L1884 1230.8L1888.8 1231.1L1893.5 1233.3L1898.3 1233.7L1903.1 1235.7L1907.9 1236.3L1912.7 1238.1L1917.5 1238.8L1922.3 1240.6L1927.1 1241.3L1931.9 1243.2L1936.6 1243.8L1941.4 1245.8L1946.2 1246.2L1951 1248.4L1955.8 1248.8L1960.6 1251.1L1965.4 1251.5L1970.2 1253.8L1975 1254.3L1979.7 1256.6L1984.5 1257.2L1989.3 1259.4L1994.1 1260.2L1998.9 1262.3L2003.7 1263.3L2008.5 1265.4L2013.3 1266.4L2018 1268.6L2022.8 1269.5L2027.6 1271.9L2032.4 1272.7L2037.2 1275.3"/>
<path d="M241.6 568.2L246.3 569.2L251.1 568.9L255.9 570L260.7 569.6L265.5 570.9L270.3 570.3L275.1 571.7L279.9 571L284.6 572.4L289.4 571.8L294.2 573.1L299 572.7L303.8 573.8L308.6 573.5L313.4 574.5L318.2 574.3L323 575.2L327.7 575L332.5 576L337.3 575.7L342.1 576.9L346.9 576.4L351.7 577.7L356.5 577.1L361.3 578.5L366 578L370.8 579.4L375.6 579L380.4 580.3L385.2 580.2L390 581.5L394.8 581.5L399.6 582.8L404.4 582.9L409.1 584.2L413.9 584.3L418.7 585.6L423.5 585.5L428.3 587L433.1 586.6L437.9 588.2L442.7 587.8L447.5 589.4L452.2 589L457 590.4L461.8 590.2L466.6 591.4L471.4 591.2L476.2 592.2L481 592.1L485.8 593.1L490.5 592.8L495.3 593.7L500.1 593L504.9 593.7L509.7 592.7L514.5 593.4L519.3 592.1L524.1 592.8L528.9 591.5L533.6 592L538.4 590.7L543.2 590.9L548 589.6L552.8 589.7L557.6 588.4L562.4 588.3L567.2 587.1L571.9 587L576.7 585.7L581.5 585.7L586.3 584.1L591.1 584.1L595.9 582.3L600.7 582.4L605.5 580.5L610.3 580.6L615 578.8L619.8 578.7L624.6 577.1L629.4 576.9L634.2 575.4L639 575.1L643.8 573.6L648.6 573.2L653.4 571.6L658.1 571.3L662.9 569.5L667.7 569.2L672.5 567.1L677.3 566.8L682.1 564.4L686.9 564L691.7 561.5L696.4 561L701.2 558.8L706 558.3L710.8 556.3L715.6 555.6L720.4 553.8L725.2 553.1L730 551.3L734.8 550.7L739.5 548.9L744.3 548.5L749.1 546.4L753.9 545.9L758.7 543.5L763.5 543L768.3 540.5L773.1 540.1L777.9 537.8L782.6 537.3L787.4 535.2L792.2 534.6L797 532.6L801.8 531.9L806.6 530L811.4 529.3L816.2 527.4L820.9 526.8L825.7 524.8L830.5 524.3L835.3 522.1L840.1 521.9L844.9 519.7L849.7 519.5L854.5 517.5L859.3 517.3L864 515.4L868.8 515.2L873.6 513.6L878.4 513.3L883.2 511.8L888 511.5L892.8 510.2L897.6 510L902.3 508.6L907.1 508.8L911.9 507.6L916.7 508.2L921.5 507.1L926.3 508L931.1 506.9L935.9 507.9L940.7 507.1L945.4 508.1L950.2 507.8L955 509.1L959.8 509.1L964.6 510.5L969.4 510.8L974.2 512.2L979 512.6L983.8 514.4L988.5 514.9L993.3 517.1L998.1 517.7L1002.9 520.4L1007.7 521.3L1012.5 524.5L1017.3 525.9L1022.1 529.6L1026.8 531.7L1031.6 535.4L1036.4 537.7L1041.2 541.5L1046 544.4L1050.8 548.6L1055.6 551.8L1060.4 556.3L1065.2 559.7L1069.9 564.6L1074.7 568.1L1079.5 573.5L1084.3 577.2L1089.1 583L1093.9 587L1098.7 593L1103.5 597.1L1108.3 603.1L1113 607.5L1117.8 613.6L1122.6 618.5L1127.4 624.9L1132.2 630.4L1137 637.3L1141.8 643L1146.6 650.2L1151.3 655.9L1156.1 663.3L1160.9 669.1L1165.7 676.8L1170.5 682.7L1175.3 690.7L1180.1 696.8L1184.9 704.9L1189.7 711.3L1194.4 719.4L1199.2 726L1204 734L1208.8 741L1213.6 749.2L1218.4 756.5L1223.2 764.8L1228 771.6L1232.7 779.8L1237.5 786.4L1242.3 794.6L1247.1 801.1L1251.9 809.5L1256.7 815.8L1261.5 824.2L1266.3 830.7L1271.1 839L1275.8 845.9L1280.6 854.3L1285.4 861.4L1290.2 869.7L1295 876.7L1299.8 884.7L1304.6 891.4L1309.4 899.3L1314.2 905.6L1318.9 913.5L1323.7 919.5L1328.5 927.3L1333.3 933L1338.1 940.7L1342.9 946.3L1347.7 953.7L1352.5 959.3L1357.2 966.4L1362 971.9L1366.8 978.5L1371.6 983.7L1376.4 989.7L1381.2 994.5L1386 1000.3L1390.8 1004.7L1395.6 1010.3L1400.3 1014.1L1405.1 1019.4L1409.9 1022.8L1414.7 1028L1419.5 1031.2L1424.3 1036.5L1429.1 1039.9L1433.9 1045.3L1438.7 1049.2L1443.4 1054.6L1448.2 1058.5L1453 1063.4L1457.8 1066.8L1462.6 1071.1L1467.4 1073.9L1472.2 1077.8L1477 1080.3L1481.7 1084.3L1486.5 1086.7L1491.3 1091L1496.1 1093.5L1500.9 1097.9L1505.7 1100.3L1510.5 1104.5L1515.3 1106.9L1520.1 1110.8L1524.8 1113.2L1529.6 1116.7L1534.4 1118.7L1539.2 1121.8L1544 1123.7L1548.8 1126.7L1553.6 1128.3L1558.4 1131.3L1563.1 1132.7L1567.9 1135.7L1572.7 1136.9L1577.5 1139.9L1582.3 1141L1587.1 1144L1591.9 1145.1L1596.7 1148L1601.5 1149.2L1606.2 1151.9L1611 1153.3L1615.8 1155.8L1620.6 1157.1L1625.4 1159.6L1630.2 1160.8L1635 1163.3L1639.8 1164.3L1644.6 1166.8L1649.3 1167.6L1654.1 1170.2L1658.9 1170.8L1663.7 1173.3L1668.5 1173.9L1673.3 1176.3L1678.1 1176.9L1682.9 1179.1L1687.6 1179.8L1692.4 1181.8L1697.2 1182.6L1702 1184.5L1706.8 1185.3L1711.6 1187.2L1716.4 1187.9L1721.2 1189.9L1726 1190.4L1730.7 1192.6L1735.5 1192.9L1740.3 1195.1L1745.1 1195.3L1749.9 1197.5L1754.7 1197.8L1759.5 1199.8L1764.3 1200.2L1769 1202.1L1773.8 1202.6L1778.6 1204.4L1783.4 1204.9L1788.2 1206.6L1793 1207.1L1797.8 1208.8L1802.6 1209.1L1807.4 1211L1812.1 1211.1L1816.9 1213.1L1821.7 1213.2L1826.5 1215.2L1831.3 1215.4L1836.1 1217.4L1840.9 1217.7L1845.7 1219.6L1850.5 1220.1L1855.2 1221.9L1860 1222.5L1864.8 1224.3L1869.6 1225L1874.4 1226.8L1879.2 1227.4L1884 1229.4L1888.8 1229.8L1893.5 1232L1898.3 1232.3L1903.1 1234.5L1907.9 1234.8L1912.7 1237L1917.5 1237.4L1922.3 1239.5L1927.1 1239.9L1931.9 1241.9L1936.6 1242.5L1941.4 1244.4L1946.2 1245.1L1951 1247L1955.8 1247.7L1960.6 1249.7L1965.4 1250.3L1970.2 1252.5L1975 1253L1979.7 1255.3L1984.5 1255.8L1989.3 1258.3L1994.1 1258.8L1998.9 1261.2L2003.7 1261.9L2008.5 1264.2L2013.3 1265.1L2018 1267.3L2022.8 1268.3L2027.6 1270.5L2032.4 1271.5L2037.2 1273.8"/>
<path d="M241.6 473.6L246.3 473.6L251.1 473.6L255.9 473.6L260.7 473.6L265.5 473.6L270.3 473.6L275.1 473.6L279.9 473.6L284.6 473.6L289.4 473.6L294.2 473.6L299 473.6L303.8 473.6L308.6 473.6L313.4 473.6L318.2 473.6L323 473.6L327.7 473.6L332.5 473.6L337.3 473.6L342.1 473.6L346.9 473.6L351.7 473.6L356.5 473.6L361.3 473.6L366 473.6L370.8 473.6L375.6 473.6L380.4 473.6L385.2 478.4L390 478.4L394.8 478.4L399.6 478.4L404.4 478.4L409.1 478.4L413.9 478.4L418.7 478.4L423.5 478.4L428.3 478.4L433.1 478.4L437.9 478.4L442.7 478.4L447.5 478.4L452.2 483.1L457 483.1L461.8 483.1L466.6 483.1L471.4 483.1L476.2 483.1L481 483.1L485.8 483.1L490.5 483.1L495.3 483.1L500.1 483.1L504.9 483.1L509.7 478.4L514.5 478.4L519.3 478.4L524.1 478.4L528.9 478.4L533.6 478.4L538.4 478.4L543.2 473.6L548 473.6L552.8 473.6L557.6 473.6L562.4 473.6L567.2 473.6L571.9 473.6L576.7 468.9L581.5 468.9L586.3 468.9L591.1 464.2L595.9 464.2L600.7 464.2L605.5 464.2L610.3 459.5L615 459.5L619.8 459.5L624.6 459.5L629.4 454.7L634.2 454.7L639 454.7L643.8 454.7L648.6 450L653.4 450L658.1 450L662.9 445.3L667.7 445.3L672.5 445.3L677.3 440.6L682.1 440.6L686.9 440.6L691.7 435.8L696.4 435.8L701.2 435.8L706 431.1L710.8 431.1L715.6 426.4L720.4 426.4L725.2 426.4L730 421.7L734.8 421.7L739.5 421.7L744.3 416.9L749.1 416.9L753.9 416.9L758.7 412.2L763.5 412.2L768.3 407.5L773.1 407.5L777.9 407.5L782.6 402.8L787.4 402.8L792.2 402.8L797 398L801.8 398L806.6 398L811.4 393.3L816.2 393.3L820.9 388.6L825.7 388.6L830.5 388.6L835.3 388.6L840.1 383.9L844.9 383.9L849.7 383.9L854.5 383.9L859.3 379.1L864 379.1L868.8 379.1L873.6 379.1L878.4 374.4L883.2 374.4L888 374.4L892.8 374.4L897.6 374.4L902.3 374.4L907.1 374.4L911.9 369.7L916.7 369.7L921.5 369.7L926.3 369.7L931.1 369.7L935.9 369.7L940.7 374.4L945.4 374.4L950.2 374.4L955 374.4L959.8 374.4L964.6 374.4L969.4 374.4L974.2 374.4L979 374.4L1046 426.4L1050.8 431.1L1055.6 435.8L1060.4 440.4L1065.2 445L1069.9 451.3L1074.7 455.8L1079.5 462L1084.3 466.9L1089.1 474.2L1093.9 479.8L1098.7 488L1103.5 493.6L1108.3 502.2L1113 507.9L1117.8 516.7L1122.6 522.4L1127.4 530.8L1132.2 536.8L1137 545.2L1141.8 551.5L1146.6 559.7L1151.3 566.2L1156.1 574.5L1160.9 581.2L1165.7 589.9L1170.5 597L1175.3 606.6L1180.1 614.2L1184.9 624.8L1189.7 632.7L1194.4 643.5L1199.2 651.1L1204 661.6L1208.8 669.3L1213.6 679.6L1218.4 687.6L1223.2 697.9L1228 706.5L1232.7 716.8L1237.5 725.5L1242.3 735.8L1247.1 744.1L1251.9 754.4L1256.7 762.4L1261.5 772.7L1266.3 780.3L1271.1 790.4L1275.8 797.4L1280.6 807.1L1285.4 813.7L1290.2 823.1L1295 829.9L1299.8 839.2L1304.6 846.5L1309.4 855.7L1314.2 863L1318.9 871.8L1323.7 878.5L1328.5 886.7L1333.3 892.8L1338.1 901L1342.9 906.8L1347.7 915.4L1352.5 921.3L1357.2 930.1L1362 935.9L1366.8 944.3L1371.6 949.5L1376.4 956.9L1381.2 961.7L1386 968.6L1390.8 973.5L1395.6 980.4L1400.3 985.8L1405.1 993L1409.9 998.3L1414.7 1005.4L1419.5 1009.8L1424.3 1016.3L1429.1 1019.9L1433.9 1026.1L1438.7 1029.2L1443.4 1035.2L1448.2 1038.3L1453 1044.2L1457.8 1047.5L1462.6 1053L1467.4 1056.3L1472.2 1061.3L1477 1064.4L1481.7 1069L1486.5 1071.7L1491.3 1076L1496.1 1078.3L1500.9 1082.9L1505.7 1085.2L1510.5 1090.5L1515.3 1093.1L1520.1 1098.7L1524.8 1101.1L1529.6 1106.1L1534.4 1107.8L1539.2 1111.9L1544 1113.6L1548.8 1117.3L1553.6 1118.9L1558.4 1122.2L1563.1 1123.8L1567.9 1127L1572.7 1128.3L1577.5 1131.6L1582.3 1132.7L1587.1 1136.2L1591.9 1137L1596.7 1140.7L1601.5 1141.3L1606.2 1144.9L1611 1145.6L1615.8 1149L1620.6 1149.8L1625.4 1152.9L1630.2 1153.9L1635 1156.7L1639.8 1157.8L1644.6 1160.5L1649.3 1161.4L1654.1 1164.2L1658.9 1164.9L1663.7 1167.8L1668.5 1168.3L1673.3 1171.3L1678.1 1171.6L1682.9 1174.7L1687.6 1174.8L1692.4 1177.8L1697.2 1178.1L1702 1180.8L1706.8 1181.2L1711.6 1183.7L1716.4 1184.3L1721.2 1186.6L1726 1187.2L1730.7 1189.5L1735.5 1189.9L1740.3 1192.4L1745.1 1192.6L1749.9 1195.2L1754.7 1195.1L1759.5 1197.9L1764.3 1197.7L1769 1200.4L1773.8 1200.2L1778.6 1202.8L1783.4 1202.7L1788.2 1204.9L1793 1205.1L1797.8 1207.1L1802.6 1207.3L1807.4 1209.2L1812.1 1209.4L1816.9 1211.4L1821.7 1211.4L1826.5 1213.7L1831.3 1213.5L1836.1 1216.1L1840.9 1215.8L1845.7 1218.4L1850.5 1218.2L1855.2 1220.8L1860 1220.7L1864.8 1223.2L1869.6 1223.3L1874.4 1225.6L1879.2 1225.9L1884 1228.1L1888.8 1228.5L1893.5 1230.6L1898.3 1231L1903.1 1233.3L1907.9 1233.4L1912.7 1235.9L1917.5 1235.8L1922.3 1238.5L1927.1 1238.3L1931.9 1241L1936.6 1240.8L1941.4 1243.4L1946.2 1243.5L1951 1245.8L1955.8 1246.2L1960.6 1248.4L1965.4 1248.9L1970.2 1251.1L1975 1251.6L1979.7 1253.9L1984.5 1254.3L1989.3 1257L1994.1 1257.1L1998.9 1260L2003.7 1260.1L2008.5 1263.1L2013.3 1263.2L2018 1266.2L2022.8 1266.5L2027.6 1269.3L2032.4 1269.8L2037.2 1272.5"/>
<path d="M241.6 369.7L246.3 369.7L251.1 369.7L255.9 369.7L260.7 369.7L265.5 369.7L270.3 369.7L275.1 369.7L279.9 369.7L284.6 369.7L289.4 369.7L294.2 369.7L299 369.7L303.8 369.7L308.6 369.7L313.4 369.7L318.2 365L323 365L327.7 365L332.5 365L337.3 365L342.1 365L346.9 365L351.7 365L356.5 365L361.3 365L366 365L370.8 365L375.6 369.7L380.4 369.7L385.2 365L390 369.7L394.8 369.7L399.6 369.7L404.4 369.7L409.1 369.7L413.9 369.7L418.7 369.7L423.5 369.7L428.3 369.7L433.1 369.7L437.9 369.7L442.7 369.7L447.5 369.7L452.2 369.7L457 369.7L461.8 369.7L466.6 369.7L471.4 369.7L476.2 369.7L481 365L485.8 365L490.5 365L495.3 365L500.1 365L504.9 365L509.7 365L514.5 365L519.3 360.2L524.1 360.2L528.9 360.2L533.6 360.2L538.4 360.2L543.2 360.2L548 355.5L552.8 355.5L557.6 355.5L562.4 350.8L567.2 350.8L571.9 350.8L576.7 346.1L581.5 346.1L586.3 346.1L591.1 346.1L595.9 341.3L600.7 341.3L605.5 341.3L610.3 336.6L615 336.6L619.8 336.6L624.6 331.9L629.4 331.9L634.2 327.2L639 327.2L643.8 327.2L648.6 322.4L653.4 322.4L658.1 322.4L662.9 322.4L667.7 317.7L672.5 317.7L677.3 317.7L682.1 313L686.9 313L691.7 308.3L696.4 308.3L701.2 303.5L706 303.5L710.8 298.8L715.6 298.8L720.4 294.1L725.2 294.1L730 289.4L734.8 289.4L739.5 289.4L744.3 284.6L749.1 284.6L753.9 284.6L758.7 279.9L763.5 279.9L768.3 275.2L773.1 275.2L777.9 270.5L782.6 270.5L787.4 270.5L792.2 265.7L797 265.7L801.8 265.7L806.6 261L811.4 261L816.2 261L820.9 256.3L825.7 251.6L830.5 251.6L835.3 251.6L840.1 251.6L844.9 251.6L849.7 251.6L854.5 246.8L859.3 246.8L864 246.8L868.8 246.8L873.6 246.8L878.4 246.8L883.2 246.8L888 242.1L892.8 242.1L897.6 242.1L902.3 242.1L907.1 242.1L911.9 242.1L916.7 242.1L921.5 246.8L926.3 246.8L931.1 246.8L935.9 246.8L940.7 246.8L945.4 251.6L950.2 251.6L955 251.6L959.8 251.6L964.6 256.3L969.4 261L974.2 261L979 265.7L983.8 265.7L988.5 270.5L993.3 275.2L998.1 279.9L1002.9 284.6L1007.7 284.6L1012.5 289.4L1017.3 294.1L1022.1 298.8L1026.8 303.5L1031.6 313L1036.4 317.7L1041.2 322.4L1046 331.9L1050.8 341.3L1055.6 346.1L1127.4 450L1132.2 458.4L1137 468.4L1141.8 475.8L1146.6 486.3L1151.3 494.3L1156.1 505.1L1160.9 514L1165.7 525.1L1170.5 534.4L1175.3 545.4L1180.1 554.9L1184.9 566.2L1189.7 575.6L1194.4 586.9L1199.2 595.6L1204 606.5L1208.8 614.5L1213.6 625.5L1218.4 633.5L1223.2 644.9L1228 653.6L1232.7 665.1L1237.5 674.2L1242.3 685.6L1247.1 694.7L1251.9 705.5L1256.7 714.3L1261.5 724.7L1266.3 733.2L1271.1 743.7L1275.8 752.2L1280.6 763L1285.4 771.3L1290.2 782.3L1295 790.4L1299.8 801.4L1304.6 809.5L1309.4 820.4L1314.2 828.5L1318.9 838.6L1323.7 846.1L1328.5 855.1L1333.3 862L1338.1 870.6L1342.9 877.4L1347.7 886.3L1352.5 893.4L1357.2 902.6L1362 909.4L1366.8 918.4L1371.6 924.1L1376.4 932.3L1381.2 937.3L1386 945L1390.8 949.9L1395.6 957.5L1400.3 962.7L1405.1 970L1409.9 975.3L1414.7 982.3L1419.5 987.4L1424.3 994.1L1429.1 999L1433.9 1005.6L1438.7 1009.9L1443.4 1016.4L1448.2 1020.4L1453 1027L1457.8 1030.5L1462.6 1036.8L1467.4 1039.9L1472.2 1045.6L1477 1048.4L1481.7 1053.5L1486.5 1056.3L1491.3 1061.1L1496.1 1064.1L1500.9 1068.8L1505.7 1071.8L1510.5 1076.5L1515.3 1079.3L1520.1 1084.3L1524.8 1087L1529.6 1092L1534.4 1094L1539.2 1098.7L1544 1100.4L1548.8 1105L1553.6 1106.7L1558.4 1110.9L1563.1 1112.7L1567.9 1116.6L1572.7 1118.4L1577.5 1121.9L1582.3 1123.7L1587.1 1127.2L1591.9 1128.8L1596.7 1132.3L1601.5 1133.6L1606.2 1137.2L1611 1138.2L1615.8 1141.9L1620.6 1142.7L1625.4 1146.3L1630.2 1147L1635 1150.5L1639.8 1151.2L1644.6 1154.4L1649.3 1155.2L1654.1 1158.1L1658.9 1159L1663.7 1161.6L1668.5 1162.4L1673.3 1165L1678.1 1165.6L1682.9 1168.3L1687.6 1168.7L1692.4 1171.6L1697.2 1171.7L1702 1174.7L1706.8 1174.8L1711.6 1177.8L1716.4 1178.1L1721.2 1181L1726 1181.5L1730.7 1184.2L1735.5 1185L1740.3 1187.5L1745.1 1188.3L1749.9 1190.8L1754.7 1191.4L1759.5 1193.9L1764.3 1194.2L1769 1196.8L1773.8 1196.7L1778.6 1199.3L1783.4 1199L1788.2 1201.5L1793 1201.1L1797.8 1203.5L1802.6 1203.2L1807.4 1205.4L1812.1 1205.3L1816.9 1207.2L1821.7 1207.3L1826.5 1209.2L1831.3 1209.4L1836.1 1211.4L1840.9 1211.6L1845.7 1213.9L1850.5 1213.9L1855.2 1216.5L1860 1216.3L1864.8 1219.1L1869.6 1218.9L1874.4 1221.7L1879.2 1221.6L1884 1224.2L1888.8 1224.4L1893.5 1226.8L1898.3 1227.1L1903.1 1229.3L1907.9 1229.8L1912.7 1231.9L1917.5 1232.3L1922.3 1234.5L1927.1 1234.7L1931.9 1237.2L1936.6 1237.1L1941.4 1239.8L1946.2 1239.6L1951 1242.4L1955.8 1242.2L1960.6 1244.9L1965.4 1245L1970.2 1247.5L1975 1247.8L1979.7 1250.2L1984.5 1250.8L1989.3 1253.2L1994.1 1253.9L1998.9 1256.4L2003.7 1256.9L2008.5 1259.6L2013.3 1259.9L2018 1262.7L2022.8 1262.6L2027.6 1265.4L2032.4 1265.2L2037.2 1267.8"/>
</g>
<g class="ax">
<path d="M241.55 128.7 V1320.6"/>
<path d="M216.65 1310 H2037.2"/>
<path d="M216.65 1310 H240.75 M229.75 1191.87 H240.75 M216.65 1073.74 H240.75 M229.75 955.61 H240.75 M216.65 837.48 H240.75 M229.75 719.35 H240.75 M216.65 601.22 H240.75 M229.75 483.09 H240.75 M216.65 364.96 H240.75 M229.75 246.83 H240.75 M216.65 128.7 H240.75 M241.55 1310.8 V1320.6 M361.26 1310.8 V1331.7 M480.97 1310.8 V1320.6 M600.68 1310.8 V1331.7 M720.39 1310.8 V1320.6 M840.1 1310.8 V1331.7 M959.81 1310.8 V1320.6 M1079.52 1310.8 V1331.7 M1199.23 1310.8 V1320.6 M1318.94 1310.8 V1331.7 M1438.65 1310.8 V1320.6 M1558.36 1310.8 V1331.7 M1678.07 1310.8 V1320.6 M1797.78 1310.8 V1331.7 M1917.49 1310.8 V1320.6 M2037.2 1310.8 V1331.7"/>
</g>
<text class="b" transform="translate(201.3 1325.8) scale(1.09 1)" font-size="57.2" text-anchor="end">0</text>
<text class="b" transform="translate(201.3 1089.54) scale(1.09 1)" font-size="57.2" text-anchor="end">5</text>
<text class="b" transform="translate(201.3 853.28) scale(1.09 1)" font-size="57.2" text-anchor="end">10</text>
<text class="b" transform="translate(201.3 617.02) scale(1.09 1)" font-size="57.2" text-anchor="end">15</text>
<text class="b" transform="translate(201.3 380.76) scale(1.09 1)" font-size="57.2" text-anchor="end">20</text>
<text class="b" transform="translate(201.3 144.5) scale(1.09 1)" font-size="57.2" text-anchor="end">25</text>
<text class="b" transform="translate(361.26 1390.6) scale(1.06 1)" font-size="57.2" text-anchor="middle">-700</text>
<text class="b" transform="translate(600.68 1390.6) scale(1.06 1)" font-size="57.2" text-anchor="middle">-600</text>
<text class="b" transform="translate(840.1 1390.6) scale(1.06 1)" font-size="57.2" text-anchor="middle">-500</text>
<text class="b" transform="translate(1079.52 1390.6) scale(1.06 1)" font-size="57.2" text-anchor="middle">-400</text>
<text class="b" transform="translate(1318.94 1390.6) scale(1.06 1)" font-size="57.2" text-anchor="middle">-300</text>
<text class="b" transform="translate(1558.36 1390.6) scale(1.06 1)" font-size="57.2" text-anchor="middle">-200</text>
<text class="b" transform="translate(1797.78 1390.6) scale(1.06 1)" font-size="57.2" text-anchor="middle">-100</text>
<text class="b" transform="translate(2037.2 1390.6) scale(1.09 1)" font-size="57.2" text-anchor="middle">0</text>
<text class="b" transform="translate(1140.5 1481.2) scale(1.1 1)" font-size="68.7" text-anchor="middle">E vs.SCE/mV</text>
<text class="b" transform="translate(21 805.4) rotate(-90)" font-size="68.7" x="0 24 45.2 72 98.7 135.9">I / µA</text>
<text class="r" transform="translate(1697.2 576.8) scale(1.03 1)" font-size="41.8" text-anchor="start">4e-4</text>
<text class="r" transform="translate(1697.2 625.6) scale(1.03 1)" font-size="41.8" text-anchor="start">3e-4</text>
<text class="r" transform="translate(1697.2 674.4) scale(1.03 1)" font-size="41.8" text-anchor="start">2e-4</text>
<text class="r" transform="translate(1697.2 723.2) scale(1.03 1)" font-size="41.8" text-anchor="start">e-4</text>
<text class="r" transform="translate(1697.2 772) scale(1.03 1)" font-size="41.8" text-anchor="start">9e-5</text>
<text class="r" transform="translate(1697.2 820.8) scale(1.03 1)" font-size="41.8" text-anchor="start">8e-5</text>
<text class="r" transform="translate(1697.2 869.6) scale(1.03 1)" font-size="41.8" text-anchor="start">7e-5</text>
<text class="r" transform="translate(1697.2 918.4) scale(1.03 1)" font-size="41.8" text-anchor="start">6e-5</text>
<text class="r" transform="translate(1697.2 967.2) scale(1.03 1)" font-size="41.8" text-anchor="start">5e-5</text>
<text class="r" transform="translate(1697.2 1016) scale(1.03 1)" font-size="41.8" text-anchor="start">4e-5</text>
<text class="r" transform="translate(1697.2 1064.8) scale(1.03 1)" font-size="41.8" text-anchor="start">3e-5</text>
<text class="r" transform="translate(1697.2 1113.6) scale(1.03 1)" font-size="41.8" text-anchor="start">2e-5</text>
<text class="r" transform="translate(1697.2 1162.4) scale(1.03 1)" font-size="41.8" text-anchor="start">e-5</text>
<path d="M1658.8 1157.7 V572" stroke="#000" stroke-width="3.9" fill="none"/>
<path d="M1658.8 551.5 L1665 573.4 H1652.6 Z" fill="#000"/>
<g class="iax">
<path d="M1313.6 2.05 V430.7"/>
<path d="M1305.3 426.2 H1876.4"/>
<path d="M1305.3 426.2 H1313.6 M1309.6 401.25 H1313.6 M1305.3 376.3 H1313.6 M1309.6 351.35 H1313.6 M1305.3 326.4 H1313.6 M1309.6 301.45 H1313.6 M1305.3 276.5 H1313.6 M1309.6 251.55 H1313.6 M1305.3 226.6 H1313.6 M1309.6 201.65 H1313.6 M1305.3 176.7 H1313.6 M1309.6 151.75 H1313.6 M1305.3 126.8 H1313.6 M1309.6 101.85 H1313.6 M1305.3 76.9 H1313.6 M1309.6 51.95 H1313.6 M1305.3 27 H1313.6 M1309.6 2.05 H1313.6 M1313.6 426.2 V430.7 M1360.5 426.2 V434.7 M1407.4 426.2 V430.7 M1454.3 426.2 V434.7 M1501.2 426.2 V430.7 M1548.1 426.2 V434.7 M1595 426.2 V430.7 M1641.9 426.2 V434.7 M1688.8 426.2 V430.7 M1735.7 426.2 V434.7 M1782.6 426.2 V430.7 M1829.5 426.2 V434.7 M1876.4 426.2 V430.7"/>
</g>
<text class="b" transform="translate(1300.3 432.7) scale(0.97 1)" font-size="22" text-anchor="end">0</text>
<text class="b" transform="translate(1300.3 382.8) scale(0.97 1)" font-size="22" text-anchor="end">2</text>
<text class="b" transform="translate(1300.3 332.9) scale(0.97 1)" font-size="22" text-anchor="end">4</text>
<text class="b" transform="translate(1300.3 283) scale(0.97 1)" font-size="22" text-anchor="end">6</text>
<text class="b" transform="translate(1300.3 233.1) scale(0.97 1)" font-size="22" text-anchor="end">8</text>
<text class="b" transform="translate(1300.3 183.2) scale(0.97 1)" font-size="22" text-anchor="end">10</text>
<text class="b" transform="translate(1300.3 133.3) scale(0.97 1)" font-size="22" text-anchor="end">12</text>
<text class="b" transform="translate(1300.3 83.4) scale(0.97 1)" font-size="22" text-anchor="end">14</text>
<text class="b" transform="translate(1300.3 33.5) scale(0.97 1)" font-size="22" text-anchor="end">16</text>
<text class="b" transform="translate(1360.5 457.9) scale(0.99 1)" font-size="22" text-anchor="middle">0</text>
<text class="b" transform="translate(1454.3 457.9) scale(0.99 1)" font-size="22" text-anchor="middle">10</text>
<text class="b" transform="translate(1548.1 457.9) scale(0.99 1)" font-size="22" text-anchor="middle">20</text>
<text class="b" transform="translate(1641.9 457.9) scale(0.99 1)" font-size="22" text-anchor="middle">30</text>
<text class="b" transform="translate(1735.7 457.9) scale(0.99 1)" font-size="22" text-anchor="middle">40</text>
<text class="b" transform="translate(1829.5 457.9) scale(0.99 1)" font-size="22" text-anchor="middle">50</text>
<path d="M1323.9 399.8 L1864.3 1.7" stroke="#000" stroke-width="1" fill="none"/>
<path d="M1366.28 372.9h7.8v7.8h-7.8z M1375.66 360.42h7.8v7.8h-7.8z M1385.04 347.95h7.8v7.8h-7.8z M1394.42 343.21h7.8v7.8h-7.8z M1403.8 334.23h7.8v7.8h-7.8z M1413.18 327.24h7.8v7.8h-7.8z M1422.56 319.75h7.8v7.8h-7.8z M1431.94 311.27h7.8v7.8h-7.8z M1441.32 302.79h7.8v7.8h-7.8z M1450.7 297.05h7.8v7.8h-7.8z M1544.5 225.94h7.8v7.8h-7.8z M1638.3 158.58h7.8v7.8h-7.8z M1732.1 87.97h7.8v7.8h-7.8z M1825.9 33.33h7.8v7.8h-7.8z" fill="#000"/>
<text class="r" transform="translate(1507 502.8) scale(0.95 1)" font-size="28.6"><tspan x="0" y="0">[</tspan><tspan x="8.11" y="0">H</tspan><tspan x="27.58" y="10.1" font-size="17">2</tspan><tspan x="36.21" y="0">O</tspan><tspan x="55.05" y="10.1" font-size="17">2</tspan><tspan x="63.47 72.84 80.74 93.47" y="0">]/10</tspan><tspan x="106.74 112" y="-15" font-size="17">-5</tspan><tspan x="120 141.26 155.37 162 169.47" y="0">mol/L</tspan></text>
<text class="r" transform="translate(1261.1 264.6) rotate(-90) scale(0.875 1)" font-size="28.2">ΔI/µA</text>
</svg>
</body></html>
